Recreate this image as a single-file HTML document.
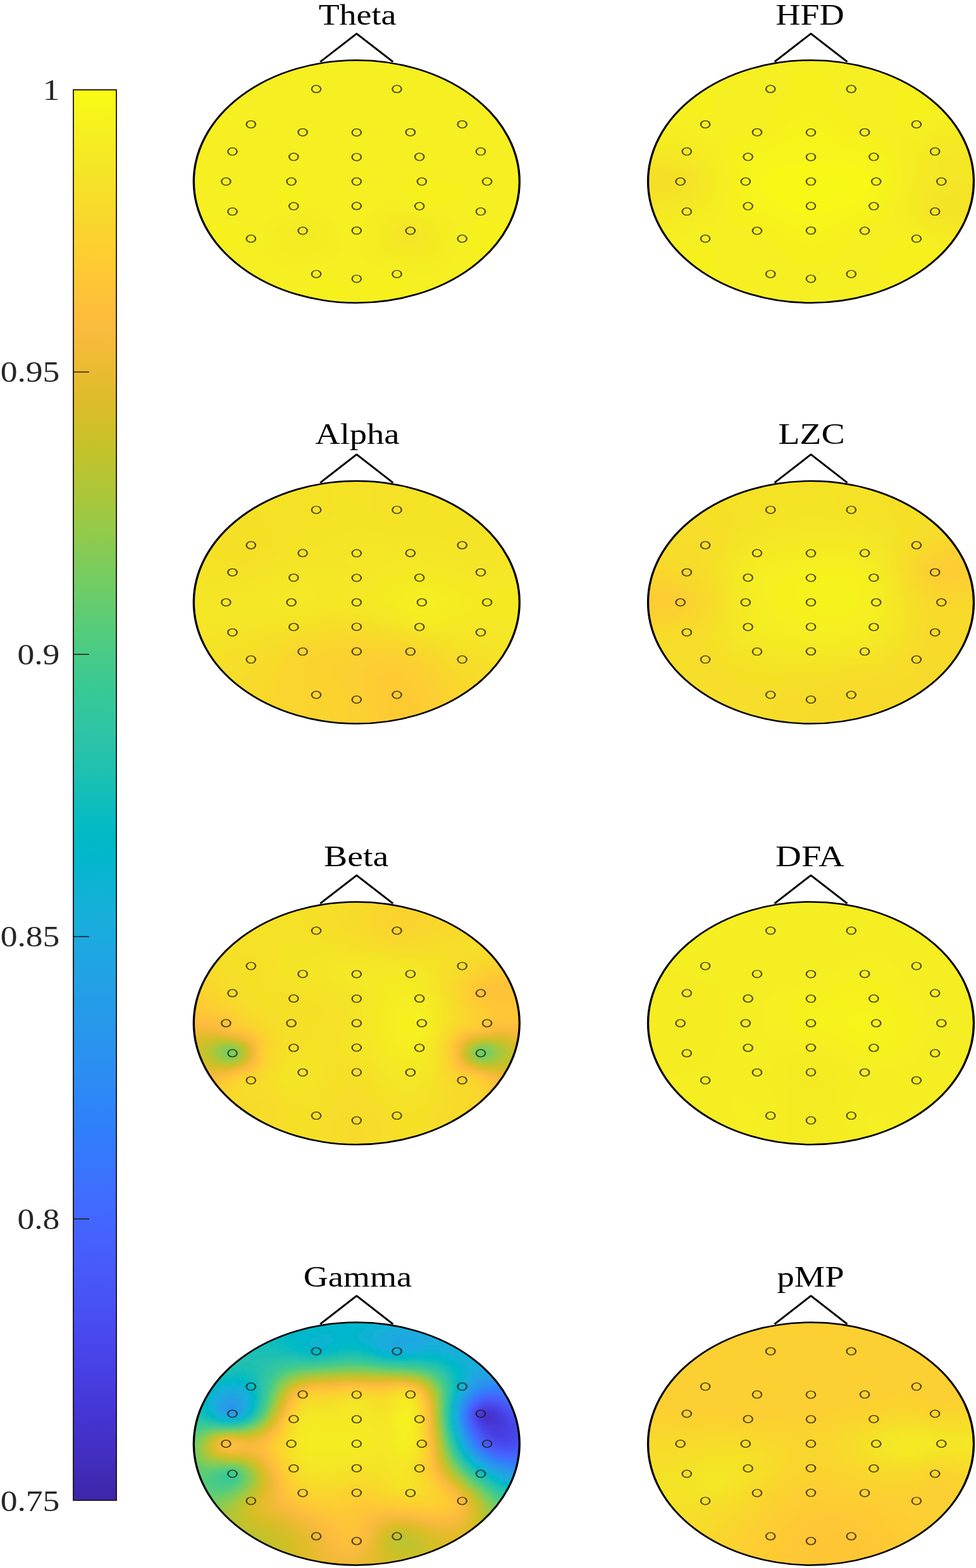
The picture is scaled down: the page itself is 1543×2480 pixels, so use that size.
<!DOCTYPE html>
<html lang="en">
<head>
<meta charset="utf-8">
<title>Topographic maps</title>
<style>
html,body{margin:0;padding:0;background:#fff;}
body{width:1543px;height:2480px;overflow:hidden;}
svg{display:block;}
text{font-family:"Liberation Serif","DejaVu Serif",serif;font-size:46px;}
.tt{fill:#000;}
.tk{fill:#262626;}
</style>
</head>
<body>
<svg width="1543" height="2480" viewBox="0 0 1543 2480">
<defs>
<linearGradient id="cb" x1="0" y1="0" x2="0" y2="1"><stop offset="0.0000" stop-color="#f9fb15"/><stop offset="0.0156" stop-color="#f7f51b"/><stop offset="0.0312" stop-color="#f6ef20"/><stop offset="0.0469" stop-color="#f5e924"/><stop offset="0.0625" stop-color="#f5e327"/><stop offset="0.0781" stop-color="#f7dd2a"/><stop offset="0.0938" stop-color="#f9d62d"/><stop offset="0.1094" stop-color="#fcd030"/><stop offset="0.1250" stop-color="#feca33"/><stop offset="0.1406" stop-color="#fec437"/><stop offset="0.1562" stop-color="#febe3c"/><stop offset="0.1719" stop-color="#f9bb3d"/><stop offset="0.1875" stop-color="#f1ba37"/><stop offset="0.2031" stop-color="#e8bb2f"/><stop offset="0.2188" stop-color="#debc2a"/><stop offset="0.2344" stop-color="#d4bf28"/><stop offset="0.2500" stop-color="#c8c129"/><stop offset="0.2656" stop-color="#bcc42f"/><stop offset="0.2812" stop-color="#afc637"/><stop offset="0.2969" stop-color="#a2c840"/><stop offset="0.3125" stop-color="#94ca4a"/><stop offset="0.3281" stop-color="#85cb55"/><stop offset="0.3438" stop-color="#77cc60"/><stop offset="0.3594" stop-color="#69cd6b"/><stop offset="0.3750" stop-color="#5ccc76"/><stop offset="0.3906" stop-color="#4fcc80"/><stop offset="0.4062" stop-color="#44ca8a"/><stop offset="0.4219" stop-color="#3ac993"/><stop offset="0.4375" stop-color="#34c79c"/><stop offset="0.4531" stop-color="#2ec5a4"/><stop offset="0.4688" stop-color="#28c2ab"/><stop offset="0.4844" stop-color="#1ec0b2"/><stop offset="0.5000" stop-color="#12beb9"/><stop offset="0.5156" stop-color="#07bcc0"/><stop offset="0.5312" stop-color="#01b9c6"/><stop offset="0.5469" stop-color="#04b6cd"/><stop offset="0.5625" stop-color="#0cb3d3"/><stop offset="0.5781" stop-color="#14b0d8"/><stop offset="0.5938" stop-color="#1aacdd"/><stop offset="0.6094" stop-color="#1ea7e1"/><stop offset="0.6250" stop-color="#21a3e3"/><stop offset="0.6406" stop-color="#249ee6"/><stop offset="0.6562" stop-color="#269ae9"/><stop offset="0.6719" stop-color="#2895ec"/><stop offset="0.6875" stop-color="#2c90f0"/><stop offset="0.7031" stop-color="#2d8bf4"/><stop offset="0.7188" stop-color="#2e85f8"/><stop offset="0.7344" stop-color="#3080fa"/><stop offset="0.7500" stop-color="#347afd"/><stop offset="0.7656" stop-color="#3a74fe"/><stop offset="0.7812" stop-color="#3f6efe"/><stop offset="0.7969" stop-color="#4368fe"/><stop offset="0.8125" stop-color="#4562fc"/><stop offset="0.8281" stop-color="#475dfa"/><stop offset="0.8438" stop-color="#4757f7"/><stop offset="0.8594" stop-color="#4852f4"/><stop offset="0.8750" stop-color="#484cef"/><stop offset="0.8906" stop-color="#4746ea"/><stop offset="0.9062" stop-color="#4741e5"/><stop offset="0.9219" stop-color="#463bdd"/><stop offset="0.9375" stop-color="#4536d5"/><stop offset="0.9531" stop-color="#4332ca"/><stop offset="0.9688" stop-color="#422ebf"/><stop offset="0.9844" stop-color="#402ab4"/><stop offset="1.0000" stop-color="#3e26a8"/></linearGradient>
<clipPath id="c0"><ellipse cx="563.8" cy="287.1" rx="258.2" ry="192.5"/></clipPath>
<clipPath id="c1"><ellipse cx="1282.0" cy="287.1" rx="258.2" ry="192.5"/></clipPath>
<clipPath id="c2"><ellipse cx="563.8" cy="952.7" rx="258.2" ry="192.5"/></clipPath>
<clipPath id="c3"><ellipse cx="1282.0" cy="952.7" rx="258.2" ry="192.5"/></clipPath>
<clipPath id="c4"><ellipse cx="563.8" cy="1618.3" rx="258.2" ry="192.5"/></clipPath>
<clipPath id="c5"><ellipse cx="1282.0" cy="1618.3" rx="258.2" ry="192.5"/></clipPath>
<clipPath id="c6"><ellipse cx="563.8" cy="2283.5" rx="258.2" ry="192.5"/></clipPath>
<clipPath id="c7"><ellipse cx="1282.0" cy="2283.5" rx="258.2" ry="192.5"/></clipPath>
<filter id="bl" x="-5%" y="-5%" width="110%" height="110%"><feGaussianBlur stdDeviation="2.2"/></filter>
<path id="m" fill-rule="evenodd" d="M-8.30 0a8.30 6.50 0 1 0 16.60 0a8.30 6.50 0 1 0 -16.60 0zM-6.10 0a6.10 5.05 0 1 0 12.20 0a6.10 5.05 0 1 0 -12.20 0z"/>
</defs>
<rect width="1543" height="2480" fill="#fff"/>
<rect x="116.0" y="142.1" width="68.0" height="2230.8" fill="url(#cb)" stroke="#1a1210" stroke-width="1.8"/>
<text class="tk" transform="translate(94.4 157.8) scale(1.165 1)" text-anchor="end">1</text>
<line x1="116.0" y1="588.4" x2="141.0" y2="588.4" stroke="#1a1210" stroke-width="1.4"/>
<text class="tk" transform="translate(94.4 604.3) scale(1.165 1)" text-anchor="end">0.95</text>
<line x1="116.0" y1="1034.9" x2="141.0" y2="1034.9" stroke="#1a1210" stroke-width="1.4"/>
<text class="tk" transform="translate(94.4 1050.8) scale(1.165 1)" text-anchor="end">0.9</text>
<line x1="116.0" y1="1481.4" x2="141.0" y2="1481.4" stroke="#1a1210" stroke-width="1.4"/>
<text class="tk" transform="translate(94.4 1497.3) scale(1.165 1)" text-anchor="end">0.85</text>
<line x1="116.0" y1="1927.9" x2="141.0" y2="1927.9" stroke="#1a1210" stroke-width="1.4"/>
<text class="tk" transform="translate(94.4 1943.8) scale(1.165 1)" text-anchor="end">0.8</text>
<text class="tk" transform="translate(94.4 2390.3) scale(1.165 1)" text-anchor="end">0.75</text>
<g>
<text class="tt" transform="translate(565.0 38.5) scale(1.172 1)" text-anchor="middle">Theta</text>
<path transform="translate(563.8 53.2) scale(1.22 1)" d="M-47.1 44.6L0 0L47.1 44.6" fill="none" stroke="#000" stroke-width="2.7" stroke-linejoin="round"/>
<g clip-path="url(#c0)"><g filter="url(#bl)" fill="none" stroke-width="4" shape-rendering="crispEdges">
<path stroke="#f5e526" d="M638 361h20M634 365h28M630 369h32M634 373h28M634 377h28M642 381h12"/>
<path stroke="#f5e626" d="M642 353h8M630 357h32M626 361h12M658 361h12M622 365h12M662 365h8M622 369h8M662 369h12M622 373h12M662 373h12M622 377h12M662 377h8M626 381h16M654 381h16M630 385h36M642 389h12"/>
<path stroke="#f5e825" d="M634 349h20M622 353h20M650 353h16M618 357h12M662 357h12M618 361h8M670 361h8M614 365h8M670 365h8M614 369h8M674 369h8M614 373h8M674 373h8M614 377h8M670 377h12M618 381h8M670 381h8M618 385h12M666 385h12M622 389h20M654 389h20M630 393h36"/>
<path stroke="#f5e924" d="M626 345h32M618 349h16M654 349h16M614 353h8M666 353h12M610 357h8M674 357h8M606 361h12M678 361h8M474 365h8M606 365h8M678 365h12M474 369h8M606 369h8M682 369h8M606 373h8M682 373h8M606 377h8M682 377h8M606 381h12M678 381h12M610 385h8M678 385h8M610 389h12M674 389h12M614 393h16M666 393h16M622 397h56M630 401h40"/>
<path stroke="#f5eb23" d="M614 341h48M610 345h16M658 345h16M606 349h12M670 349h16M470 353h16M602 353h12M678 353h12M462 357h32M598 357h12M682 357h12M454 361h44M598 361h8M686 361h8M454 365h20M482 365h20M598 365h8M690 365h8M450 369h24M482 369h20M598 369h8M690 369h8M450 373h52M598 373h8M690 373h8M454 377h48M598 377h8M690 377h8M454 381h44M598 381h8M690 381h8M458 385h36M598 385h12M686 385h12M466 389h20M598 389h12M686 389h12M602 393h12M682 393h12M606 397h16M678 397h12M610 401h20M670 401h16M618 405h64M634 409h40"/>
<path stroke="#f5ec22" d="M614 333h32M606 337h60M598 341h16M662 341h20M466 345h32M594 345h16M674 345h16M454 349h52M594 349h12M686 349h12M446 353h24M486 353h24M590 353h12M690 353h12M442 357h20M494 357h20M590 357h8M694 357h12M438 361h16M498 361h16M590 361h8M694 361h12M434 365h20M502 365h16M586 365h12M698 365h8M434 369h16M502 369h16M586 369h12M698 369h12M434 373h16M502 373h16M586 373h12M698 373h12M434 377h20M502 377h16M586 377h12M698 377h12M434 381h20M498 381h20M586 381h12M698 381h8M438 385h20M494 385h20M586 385h12M698 385h8M438 389h28M486 389h28M586 389h12M698 389h8M442 393h68M590 393h12M694 393h12M446 397h60M590 397h16M690 397h16M454 401h40M594 401h16M686 401h16M598 405h20M682 405h16M606 409h28M674 409h20M618 413h72M634 417h48"/>
<path stroke="#f5ee21" d="M610 321h16M598 325h44M594 329h60M482 333h20M590 333h24M646 333h28M454 337h60M586 337h20M666 337h32M438 341h80M582 341h16M682 341h24M430 345h36M498 345h24M582 345h12M690 345h20M426 349h28M506 349h20M582 349h12M698 349h16M422 353h24M510 353h20M578 353h12M702 353h16M418 357h24M514 357h16M578 357h12M706 357h12M418 361h20M514 361h16M578 361h12M706 361h12M418 365h16M518 365h16M578 365h8M706 365h12M418 369h16M518 369h16M578 369h8M710 369h8M418 373h16M518 373h16M574 373h12M710 373h8M418 377h16M518 377h16M574 377h12M710 377h8M418 381h16M518 381h20M570 381h16M706 381h12M418 385h20M514 385h24M570 385h16M706 385h12M418 389h20M514 389h24M570 389h16M706 389h12M418 393h24M510 393h28M570 393h20M706 393h12M422 397h24M506 397h28M570 397h20M706 397h12M422 401h32M494 401h36M570 401h24M702 401h16M426 405h100M574 405h24M698 405h20M430 409h92M578 409h28M694 409h20M434 413h76M582 413h36M690 413h24M442 417h52M594 417h40M682 417h28M462 421h8M610 421h96M634 425h64M650 429h40"/>
<path stroke="#f6ef20" d="M514 85h100M490 89h148M474 93h180M458 97h208M446 101h236M438 105h252M426 109h276M418 113h292M410 117h308M402 121h324M394 125h340M386 129h352M382 133h364M374 137h376M370 141h388M366 145h396M358 149h408M354 153h420M350 157h428M346 161h436M342 165h444M338 169h452M334 173h460M330 177h468M326 181h472M326 185h476M322 189h484M318 193h492M318 197h492M314 201h500M310 205h508M310 209h508M306 213h516M306 217h516M302 221h524M302 225h524M298 229h532M298 233h532M298 237h532M294 241h540M294 245h540M294 249h540M294 253h540M290 257h548M290 261h548M290 265h548M290 269h548M290 273h548M290 277h548M290 281h548M290 285h548M290 289h396M718 289h120M290 293h380M726 293h112M290 297h352M730 297h108M290 301h148M490 301h148M734 301h104M290 305h144M490 305h152M734 305h104M290 309h140M486 309h156M734 309h104M290 313h144M482 313h164M730 313h108M290 317h152M474 317h176M726 317h112M294 321h160M466 321h144M626 321h32M710 321h124M294 325h304M642 325h192M294 329h300M654 329h180M294 333h188M502 333h88M674 333h160M298 337h156M514 337h72M698 337h132M298 341h140M518 341h64M706 341h124M298 345h132M522 345h60M710 345h120M302 349h124M526 349h56M714 349h44M786 349h40M302 353h120M530 353h48M718 353h32M794 353h32M306 357h32M370 357h48M530 357h48M718 357h28M798 357h24M306 361h28M378 361h40M530 361h48M718 361h24M802 361h20M310 365h20M382 365h36M534 365h44M718 365h20M806 365h12M310 369h16M382 369h36M534 369h44M718 369h20M806 369h12M314 373h16M386 373h32M534 373h40M718 373h16M806 373h8M318 377h12M386 377h32M534 377h40M718 377h16M802 377h8M318 381h16M386 381h32M538 381h32M718 381h16M798 381h12M322 385h20M386 385h32M538 385h32M718 385h20M794 385h12M326 389h28M382 389h36M538 389h32M718 389h20M786 389h16M326 393h44M378 393h40M538 393h32M718 393h24M774 393h24M330 397h92M534 397h36M718 397h28M766 397h32M334 401h88M530 401h40M718 401h76M338 405h88M526 405h48M718 405h72M342 409h88M522 409h56M714 409h72M346 413h88M510 413h72M714 413h68M350 417h92M494 417h100M710 417h68M354 421h108M470 421h140M706 421h68M358 425h276M698 425h68M366 429h284M690 429h72M370 433h388M374 437h232M630 437h124M382 441h124M514 441h76M638 441h108M386 445h108M530 445h52M642 445h96M394 449h96M538 449h40M646 449h88M402 453h88M542 453h28M650 453h76M410 457h80M550 457h16M650 457h68M418 461h76M554 461h8M646 461h64M426 465h72M550 465h16M642 465h60M434 469h68M546 469h24M634 469h56M446 473h64M538 473h36M630 473h52M458 477h60M530 477h52M622 477h48M474 481h116M614 481h40M490 485h148M514 489h100"/>
<path stroke="#f6f11f" d="M686 289h32M670 293h56M642 297h88M438 301h52M638 301h96M434 305h56M642 305h92M430 309h56M642 309h92M434 313h48M646 313h84M442 317h32M650 317h76M454 321h12M658 321h52M758 349h28M750 353h44M338 357h32M746 357h52M334 361h44M742 361h60M330 365h52M738 365h68M326 369h56M738 369h68M330 373h56M734 373h72M330 377h56M734 377h68M334 381h52M734 381h64M342 385h44M738 385h56M354 389h28M738 389h48M370 393h8M742 393h32M746 397h20M606 437h24M506 441h8M590 441h48M494 445h36M582 445h60M490 449h48M578 449h68M490 453h52M570 453h80M490 457h60M566 457h84M494 461h60M562 461h84M498 465h52M566 465h76M502 469h44M570 469h64M510 473h28M574 473h56M518 477h12M582 477h40M590 481h24"/>
</g></g>
<circle transform="translate(563.8 287.1) scale(1.3418 1)" r="191.9" fill="none" stroke="#000" stroke-width="2.5"/>
<g fill="#1e1600" fill-opacity="0.78">
<use href="#m" x="500.0" y="140.8"/>
<use href="#m" x="627.5" y="140.8"/>
<use href="#m" x="396.8" y="196.7"/>
<use href="#m" x="730.7" y="196.7"/>
<use href="#m" x="367.5" y="239.6"/>
<use href="#m" x="760.0" y="239.6"/>
<use href="#m" x="357.4" y="287.1"/>
<use href="#m" x="770.1" y="287.1"/>
<use href="#m" x="367.5" y="334.6"/>
<use href="#m" x="760.0" y="334.6"/>
<use href="#m" x="396.8" y="377.5"/>
<use href="#m" x="730.7" y="377.5"/>
<use href="#m" x="500.0" y="433.4"/>
<use href="#m" x="627.5" y="433.4"/>
<use href="#m" x="563.8" y="440.9"/>
<use href="#m" x="478.6" y="209.2"/>
<use href="#m" x="648.9" y="209.2"/>
<use href="#m" x="464.3" y="248.1"/>
<use href="#m" x="663.2" y="248.1"/>
<use href="#m" x="460.6" y="287.1"/>
<use href="#m" x="666.9" y="287.1"/>
<use href="#m" x="464.3" y="326.1"/>
<use href="#m" x="663.2" y="326.1"/>
<use href="#m" x="478.6" y="365.0"/>
<use href="#m" x="648.9" y="365.0"/>
<use href="#m" x="563.8" y="209.5"/>
<use href="#m" x="563.8" y="248.4"/>
<use href="#m" x="563.8" y="287.1"/>
<use href="#m" x="563.8" y="325.8"/>
<use href="#m" x="563.8" y="364.7"/>
</g>
</g>
<g>
<text class="tt" transform="translate(1280.4 38.5) scale(1.179 1)" text-anchor="middle">HFD</text>
<path transform="translate(1282.0 53.2) scale(1.22 1)" d="M-47.1 44.6L0 0L47.1 44.6" fill="none" stroke="#000" stroke-width="2.7" stroke-linejoin="round"/>
<g clip-path="url(#c1)"><g filter="url(#bl)" fill="none" stroke-width="4" shape-rendering="crispEdges">
<path stroke="#f6e028" d="M1032 273h28M1016 277h56M1008 281h72M1008 285h72M1008 289h72M1008 293h72M1016 297h56M1032 301h28"/>
<path stroke="#f5e228" d="M1016 265h44M1008 269h68M1008 273h24M1060 273h20M1008 277h8M1072 277h12M1080 281h8M1080 285h8M1080 289h8M1080 293h8M1008 297h8M1072 297h12M1008 301h24M1060 301h20M1008 305h68M1012 309h48"/>
<path stroke="#f5e327" d="M1008 257h44M1008 261h64M1008 265h8M1060 265h20M1076 269h12M1080 273h12M1084 277h12M1088 281h8M1088 285h8M1088 289h8M1088 293h8M1084 297h12M1080 301h12M1076 305h12M1008 309h4M1060 309h20M1496 309h24M1008 313h64M1488 313h40M1008 317h44M1484 317h52M1480 321h60M1480 325h68M1480 329h68M1480 333h72M1484 337h64M1496 341h48M1520 345h16"/>
<path stroke="#f5e526" d="M1012 249h20M1012 253h52M1052 257h28M1072 261h16M1080 265h12M1088 269h8M1092 273h8M1096 277h8M1096 281h8M1096 285h8M1096 289h8M1500 289h24M1096 293h8M1492 293h40M1096 297h8M1488 297h56M1092 301h8M1480 301h76M1088 305h8M1476 305h80M1080 309h12M1476 309h20M1520 309h36M1072 313h16M1472 313h16M1528 313h28M1052 317h28M1468 317h16M1536 317h20M1012 321h52M1468 321h12M1540 321h12M1012 325h24M1468 325h12M1548 325h4M1468 329h12M1548 329h4M1468 333h12M1472 337h12M1476 341h20M1544 341h4M1480 345h40M1536 345h12M1492 349h52M1508 353h36M1536 357h4"/>
<path stroke="#f5e626" d="M1012 241h12M1012 245h44M1496 245h36M1032 249h40M1488 249h52M1064 253h20M1488 253h60M1080 257h12M1484 257h72M1088 261h8M1484 261h72M1092 265h12M1484 265h72M1096 269h8M1484 269h72M1100 273h8M1484 273h72M1104 277h4M1480 277h76M1104 281h8M1480 281h76M1104 285h8M1476 285h80M1104 289h8M1476 289h24M1524 289h32M1104 293h8M1472 293h20M1532 293h24M1104 297h4M1468 297h20M1544 297h12M1100 301h8M1468 301h12M1096 305h8M1464 305h12M1092 309h12M1464 309h12M1088 313h12M1460 313h12M1080 317h12M1460 317h8M1064 321h20M1460 321h8M1036 325h40M1460 325h8M1012 329h44M1460 329h8M1012 333h16M1460 333h8M1460 337h12M1464 341h12M1468 345h12M1476 349h16M1484 353h24M1496 357h40M1512 361h28M1528 365h8"/>
<path stroke="#f5e825" d="M1512 225h32M1496 229h52M1016 233h8M1484 233h64M1016 237h32M1476 237h72M1024 241h44M1472 241h80M1056 245h24M1472 245h24M1532 245h20M1072 249h20M1468 249h20M1540 249h12M1084 253h16M1468 253h20M1548 253h4M1092 257h12M1468 257h16M1096 261h12M1468 261h16M1104 265h8M1468 265h16M1104 269h8M1468 269h16M1108 273h8M1468 273h16M1108 277h8M1464 277h16M1112 281h4M1464 281h16M1112 285h8M1464 285h12M1112 289h8M1460 289h16M1112 293h4M1460 293h12M1108 297h8M1460 297h8M1108 301h8M1456 301h12M1104 305h8M1456 305h8M1104 309h8M1452 309h12M1100 313h8M1452 313h8M1092 317h12M1452 317h8M1084 321h16M1452 321h8M1076 325h16M1452 325h8M1056 329h24M1452 329h8M1028 333h40M1452 333h8M1016 337h36M1452 337h8M1016 341h8M1456 341h8M1460 345h8M1464 349h12M1468 353h16M1480 357h16M1488 361h24M1500 365h28M1516 369h20M1528 373h4"/>
<path stroke="#f5e924" d="M1516 213h24M1500 217h40M1488 221h56M1020 225h8M1476 225h36M1016 229h28M1468 229h28M1024 233h40M1464 233h20M1048 237h32M1460 237h16M1068 241h20M1460 241h12M1080 245h20M1456 245h16M1092 249h12M1456 249h12M1100 253h8M1456 253h12M1104 257h8M1456 257h12M1108 261h8M1456 261h12M1112 265h8M1456 265h12M1112 269h8M1456 269h12M1116 273h8M1456 273h12M1116 277h8M1456 277h8M1116 281h8M1452 281h12M1120 285h4M1452 285h12M1120 289h4M1452 289h8M1116 293h8M1452 293h8M1116 297h8M1448 297h12M1116 301h8M1448 301h8M1112 305h8M1448 305h8M1112 309h8M1444 309h8M1108 313h8M1444 313h8M1104 317h12M1444 317h8M1100 321h12M1444 321h8M1092 325h12M1444 325h8M1080 329h20M1444 329h8M1068 333h24M1444 333h8M1052 337h28M1444 337h8M1024 341h44M1448 341h8M1016 345h32M1448 345h12M1020 349h8M1452 349h12M1460 353h8M1464 357h16M1472 361h16M1484 365h16M1492 369h24M1504 373h24M1516 377h12"/>
<path stroke="#f5eb23" d="M1520 201h12M1508 205h28M1496 209h40M1484 213h32M1024 217h12M1472 217h28M1020 221h28M1464 221h24M1028 225h40M1460 225h16M1044 229h36M1456 229h12M1064 233h28M1452 233h12M1080 237h20M1448 237h12M1088 241h20M1448 241h12M1100 245h12M1448 245h8M1104 249h12M1448 249h8M1108 253h12M1444 253h12M1112 257h12M1444 257h12M1116 261h8M1444 261h12M1120 265h8M1444 265h12M1120 269h8M1444 269h12M1124 273h8M1444 273h12M1124 277h8M1444 277h12M1124 281h8M1444 281h8M1124 285h8M1444 285h8M1124 289h8M1444 289h8M1124 293h8M1440 293h12M1124 297h8M1440 297h8M1124 301h8M1440 301h8M1120 305h8M1440 305h8M1120 309h8M1436 309h8M1116 313h12M1436 313h8M1116 317h8M1436 317h8M1112 321h8M1436 321h8M1104 325h12M1436 325h8M1100 329h12M1436 329h8M1092 333h16M1436 333h8M1080 337h20M1436 337h8M1068 341h24M1436 341h12M1048 345h32M1440 345h8M1028 349h40M1444 349h8M1020 353h32M1448 353h12M1024 357h12M1452 357h12M1460 361h12M1468 365h16M1476 369h16M1488 373h16M1496 377h20M1508 381h20M1516 385h8"/>
<path stroke="#f5ec22" d="M1520 189h4M1512 193h16M1500 197h28M1488 201h32M1028 205h8M1480 205h28M1028 209h20M1472 209h24M1024 213h36M1460 213h24M1036 217h40M1456 217h16M1048 221h40M1448 221h16M1068 225h28M1444 225h16M1080 229h28M1440 229h16M1092 233h20M1440 233h12M1100 237h20M1436 237h12M1108 241h16M1436 241h12M1112 245h12M1436 245h12M1116 249h12M1436 249h12M1120 253h12M1436 253h8M1124 257h8M1436 257h8M1124 261h12M1436 261h8M1128 265h8M1436 265h8M1128 269h8M1436 269h8M1132 273h8M1436 273h8M1132 277h8M1436 277h8M1132 281h8M1436 281h8M1132 285h8M1436 285h8M1132 289h8M1436 289h8M1132 293h8M1432 293h8M1132 297h8M1432 297h8M1132 301h8M1432 301h8M1128 305h8M1432 305h8M1128 309h8M1428 309h8M1128 313h8M1428 313h8M1124 317h8M1428 317h8M1120 321h12M1428 321h8M1116 325h12M1428 325h8M1112 329h16M1424 329h12M1108 333h16M1424 333h12M1100 337h20M1428 337h8M1092 341h20M1428 341h8M1080 345h28M1428 345h12M1068 349h32M1432 349h12M1052 353h36M1436 353h12M1036 357h40M1440 357h12M1024 361h36M1448 361h12M1028 365h20M1456 365h12M1028 369h8M1464 369h12M1472 373h16M1480 377h16M1488 381h20M1500 385h16M1508 389h12M1516 393h4"/>
<path stroke="#f5ee21" d="M1512 177h4M1508 181h8M1500 185h20M1040 189h4M1492 189h28M1036 193h16M1480 193h32M1036 197h24M1472 197h28M1032 201h36M1464 201h24M1036 205h44M1456 205h24M1048 209h44M1448 209h24M1060 213h44M1440 213h20M1076 217h36M1432 217h24M1088 221h32M1428 221h20M1096 225h28M1428 225h16M1108 229h20M1424 229h16M1112 233h20M1424 233h16M1120 237h16M1424 237h12M1124 241h12M1424 241h12M1124 245h12M1424 245h12M1128 249h12M1424 249h12M1132 253h8M1424 253h12M1132 257h12M1428 257h8M1136 261h8M1428 261h8M1136 265h8M1428 265h8M1136 269h8M1428 269h8M1140 273h8M1428 273h8M1140 277h8M1428 277h8M1140 281h8M1428 281h8M1140 285h8M1428 285h8M1140 289h8M1428 289h8M1140 293h8M1424 293h8M1140 297h8M1424 297h8M1140 301h8M1424 301h8M1136 305h8M1424 305h8M1136 309h8M1420 309h8M1136 313h8M1420 313h8M1132 317h12M1420 317h8M1132 321h8M1420 321h8M1128 325h12M1416 325h12M1128 329h12M1416 329h8M1124 333h12M1416 333h8M1120 337h16M1416 337h12M1112 341h20M1416 341h12M1108 345h20M1416 345h12M1100 349h28M1416 349h16M1088 353h32M1420 353h16M1076 357h36M1420 357h20M1060 361h44M1428 361h20M1048 365h44M1436 365h20M1036 369h44M1448 369h16M1032 373h36M1456 373h16M1036 377h24M1464 377h16M1036 381h16M1472 381h16M1040 385h4M1480 385h20M1488 389h20M1496 393h20M1504 397h12M1508 401h4"/>
<path stroke="#f6ef20" d="M1232 85h100M1208 89h148M1192 93h180M1176 97h212M1164 101h236M1156 105h252M1144 109h276M1136 113h292M1128 117h124M1300 117h136M1120 121h132M1308 121h136M1112 125h140M1308 125h144M1108 129h140M1312 129h144M1100 133h148M1312 133h136M1092 137h4M1112 137h136M1316 137h124M1120 141h124M1316 141h112M1124 145h120M1320 145h96M1128 149h112M1324 149h88M1072 153h4M1132 153h108M1324 153h88M1068 157h8M1132 157h104M1328 157h80M1064 161h12M1132 161h104M1332 161h76M1496 161h4M1060 165h16M1132 165h100M1332 165h76M1496 165h8M1056 169h24M1132 169h100M1336 169h72M1492 169h16M1052 173h32M1132 173h96M1336 173h72M1488 173h24M1048 177h40M1132 177h96M1340 177h68M1480 177h32M1048 181h48M1128 181h96M1340 181h72M1472 181h36M1044 185h60M1124 185h100M1344 185h72M1464 185h36M1044 189h176M1344 189h72M1456 189h36M1052 193h168M1348 193h76M1448 193h32M1060 197h156M1348 197h124M1068 201h144M1352 201h112M1080 205h128M1356 205h100M1092 209h112M1360 209h88M1104 213h92M1368 213h72M1112 217h48M1388 217h44M1120 221h36M1400 221h28M1124 225h28M1404 225h24M1128 229h24M1408 229h16M1132 233h20M1408 233h16M1136 237h16M1412 237h12M1136 241h16M1412 241h12M1136 245h16M1412 245h12M1140 249h12M1416 249h8M1140 253h12M1416 253h8M1144 257h8M1416 257h12M1144 261h8M1416 261h12M1144 265h8M1416 265h12M1144 269h8M1420 269h8M1148 273h8M1420 273h8M1148 277h8M1420 277h8M1148 281h8M1420 281h8M1148 285h8M1420 285h8M1148 289h8M1420 289h8M1148 293h8M1416 293h8M1148 297h8M1416 297h8M1148 301h8M1416 301h8M1144 305h12M1416 305h8M1144 309h8M1412 309h8M1144 313h8M1412 313h8M1144 317h8M1412 317h8M1140 321h12M1412 321h8M1140 325h12M1408 325h8M1140 329h12M1408 329h8M1136 333h16M1408 333h8M1136 337h16M1404 337h12M1132 341h20M1404 341h12M1128 345h24M1400 345h16M1128 349h28M1396 349h20M1120 353h36M1392 353h28M1112 357h52M1384 357h36M1104 361h88M1368 361h60M1092 365h112M1360 365h76M1080 369h128M1356 369h92M1068 373h144M1352 373h104M1060 377h156M1348 377h72M1436 377h28M1052 381h168M1344 381h64M1452 381h20M1044 385h180M1344 385h60M1460 385h20M1044 389h60M1120 389h108M1340 389h60M1468 389h20M1044 393h52M1128 393h104M1336 393h64M1472 393h24M1048 397h40M1128 397h104M1332 397h64M1480 397h24M1052 401h32M1132 401h104M1328 401h68M1488 401h20M1056 405h24M1132 405h108M1324 405h68M1492 405h16M1060 409h16M1132 409h116M1320 409h72M1496 409h8M1064 413h12M1132 413h120M1312 413h80M1068 417h8M1132 417h132M1300 417h92M1072 421h4M1132 421h260M1128 425h264M1124 429h272M1120 433h284M1112 437h308M1100 441h340M1104 445h348M1112 449h340M1120 453h324M1128 457h308M1136 461h292M1144 465h276M1156 469h252M1164 473h236M1176 477h212M1192 481h180M1208 485h148M1232 489h100"/>
<path stroke="#f6f11f" d="M1252 117h48M1252 121h56M1252 125h56M1248 129h64M1248 133h64M1448 133h16M1096 137h16M1248 137h68M1440 137h32M1088 141h32M1244 141h72M1428 141h48M1084 145h40M1244 145h76M1416 145h64M1080 149h48M1240 149h84M1412 149h72M1076 153h56M1240 153h84M1412 153h80M1076 157h56M1236 157h92M1408 157h88M1076 161h56M1236 161h96M1408 161h88M1076 165h56M1232 165h100M1408 165h88M1080 169h52M1232 169h104M1408 169h84M1084 173h48M1228 173h108M1408 173h80M1088 177h44M1228 177h112M1408 177h72M1096 181h32M1224 181h52M1288 181h52M1412 181h60M1104 185h20M1224 185h40M1304 185h40M1416 185h48M1220 189h36M1308 189h36M1416 189h40M1220 193h28M1316 193h32M1424 193h24M1216 197h28M1320 197h28M1212 201h28M1324 201h28M1208 205h28M1328 205h28M1204 209h28M1332 209h28M1196 213h28M1340 213h28M1160 217h60M1344 217h44M1156 221h52M1352 221h48M1152 225h44M1364 225h40M1152 229h28M1376 229h32M1152 233h20M1388 233h20M1152 237h16M1392 237h20M1152 241h12M1396 241h16M1152 245h12M1400 245h12M1152 249h12M1404 249h12M1152 253h12M1404 253h12M1152 257h12M1408 257h8M1152 261h12M1408 261h8M1152 265h12M1408 265h8M1152 269h12M1408 269h12M1156 273h8M1412 273h8M1156 277h8M1412 277h8M1156 281h8M1412 281h8M1156 285h8M1412 285h8M1156 289h8M1412 289h8M1156 293h8M1408 293h8M1156 297h8M1408 297h8M1156 301h8M1408 301h8M1156 305h8M1408 305h8M1152 309h12M1404 309h8M1152 313h12M1404 313h8M1152 317h12M1404 317h8M1152 321h12M1400 321h12M1152 325h12M1400 325h8M1152 329h12M1396 329h12M1152 333h12M1392 333h16M1152 337h16M1392 337h12M1152 341h20M1384 341h20M1152 345h28M1376 345h24M1156 349h36M1368 349h28M1156 353h52M1356 353h36M1164 357h52M1348 357h36M1192 361h32M1340 361h28M1204 365h24M1336 365h24M1208 369h28M1328 369h28M1212 373h28M1324 373h28M1216 377h32M1316 377h32M1420 377h16M1220 381h36M1308 381h36M1408 381h44M1224 385h44M1296 385h48M1404 385h56M1104 389h16M1228 389h112M1400 389h68M1096 393h32M1232 393h104M1400 393h72M1088 397h40M1232 397h100M1396 397h84M1084 401h48M1236 401h92M1396 401h92M1080 405h52M1240 405h84M1392 405h100M1076 409h56M1248 409h72M1392 409h104M1076 413h56M1252 413h60M1392 413h108M1076 417h56M1264 417h36M1392 417h104M1076 421h56M1392 421h100M1076 425h52M1392 425h96M1084 429h40M1396 429h84M1088 433h32M1404 433h72M1092 437h20M1420 437h52M1440 441h24M1452 445h8"/>
<path stroke="#f6f21e" d="M1276 181h12M1264 185h40M1256 189h52M1248 193h68M1244 197h76M1240 201h84M1236 205h32M1296 205h32M1232 209h28M1304 209h28M1224 213h32M1312 213h28M1220 217h28M1316 217h28M1208 221h32M1324 221h28M1196 225h36M1332 225h32M1180 229h44M1340 229h36M1172 233h40M1352 233h36M1168 237h28M1364 237h28M1164 241h20M1376 241h20M1164 245h16M1384 245h16M1164 249h12M1388 249h16M1164 253h12M1392 253h12M1164 257h8M1396 257h12M1164 261h8M1396 261h12M1164 265h8M1400 265h8M1164 269h12M1400 269h8M1164 273h12M1400 273h12M1164 277h12M1400 277h12M1164 281h12M1400 281h12M1164 285h12M1400 285h12M1164 289h12M1400 289h12M1164 293h12M1400 293h8M1164 297h12M1400 297h8M1164 301h12M1400 301h8M1164 305h12M1396 305h12M1164 309h12M1396 309h8M1164 313h12M1396 313h8M1164 317h12M1392 317h12M1164 321h12M1392 321h8M1164 325h12M1388 325h12M1164 329h16M1384 329h12M1164 333h20M1380 333h12M1168 337h24M1372 337h20M1172 341h32M1360 341h24M1180 345h36M1352 345h24M1192 349h32M1340 349h28M1208 353h24M1332 353h24M1216 357h24M1324 357h24M1224 361h24M1316 361h24M1228 365h28M1308 365h28M1236 369h36M1292 369h36M1240 373h84M1248 377h68M1256 381h52M1268 385h28"/>
<path stroke="#f7f41c" d="M1268 205h28M1260 209h44M1256 213h56M1248 217h68M1240 221h84M1232 225h100M1224 229h52M1288 229h52M1212 233h48M1304 233h48M1196 237h52M1320 237h44M1184 241h48M1336 241h40M1180 245h36M1352 245h32M1176 249h28M1364 249h24M1176 253h20M1376 253h16M1172 257h20M1380 257h16M1172 261h16M1384 261h12M1172 265h16M1384 265h16M1176 269h12M1388 269h12M1176 273h12M1388 273h12M1176 277h12M1392 277h8M1176 281h12M1392 281h8M1176 285h12M1392 285h8M1176 289h12M1392 289h8M1176 293h12M1392 293h8M1176 297h12M1392 297h8M1176 301h12M1388 301h12M1176 305h12M1388 305h8M1176 309h12M1384 309h12M1176 313h12M1384 313h12M1176 317h12M1380 317h12M1176 321h16M1376 321h16M1176 325h20M1372 325h16M1180 329h24M1364 329h20M1184 333h32M1352 333h28M1192 337h32M1344 337h28M1204 341h28M1332 341h28M1216 345h28M1324 345h28M1224 349h28M1312 349h28M1232 353h32M1300 353h32M1240 357h84M1248 361h68M1256 365h52M1272 369h20"/>
<path stroke="#f7f51b" d="M1276 229h12M1260 233h44M1248 237h72M1232 241h104M1216 245h136M1204 249h160M1196 253h180M1192 257h88M1340 257h40M1188 261h44M1356 261h28M1188 265h32M1364 265h20M1188 269h28M1372 269h16M1188 273h24M1376 273h12M1188 277h20M1376 277h16M1188 281h20M1380 281h12M1188 285h20M1380 285h12M1188 289h20M1380 289h12M1188 293h20M1380 293h12M1188 297h20M1376 297h16M1188 301h20M1376 301h12M1188 305h20M1372 305h16M1188 309h24M1368 309h16M1188 313h24M1364 313h20M1188 317h32M1360 317h20M1192 321h32M1352 321h24M1196 325h36M1340 325h32M1204 329h36M1328 329h36M1216 333h32M1320 333h32M1224 337h36M1308 337h36M1232 341h44M1292 341h40M1244 345h80M1252 349h60M1264 353h36"/>
<path stroke="#f8f719" d="M1280 257h60M1232 261h124M1220 265h144M1216 269h156M1212 273h164M1208 277h168M1208 281h100M1344 281h36M1208 285h88M1352 285h28M1208 289h76M1352 289h28M1208 293h56M1352 293h28M1208 297h48M1348 297h28M1208 301h44M1344 301h32M1208 305h48M1340 305h32M1212 309h44M1332 309h36M1212 313h48M1320 313h44M1220 317h44M1312 317h48M1224 321h48M1300 321h52M1232 325h108M1240 329h88M1248 333h72M1260 337h48M1276 341h16"/>
<path stroke="#f8f818" d="M1308 281h36M1296 285h56M1284 289h68M1264 293h88M1256 297h92M1252 301h92M1256 305h84M1256 309h76M1260 313h60M1264 317h48M1272 321h28"/>
</g></g>
<circle transform="translate(1282.0 287.1) scale(1.3418 1)" r="191.9" fill="none" stroke="#000" stroke-width="2.5"/>
<g fill="#1e1600" fill-opacity="0.78">
<use href="#m" x="1218.2" y="140.8"/>
<use href="#m" x="1345.8" y="140.8"/>
<use href="#m" x="1115.1" y="196.7"/>
<use href="#m" x="1448.9" y="196.7"/>
<use href="#m" x="1085.8" y="239.6"/>
<use href="#m" x="1478.2" y="239.6"/>
<use href="#m" x="1075.7" y="287.1"/>
<use href="#m" x="1488.3" y="287.1"/>
<use href="#m" x="1085.8" y="334.6"/>
<use href="#m" x="1478.2" y="334.6"/>
<use href="#m" x="1115.1" y="377.5"/>
<use href="#m" x="1448.9" y="377.5"/>
<use href="#m" x="1218.2" y="433.4"/>
<use href="#m" x="1345.8" y="433.4"/>
<use href="#m" x="1282.0" y="440.9"/>
<use href="#m" x="1196.9" y="209.2"/>
<use href="#m" x="1367.1" y="209.2"/>
<use href="#m" x="1182.6" y="248.1"/>
<use href="#m" x="1381.4" y="248.1"/>
<use href="#m" x="1178.8" y="287.1"/>
<use href="#m" x="1385.2" y="287.1"/>
<use href="#m" x="1182.6" y="326.1"/>
<use href="#m" x="1381.4" y="326.1"/>
<use href="#m" x="1196.9" y="365.0"/>
<use href="#m" x="1367.1" y="365.0"/>
<use href="#m" x="1282.0" y="209.5"/>
<use href="#m" x="1282.0" y="248.4"/>
<use href="#m" x="1282.0" y="287.1"/>
<use href="#m" x="1282.0" y="325.8"/>
<use href="#m" x="1282.0" y="364.7"/>
</g>
</g>
<g>
<text class="tt" transform="translate(564.9 701.8) scale(1.186 1)" text-anchor="middle">Alpha</text>
<path transform="translate(563.8 718.8) scale(1.22 1)" d="M-47.1 44.6L0 0L47.1 44.6" fill="none" stroke="#000" stroke-width="2.7" stroke-linejoin="round"/>
<g clip-path="url(#c2)"><g filter="url(#bl)" fill="none" stroke-width="4" shape-rendering="crispEdges">
<path stroke="#feca33" d="M622 1082h8M614 1086h24M614 1090h28M610 1094h36M610 1098h40M610 1102h40M610 1106h44M610 1110h44M610 1114h48M610 1118h48M614 1122h44M614 1126h44M614 1130h44M618 1134h40M618 1138h40M622 1142h32M626 1146h24"/>
<path stroke="#fdcc32" d="M610 1062h16M598 1066h40M594 1070h48M594 1074h56M594 1078h56M594 1082h28M630 1082h24M594 1086h20M638 1086h20M594 1090h20M642 1090h20M594 1094h16M646 1094h16M594 1098h16M650 1098h16M594 1102h16M650 1102h16M594 1106h16M654 1106h12M594 1110h16M654 1110h16M594 1114h16M658 1114h12M594 1118h16M658 1118h12M598 1122h16M658 1122h12M598 1126h16M658 1126h16M598 1130h16M658 1130h16M598 1134h20M658 1134h16M602 1138h16M658 1138h16M602 1142h20M654 1142h16M606 1146h20M650 1146h8M606 1150h36M610 1154h8"/>
<path stroke="#fdcd31" d="M598 1050h28M586 1054h52M578 1058h68M574 1062h36M626 1062h24M574 1066h24M638 1066h16M574 1070h20M642 1070h16M574 1074h20M650 1074h12M574 1078h20M650 1078h16M574 1082h20M654 1082h16M574 1086h20M658 1086h12M578 1090h16M662 1090h12M578 1094h16M662 1094h12M578 1098h16M666 1098h12M582 1102h12M666 1102h12M582 1106h12M666 1106h12M582 1110h12M670 1110h12M582 1114h12M670 1114h12M582 1118h12M670 1118h12M582 1122h16M670 1122h12M582 1126h16M674 1126h8M582 1130h16M674 1130h12M582 1134h16M674 1134h12M586 1138h16M674 1138h8M586 1142h16M586 1146h20M590 1150h16M590 1154h20"/>
<path stroke="#fccf31" d="M582 1042h44M566 1046h76M558 1050h40M626 1050h24M554 1054h32M638 1054h16M550 1058h28M646 1058h12M550 1062h24M650 1062h12M550 1066h24M654 1066h12M550 1070h24M658 1070h12M554 1074h20M662 1074h12M554 1078h20M666 1078h12M558 1082h16M670 1082h8M558 1086h16M670 1086h12M562 1090h16M674 1090h8M562 1094h16M674 1094h12M566 1098h12M678 1098h8M566 1102h16M678 1102h8M570 1106h12M678 1106h12M570 1110h12M682 1110h8M570 1114h12M682 1114h8M570 1118h12M682 1118h12M570 1122h12M682 1122h12M570 1126h12M682 1126h12M566 1130h16M686 1130h8M566 1134h16M686 1134h8M570 1138h16M570 1142h16M570 1146h16M570 1150h20M574 1154h16"/>
<path stroke="#fcd030" d="M578 1034h24M554 1038h88M542 1042h40M626 1042h24M534 1046h32M642 1046h16M530 1050h28M650 1050h12M526 1054h28M654 1054h12M526 1058h24M658 1058h12M526 1062h24M662 1062h12M526 1066h24M666 1066h12M530 1070h20M670 1070h12M530 1074h24M674 1074h8M534 1078h20M678 1078h8M538 1082h20M678 1082h12M538 1086h20M682 1086h8M542 1090h20M682 1090h12M546 1094h16M686 1094h8M546 1098h20M686 1098h12M550 1102h16M686 1102h12M550 1106h20M690 1106h8M550 1110h20M690 1110h12M550 1114h20M690 1114h12M550 1118h20M694 1118h8M550 1122h20M694 1122h8M550 1126h20M694 1126h12M550 1130h16M694 1130h8M550 1134h16M550 1138h20M550 1142h20M550 1146h20M550 1150h20M554 1154h20M558 1158h12"/>
<path stroke="#fbd22f" d="M546 1030h76M534 1034h44M602 1034h44M522 1038h32M642 1038h12M510 1042h32M650 1042h12M506 1046h28M658 1046h8M502 1050h28M662 1050h8M502 1054h24M666 1054h8M502 1058h24M670 1058h8M502 1062h24M674 1062h8M502 1066h24M678 1066h8M502 1070h28M682 1070h8M506 1074h24M682 1074h12M510 1078h24M686 1078h8M514 1082h24M690 1082h8M514 1086h24M690 1086h8M518 1090h24M694 1090h8M522 1094h24M694 1094h8M522 1098h24M698 1098h8M526 1102h24M698 1102h8M526 1106h24M698 1106h12M526 1110h24M702 1110h8M526 1114h24M702 1114h8M526 1118h24M702 1118h12M526 1122h24M702 1122h12M526 1126h24M706 1126h4M522 1130h28M522 1134h28M522 1138h28M522 1142h28M526 1146h24M526 1150h24M530 1154h24"/>
<path stroke="#fbd32e" d="M554 1022h32M530 1026h96M514 1030h32M622 1030h28M498 1034h36M646 1034h12M490 1038h32M654 1038h12M486 1042h24M662 1042h8M482 1046h24M666 1046h8M478 1050h24M670 1050h12M478 1054h24M674 1054h12M478 1058h24M678 1058h12M478 1062h24M682 1062h12M478 1066h24M686 1066h8M478 1070h24M690 1070h8M482 1074h24M694 1074h8M482 1078h28M694 1078h12M486 1082h28M698 1082h8M486 1086h28M698 1086h12M490 1090h28M702 1090h8M494 1094h28M702 1094h12M498 1098h24M706 1098h8M498 1102h28M706 1102h12M494 1106h32M710 1106h8M494 1110h32M710 1110h12M490 1114h36M710 1114h12M490 1118h36M714 1118h8M486 1122h40M714 1122h4M482 1126h44M482 1130h40M478 1134h44M478 1138h44M482 1142h40M482 1146h44M486 1150h40M510 1154h20"/>
<path stroke="#fad52d" d="M538 1018h56M514 1022h40M586 1022h40M498 1026h32M626 1026h24M482 1030h32M650 1030h8M478 1034h20M658 1034h8M470 1038h20M666 1038h8M470 1042h16M670 1042h8M466 1046h16M674 1046h12M462 1050h16M682 1050h8M462 1054h16M686 1054h8M462 1058h16M690 1058h8M458 1062h20M694 1062h8M458 1066h20M694 1066h12M458 1070h20M698 1070h12M458 1074h24M702 1074h8M458 1078h24M706 1078h8M458 1082h28M706 1082h12M458 1086h28M710 1086h8M458 1090h32M710 1090h12M458 1094h36M714 1094h8M458 1098h40M714 1098h12M458 1102h40M718 1102h8M458 1106h36M718 1106h12M458 1110h36M722 1110h8M458 1114h32M722 1114h12M458 1118h32M722 1118h4M458 1122h28M458 1126h24M458 1130h24M458 1134h20M458 1138h20M458 1142h24M470 1146h12"/>
<path stroke="#f9d62d" d="M526 1014h72M502 1018h36M594 1018h32M486 1022h28M626 1022h20M474 1026h24M650 1026h8M470 1030h12M658 1030h12M462 1034h16M666 1034h8M458 1038h12M674 1038h8M454 1042h16M678 1042h8M454 1046h12M686 1046h8M450 1050h12M690 1050h8M446 1054h16M694 1054h8M446 1058h16M698 1058h8M442 1062h16M702 1062h8M442 1066h16M706 1066h8M442 1070h16M710 1070h8M438 1074h20M710 1074h12M438 1078h20M714 1078h12M438 1082h20M718 1082h8M434 1086h24M718 1086h12M434 1090h24M722 1090h12M434 1094h24M722 1094h12M434 1098h24M726 1098h12M434 1102h24M726 1102h12M434 1106h24M730 1106h12M430 1110h28M730 1110h12M434 1114h24M434 1118h24M434 1122h24M434 1126h24M434 1130h24M434 1134h24M446 1138h12"/>
<path stroke="#f9d82c" d="M546 1006h24M514 1010h88M494 1014h32M598 1014h24M478 1018h24M626 1018h20M470 1022h16M646 1022h12M462 1026h12M658 1026h12M458 1030h12M670 1030h8M450 1034h12M674 1034h12M446 1038h12M682 1038h8M442 1042h12M686 1042h12M438 1046h16M694 1046h8M438 1050h12M698 1050h8M434 1054h12M702 1054h8M430 1058h16M706 1058h8M430 1062h12M710 1062h12M426 1066h16M714 1066h12M422 1070h20M718 1070h12M422 1074h16M722 1074h12M418 1078h20M726 1078h12M418 1082h20M726 1082h12M414 1086h20M730 1086h12M414 1090h20M734 1090h12M410 1094h24M734 1094h16M410 1098h24M738 1098h12M410 1102h24M738 1102h16M410 1106h24M742 1106h4M410 1110h20M410 1114h24M410 1118h24M410 1122h24M414 1126h20M426 1130h8"/>
<path stroke="#f8da2b" d="M534 1002h40M506 1006h40M570 1006h32M490 1010h24M602 1010h20M474 1014h20M622 1014h20M466 1018h12M646 1018h12M458 1022h12M658 1022h12M450 1026h12M670 1026h8M442 1030h16M678 1030h8M438 1034h12M686 1034h8M434 1038h12M690 1038h12M430 1042h12M698 1042h8M426 1046h12M702 1046h8M422 1050h16M706 1050h12M418 1054h16M710 1054h12M414 1058h16M714 1058h12M410 1062h20M722 1062h8M406 1066h20M726 1066h12M406 1070h16M730 1070h12M402 1074h20M734 1074h12M398 1078h20M738 1078h12M394 1082h24M738 1082h16M394 1086h20M742 1086h16M390 1090h24M746 1090h16M390 1094h20M750 1094h12M390 1098h20M750 1098h8M390 1102h20M390 1106h20M390 1110h20M394 1114h16M402 1118h8M406 1122h4"/>
<path stroke="#f7db2a" d="M522 998h56M502 1002h32M574 1002h28M482 1006h24M602 1006h16M470 1010h20M622 1010h16M458 1014h16M642 1014h12M450 1018h16M658 1018h8M442 1022h16M670 1022h8M438 1026h12M678 1026h12M430 1030h12M686 1030h12M426 1034h12M694 1034h8M422 1038h12M702 1038h8M418 1042h12M706 1042h12M410 1046h16M710 1046h12M406 1050h16M718 1050h8M402 1054h16M722 1054h12M398 1058h16M726 1058h16M390 1062h20M730 1062h16M386 1066h20M738 1066h16M382 1070h24M742 1070h16M378 1074h24M746 1074h16M374 1078h24M750 1078h16M370 1082h24M754 1082h16M370 1086h24M758 1086h16M370 1090h20M762 1090h8M370 1094h20M370 1098h20M374 1102h16M382 1106h8M386 1110h4"/>
<path stroke="#f7dd2a" d="M514 994h68M494 998h28M578 998h24M478 1002h24M602 1002h16M466 1006h16M618 1006h16M454 1010h16M638 1010h12M446 1014h12M654 1014h12M434 1018h16M666 1018h12M430 1022h12M678 1022h12M422 1026h16M690 1026h8M414 1030h16M698 1030h8M410 1034h16M702 1034h12M406 1038h16M710 1038h12M398 1042h20M718 1042h12M394 1046h16M722 1046h12M386 1050h20M726 1050h16M378 1054h24M734 1054h16M370 1058h28M742 1058h16M362 1062h28M746 1062h20M354 1066h32M754 1066h20M350 1070h32M758 1070h20M350 1074h28M762 1074h20M346 1078h28M766 1078h16M350 1082h20M770 1082h8M354 1086h16M358 1090h12M362 1094h8"/>
<path stroke="#f6de29" d="M506 990h76M490 994h24M582 994h20M474 998h20M602 998h16M462 1002h16M618 1002h12M446 1006h20M634 1006h12M438 1010h16M650 1010h12M426 1014h20M666 1014h12M418 1018h16M678 1018h12M410 1022h20M690 1022h12M402 1026h20M698 1026h16M398 1030h16M706 1030h16M390 1034h20M714 1034h16M382 1038h24M722 1038h16M370 1042h28M730 1042h16M362 1046h32M734 1046h20M354 1050h32M742 1050h24M346 1054h32M750 1054h24M338 1058h32M758 1058h24M334 1062h28M766 1062h20M334 1066h20M774 1066h20M338 1070h12M778 1070h12M342 1074h8M782 1074h4"/>
<path stroke="#f6e028" d="M418 778h8M410 782h12M402 786h16M394 790h20M390 794h20M382 798h28M378 802h28M370 806h36M366 810h40M362 814h48M354 818h56M350 822h64M346 826h72M342 830h80M338 834h88M334 838h92M330 842h100M330 846h100M326 850h104M322 854h104M318 858h108M318 862h108M314 866h108M310 870h108M322 874h92M330 878h80M338 882h64M346 886h48M358 890h24M522 982h40M498 986h88M482 990h24M582 990h20M470 994h20M602 994h16M454 998h20M618 998h12M438 1002h24M630 1002h16M426 1006h20M646 1006h12M414 1010h24M662 1010h16M406 1014h20M678 1014h16M394 1018h24M690 1018h16M386 1022h24M702 1022h16M374 1026h28M714 1026h16M366 1030h32M722 1030h20M354 1034h36M730 1034h20M346 1038h36M738 1038h24M338 1042h32M746 1042h24M330 1046h32M754 1046h28M326 1050h28M766 1050h24M326 1054h20M774 1054h24M326 1058h12M782 1058h20M330 1062h4M786 1062h12"/>
<path stroke="#f5e228" d="M518 750h88M494 754h140M478 758h172M462 762h204M450 766h228M438 770h100M554 770h136M430 774h92M578 774h120M426 778h96M586 778h124M422 782h100M586 782h84M690 782h28M418 786h108M586 786h76M710 786h16M414 790h112M586 790h72M722 790h8M410 794h120M586 794h72M734 794h4M410 798h120M586 798h72M406 802h124M586 802h72M406 806h124M590 806h64M406 810h124M594 810h60M410 814h116M598 814h52M410 818h112M606 818h40M414 822h104M618 822h16M418 826h92M422 830h80M426 834h68M426 838h64M430 842h52M430 846h48M430 850h40M426 854h40M426 858h36M426 862h32M422 866h32M418 870h32M310 874h12M414 874h32M306 878h24M410 878h32M306 882h32M402 882h36M302 886h44M394 886h40M302 890h56M382 890h44M298 894h120M302 898h108M318 902h84M334 906h60M350 910h28M506 978h64M490 982h32M562 982h28M474 986h24M586 986h16M462 990h20M602 990h16M442 994h28M618 994h12M422 998h32M630 998h12M410 1002h28M646 1002h12M394 1006h32M658 1006h16M382 1010h32M678 1010h16M366 1014h40M694 1014h20M354 1018h40M706 1018h24M342 1022h44M718 1022h28M330 1026h44M730 1026h32M322 1030h44M742 1030h28M318 1034h36M750 1034h32M314 1038h32M762 1038h28M314 1042h24M770 1042h32M318 1046h12M782 1046h28M322 1050h4M790 1050h16M798 1054h4"/>
<path stroke="#f5e327" d="M538 770h16M522 774h56M522 778h64M522 782h64M670 782h20M526 786h60M662 786h48M526 790h60M658 790h64M530 794h56M658 794h76M530 798h56M658 798h88M530 802h56M658 802h92M530 806h60M654 806h104M530 810h64M654 810h108M526 814h72M650 814h116M522 818h84M646 818h124M518 822h100M634 822h144M510 826h272M502 830h284M494 834h296M490 838h304M482 842h72M582 842h212M478 846h64M610 846h148M786 846h12M470 850h60M674 850h84M794 850h8M466 854h56M694 854h60M802 854h4M462 858h52M706 858h48M458 862h48M714 862h36M454 866h48M722 866h24M450 870h44M446 874h40M442 878h36M438 882h36M434 886h32M426 890h36M418 894h36M298 898h4M410 898h36M298 902h20M402 902h36M294 906h40M394 906h36M294 910h56M378 910h44M294 914h116M302 918h100M322 922h68M342 926h32M510 970h40M494 974h80M478 978h28M570 978h20M462 982h28M590 982h16M442 986h32M602 986h16M414 990h48M618 990h12M390 994h52M630 994h12M370 998h52M642 998h12M346 1002h64M658 1002h12M330 1006h64M674 1006h24M314 1010h68M694 1010h32M306 1014h60M714 1014h44M302 1018h52M730 1018h44M306 1022h36M746 1022h40M306 1026h24M762 1026h36M310 1030h12M770 1030h36M310 1034h8M782 1034h36M790 1038h24M802 1042h8"/>
<path stroke="#f5e526" d="M554 842h28M542 846h68M758 846h28M530 850h144M758 850h36M522 854h172M754 854h48M514 858h192M754 858h56M506 862h208M750 862h60M502 866h220M746 866h68M494 870h64M618 870h196M486 874h68M662 874h156M478 878h72M682 878h140M474 882h76M694 882h128M466 886h80M710 886h116M462 890h88M722 890h80M454 894h100M734 894h56M446 898h112M742 898h36M438 902h56M538 902h20M758 902h4M430 906h48M546 906h12M422 910h44M410 914h44M294 918h8M402 918h40M290 922h32M390 922h40M290 926h52M374 926h48M290 930h124M290 934h116M290 938h108M290 942h96M310 946h56M506 962h40M490 966h76M478 970h32M550 970h32M458 974h36M574 974h24M354 978h124M590 978h16M330 982h132M606 982h12M314 986h128M618 986h12M302 990h112M630 990h8M294 994h96M642 994h8M294 998h76M654 998h16M298 1002h48M670 1002h36M750 1002h8M298 1006h32M698 1006h84M298 1010h16M726 1010h68M302 1014h4M758 1014h48M774 1018h48M786 1022h36M798 1026h24M806 1030h12"/>
<path stroke="#f5e626" d="M558 870h60M554 874h108M550 878h132M550 882h144M546 886h164M550 890h172M802 890h24M554 894h60M678 894h56M790 894h36M558 898h48M698 898h44M778 898h52M494 902h44M558 902h40M714 902h44M762 902h68M478 906h68M558 906h36M726 906h108M466 910h124M734 910h72M454 914h132M746 914h44M442 918h140M430 922h148M422 926h148M414 930h52M486 930h76M406 934h44M498 934h52M398 938h44M502 938h40M386 942h48M502 942h36M290 946h20M366 946h64M498 946h44M290 950h140M490 950h56M290 954h140M482 954h72M290 958h144M474 958h88M290 962h156M462 962h44M546 962h32M290 966h200M566 966h24M290 970h188M582 970h20M290 974h168M598 974h12M290 978h64M606 978h16M290 982h40M618 982h12M290 986h24M630 986h12M294 990h8M638 990h12M650 994h16M738 994h48M670 998h132M706 1002h44M758 1002h60M782 1006h48M794 1010h36M806 1014h20M822 1018h4"/>
<path stroke="#f5e825" d="M614 894h64M606 898h92M598 902h116M594 906h44M662 906h64M590 910h28M702 910h32M806 910h28M586 914h24M714 914h32M790 914h44M582 918h24M726 918h108M578 922h20M734 922h104M570 926h24M746 926h92M466 930h20M562 930h28M758 930h40M450 934h48M550 934h36M442 938h60M542 938h40M434 942h68M538 942h40M430 946h68M542 946h36M430 950h60M546 950h36M430 954h52M554 954h32M434 958h40M562 958h32M446 962h16M578 962h24M590 966h20M602 970h16M610 974h16M622 978h12M770 978h12M630 982h12M746 982h60M642 986h12M734 986h100M650 990h16M714 990h120M666 994h72M786 994h48M802 998h32M818 1002h12"/>
<path stroke="#f5e924" d="M638 906h24M618 910h84M610 914h104M606 918h32M694 918h32M598 922h28M706 922h28M594 926h24M718 926h28M590 930h20M726 930h32M798 930h40M586 934h20M734 934h104M582 938h24M738 938h100M578 942h24M746 942h92M578 946h24M750 946h88M582 950h24M754 950h84M586 954h20M754 954h84M594 958h16M754 958h84M602 962h16M754 962h84M610 966h12M746 966h92M618 970h12M742 970h96M626 974h12M734 974h104M634 978h12M726 978h44M782 978h56M642 982h12M714 982h32M806 982h32M654 986h20M690 986h44M666 990h48"/>
<path stroke="#f5eb23" d="M638 918h56M626 922h80M618 926h28M686 926h32M610 930h24M702 930h24M606 934h24M710 934h24M606 938h16M718 938h20M602 942h20M722 942h24M602 946h20M726 946h24M606 950h16M726 950h28M606 954h16M730 954h24M610 958h16M726 958h28M618 962h12M726 962h28M622 966h12M722 966h24M630 970h12M718 970h24M638 974h12M710 974h24M646 978h12M698 978h28M654 982h60M674 986h16"/>
<path stroke="#f5ec22" d="M646 926h40M634 930h68M630 934h24M682 934h28M622 938h24M694 938h24M622 942h16M702 942h20M622 946h16M706 946h20M622 950h16M706 950h20M622 954h16M710 954h20M626 958h12M710 958h16M630 962h12M706 962h20M634 966h16M702 966h20M642 970h16M694 970h24M650 974h60M658 978h40"/>
<path stroke="#f5ee21" d="M654 934h28M646 938h48M638 942h64M638 946h16M682 946h24M638 950h16M686 950h20M638 954h16M690 954h20M638 958h16M690 958h20M642 962h20M686 962h20M650 966h52M658 970h36"/>
<path stroke="#f6ef20" d="M654 946h28M654 950h32M654 954h36M654 958h36M662 962h24"/>
</g></g>
<circle transform="translate(563.8 952.7) scale(1.3418 1)" r="191.9" fill="none" stroke="#000" stroke-width="2.5"/>
<g fill="#1e1600" fill-opacity="0.78">
<use href="#m" x="500.0" y="806.4"/>
<use href="#m" x="627.5" y="806.4"/>
<use href="#m" x="396.8" y="862.3"/>
<use href="#m" x="730.7" y="862.3"/>
<use href="#m" x="367.5" y="905.2"/>
<use href="#m" x="760.0" y="905.2"/>
<use href="#m" x="357.4" y="952.7"/>
<use href="#m" x="770.1" y="952.7"/>
<use href="#m" x="367.5" y="1000.2"/>
<use href="#m" x="760.0" y="1000.2"/>
<use href="#m" x="396.8" y="1043.1"/>
<use href="#m" x="730.7" y="1043.1"/>
<use href="#m" x="500.0" y="1099.0"/>
<use href="#m" x="627.5" y="1099.0"/>
<use href="#m" x="563.8" y="1106.5"/>
<use href="#m" x="478.6" y="874.8"/>
<use href="#m" x="648.9" y="874.8"/>
<use href="#m" x="464.3" y="913.7"/>
<use href="#m" x="663.2" y="913.7"/>
<use href="#m" x="460.6" y="952.7"/>
<use href="#m" x="666.9" y="952.7"/>
<use href="#m" x="464.3" y="991.7"/>
<use href="#m" x="663.2" y="991.7"/>
<use href="#m" x="478.6" y="1030.6"/>
<use href="#m" x="648.9" y="1030.6"/>
<use href="#m" x="563.8" y="875.1"/>
<use href="#m" x="563.8" y="914.0"/>
<use href="#m" x="563.8" y="952.7"/>
<use href="#m" x="563.8" y="991.4"/>
<use href="#m" x="563.8" y="1030.3"/>
</g>
</g>
<g>
<text class="tt" transform="translate(1282.9 701.8) scale(1.215 1)" text-anchor="middle">LZC</text>
<path transform="translate(1282.0 718.8) scale(1.22 1)" d="M-47.1 44.6L0 0L47.1 44.6" fill="none" stroke="#000" stroke-width="2.7" stroke-linejoin="round"/>
<g clip-path="url(#c3)"><g filter="url(#bl)" fill="none" stroke-width="4" shape-rendering="crispEdges">
<path stroke="#fdcd31" d="M1500 890h24M1488 894h44M1484 898h48M1480 902h48M1480 906h44M1484 910h36M1492 914h12M1040 942h20M1024 946h48M1020 950h56M1024 954h52M1032 958h36"/>
<path stroke="#fccf31" d="M1504 882h36M1488 886h56M1480 890h20M1524 890h20M1476 894h12M1532 894h16M1472 898h12M1532 898h16M1472 902h8M1528 902h20M1472 906h8M1524 906h20M1472 910h12M1520 910h20M1476 914h16M1504 914h28M1484 918h40M1032 934h24M1012 938h60M1008 942h32M1060 942h20M1008 946h16M1072 946h8M1008 950h12M1076 950h8M1008 954h16M1076 954h8M1008 958h24M1068 958h12M1008 962h68M1024 966h44"/>
<path stroke="#fcd030" d="M1516 874h20M1496 878h44M1484 882h20M1476 886h12M1472 890h8M1468 894h8M1468 898h4M1464 902h8M1464 906h8M1544 906h8M1468 910h4M1540 910h12M1468 914h8M1532 914h20M1472 918h12M1524 918h20M1480 922h52M1488 926h32M1008 930h56M1008 934h24M1056 934h20M1008 938h4M1072 938h12M1080 942h8M1080 946h8M1084 950h4M1084 954h4M1080 958h8M1076 962h8M1008 966h16M1068 966h12M1008 970h64"/>
<path stroke="#fbd22f" d="M1528 866h4M1504 870h32M1492 874h24M1480 878h16M1476 882h8M1468 886h8M1464 890h8M1464 894h4M1460 898h8M1460 902h4M1460 906h4M1460 910h8M1464 914h4M1468 918h4M1544 918h8M1008 922h44M1468 922h12M1532 922h24M1008 926h64M1476 926h12M1520 926h24M1064 930h16M1484 930h48M1076 934h8M1084 938h4M1088 942h4M1088 946h8M1088 950h8M1088 954h8M1088 958h4M1084 962h8M1080 966h8M1072 970h12M1008 974h64M1008 978h48"/>
<path stroke="#fbd32e" d="M1516 862h12M1500 866h28M1488 870h16M1480 874h12M1472 878h8M1468 882h8M1464 886h4M1460 890h4M1456 894h8M1456 898h4M1456 902h4M1456 906h4M1456 910h4M1460 914h4M1012 918h48M1460 918h8M1052 922h20M1464 922h4M1072 926h12M1468 926h8M1544 926h12M1080 930h8M1472 930h12M1532 930h24M1084 934h8M1480 934h60M1088 938h8M1492 938h32M1092 942h8M1096 946h4M1096 950h4M1096 954h4M1092 958h8M1092 962h4M1088 966h8M1084 970h8M1072 974h12M1056 978h20M1008 982h52"/>
<path stroke="#fad52d" d="M1512 858h16M1496 862h20M1484 866h16M1476 870h12M1468 874h12M1464 878h8M1460 882h8M1456 886h8M1456 890h4M1452 894h4M1452 898h4M1452 902h4M1452 906h4M1012 910h20M1452 910h4M1012 914h52M1452 914h8M1060 918h16M1456 918h4M1072 922h12M1456 922h8M1084 926h8M1460 926h8M1088 930h8M1464 930h8M1092 934h8M1468 934h12M1540 934h16M1096 938h8M1476 938h16M1524 938h32M1100 942h4M1488 942h48M1100 946h4M1100 950h4M1100 954h4M1100 958h4M1096 962h8M1096 966h4M1092 970h4M1084 974h8M1076 978h12M1060 982h16M1012 986h52M1012 990h12"/>
<path stroke="#f9d62d" d="M1516 850h4M1504 854h20M1492 858h20M1480 862h16M1472 866h12M1464 870h12M1460 874h8M1456 878h8M1452 882h8M1452 886h4M1448 890h8M1448 894h4M1448 898h4M1448 902h4M1012 906h40M1448 906h4M1032 910h40M1448 910h4M1064 914h16M1448 914h4M1076 918h12M1452 918h4M1084 922h12M1452 922h4M1092 926h8M1456 926h4M1096 930h8M1460 930h4M1100 934h4M1464 934h4M1104 938h4M1468 938h8M1104 942h4M1472 942h16M1536 942h20M1104 946h8M1480 946h76M1104 950h8M1492 950h44M1104 954h8M1104 958h8M1104 962h4M1100 966h8M1096 970h8M1092 974h8M1088 978h8M1076 982h12M1064 986h16M1024 990h40M1012 994h28"/>
<path stroke="#f9d82c" d="M1508 846h8M1500 850h16M1488 854h16M1476 858h16M1468 862h12M1464 866h8M1456 870h8M1452 874h8M1452 878h4M1448 882h4M1444 886h8M1444 890h4M1444 894h4M1016 898h20M1444 898h4M1016 902h48M1444 902h4M1052 906h24M1444 906h4M1072 910h12M1444 910h4M1080 914h12M1444 914h4M1088 918h12M1448 918h4M1096 922h8M1448 922h4M1100 926h8M1452 926h4M1104 930h4M1452 930h8M1104 934h8M1456 934h8M1108 938h4M1460 938h8M1108 942h8M1464 942h8M1112 946h4M1468 946h12M1112 950h4M1472 950h20M1536 950h20M1112 954h4M1480 954h76M1112 958h4M1488 958h68M1108 962h8M1496 962h40M1108 966h4M1504 966h16M1104 970h8M1100 974h8M1096 978h8M1088 982h12M1080 986h12M1064 990h16M1040 994h28M1012 998h36M1016 1002h4"/>
<path stroke="#f8da2b" d="M1504 842h12M1492 846h16M1480 850h20M1472 854h16M1464 858h12M1460 862h8M1452 866h12M1448 870h8M1448 874h4M1444 878h8M1444 882h4M1440 886h4M1020 890h12M1440 890h4M1016 894h48M1440 894h4M1036 898h40M1440 898h4M1064 902h20M1440 902h4M1076 906h16M1440 906h4M1084 910h12M1440 910h4M1092 914h12M1440 914h4M1100 918h8M1440 918h8M1104 922h8M1444 922h4M1108 926h4M1444 926h8M1108 930h8M1448 930h4M1112 934h4M1448 934h8M1112 938h8M1452 938h8M1116 942h4M1456 942h8M1116 946h4M1460 946h8M1116 950h4M1464 950h8M1116 954h4M1468 954h12M1116 958h4M1472 958h16M1116 962h4M1476 962h20M1536 962h20M1112 966h8M1476 966h28M1520 966h36M1112 970h4M1480 970h76M1108 974h4M1480 974h76M1104 978h8M1480 978h76M1100 982h8M1480 982h76M1092 986h8M1480 986h72M1080 990h16M1476 990h76M1068 994h16M1476 994h76M1048 998h28M1472 998h80M1020 1002h40M1472 1002h76M1016 1006h16M1472 1006h76M1472 1010h76M1476 1014h68M1476 1018h68M1476 1022h64M1480 1026h48M1484 1030h32M1348 1094h8M1332 1098h48M1328 1102h64M1320 1106h80M1316 1110h88M1316 1114h88M1316 1118h88M1316 1122h88M1316 1126h88M1320 1130h84M1324 1134h76M1328 1138h72M1336 1142h52M1344 1146h32M1352 1150h8"/>
<path stroke="#f7db2a" d="M1500 834h8M1496 838h16M1484 842h20M1472 846h20M1464 850h16M1460 854h12M1452 858h12M1448 862h12M1444 866h8M1444 870h4M1440 874h8M1024 878h12M1436 878h8M1024 882h32M1436 882h8M1020 886h56M1436 886h4M1032 890h52M1436 890h4M1064 894h28M1436 894h4M1076 898h20M1436 898h4M1084 902h16M1436 902h4M1092 906h12M1436 906h4M1096 910h12M1436 910h4M1104 914h8M1436 914h4M1108 918h8M1436 918h4M1112 922h4M1440 922h4M1112 926h8M1440 926h4M1116 930h4M1444 930h4M1116 934h8M1444 934h4M1120 938h4M1448 938h4M1120 942h4M1448 942h8M1120 946h4M1452 946h8M1120 950h4M1456 950h8M1120 954h4M1456 954h12M1120 958h4M1460 958h12M1120 962h4M1464 962h12M1120 966h4M1464 966h12M1116 970h8M1464 970h16M1112 974h8M1468 974h12M1112 978h4M1468 978h12M1108 982h8M1464 982h16M1100 986h12M1464 986h16M1096 990h12M1464 990h12M1084 994h16M1464 994h12M1076 998h16M1460 998h12M1060 1002h20M1460 1002h12M1032 1006h40M1460 1006h12M1016 1010h40M1460 1010h12M1020 1014h8M1460 1014h16M1456 1018h20M1456 1022h20M1456 1026h24M1528 1026h12M1456 1030h28M1516 1030h20M1452 1034h84M1452 1038h80M1448 1042h84M1448 1046h80M1448 1050h76M1448 1054h72M1444 1058h76M1444 1062h72M1440 1066h56M1436 1070h48M1424 1074h52M1408 1078h64M1352 1082h116M1328 1086h140M1316 1090h152M1304 1094h44M1356 1094h112M1296 1098h36M1380 1098h92M1288 1102h40M1392 1102h80M1284 1106h36M1400 1106h64M1280 1110h36M1404 1110h56M1276 1114h40M1404 1114h48M1276 1118h40M1404 1118h40M1272 1122h44M1404 1122h32M1272 1126h44M1404 1126h24M1276 1130h44M1404 1130h16M1276 1134h48M1400 1134h12M1276 1138h52M1280 1142h56M1280 1146h64M1284 1150h68M1288 1154h48"/>
<path stroke="#f7dd2a" d="M1492 822h4M1492 826h8M1484 830h20M1476 834h24M1468 838h28M1460 842h24M1456 846h16M1452 850h12M1040 854h8M1448 854h12M1036 858h60M1444 858h8M1036 862h68M1440 862h8M1032 866h72M1436 866h8M1028 870h76M1436 870h8M1028 874h76M1432 874h8M1036 878h68M1432 878h4M1056 882h48M1432 882h4M1076 886h28M1432 886h4M1084 890h20M1428 890h8M1092 894h16M1428 894h8M1096 898h12M1428 898h8M1100 902h12M1428 902h8M1104 906h12M1432 906h4M1108 910h8M1432 910h4M1112 914h8M1432 914h4M1116 918h4M1432 918h4M1116 922h8M1436 922h4M1120 926h4M1436 926h4M1120 930h8M1436 930h8M1124 934h4M1440 934h4M1124 938h4M1440 938h8M1124 942h4M1444 942h4M1124 946h8M1444 946h8M1124 950h8M1448 950h8M1124 954h8M1448 954h8M1124 958h8M1452 958h8M1124 962h8M1452 962h12M1124 966h4M1456 966h8M1124 970h4M1456 970h8M1120 974h8M1456 974h12M1116 978h8M1456 978h12M1116 982h8M1456 982h8M1112 986h8M1456 986h8M1108 990h8M1452 990h12M1100 994h12M1452 994h12M1092 998h16M1452 998h8M1080 1002h24M1452 1002h8M1072 1006h24M1448 1006h12M1056 1010h32M1448 1010h12M1028 1014h52M1448 1014h12M1020 1018h48M1444 1018h12M1024 1022h20M1444 1022h12M1024 1026h8M1440 1026h16M1440 1030h16M1436 1034h16M1432 1038h20M1432 1042h16M1428 1046h20M1424 1050h24M1420 1054h28M1412 1058h32M1408 1062h36M1396 1066h44M1496 1066h16M1376 1070h60M1484 1070h24M1344 1074h80M1476 1074h28M1320 1078h88M1472 1078h28M1300 1082h52M1468 1082h28M1288 1086h40M1468 1086h24M1272 1090h44M1468 1090h20M1260 1094h44M1468 1094h12M1248 1098h48M1472 1098h4M1240 1102h48M1232 1106h52M1224 1110h56M1224 1114h52M1220 1118h56M1220 1122h52M1220 1126h52M1224 1130h52M1224 1134h52M1228 1138h48M1232 1142h48M1232 1146h48M1232 1150h52M1232 1154h56M1276 1158h12"/>
<path stroke="#f6de29" d="M1432 786h12M1432 790h20M1432 794h24M1436 798h28M1444 802h24M1088 806h4M1452 806h24M1084 810h12M1456 810h24M1080 814h20M1460 814h24M1076 818h32M1456 818h32M1068 822h44M1456 822h36M1064 826h52M1452 826h40M1060 830h60M1452 830h32M1056 834h68M1448 834h28M1052 838h76M1444 838h24M1048 842h80M1440 842h20M1048 846h80M1440 846h16M1044 850h84M1436 850h16M1048 854h80M1436 854h12M1096 858h32M1432 858h12M1104 862h24M1432 862h8M1104 866h24M1428 866h8M1104 870h20M1428 870h8M1104 874h20M1428 874h4M1104 878h20M1424 878h8M1104 882h16M1424 882h8M1104 886h16M1424 886h8M1104 890h16M1424 890h4M1108 894h12M1424 894h4M1108 898h12M1424 898h4M1112 902h8M1424 902h4M1116 906h8M1428 906h4M1116 910h8M1428 910h4M1120 914h8M1428 914h4M1120 918h8M1428 918h4M1124 922h4M1432 922h4M1124 926h8M1432 926h4M1128 930h4M1432 930h4M1128 934h4M1436 934h4M1128 938h8M1436 938h4M1128 942h8M1436 942h8M1132 946h4M1440 946h4M1132 950h4M1440 950h8M1132 954h4M1444 954h4M1132 958h4M1444 958h8M1132 962h4M1444 962h8M1128 966h8M1448 966h8M1128 970h4M1448 970h8M1128 974h4M1448 974h8M1124 978h8M1448 978h8M1124 982h4M1448 982h8M1120 986h8M1448 986h8M1116 990h8M1444 990h8M1112 994h12M1444 994h8M1108 998h12M1444 998h8M1104 1002h12M1440 1002h12M1096 1006h20M1440 1006h8M1088 1010h24M1440 1010h8M1080 1014h32M1436 1014h12M1068 1018h44M1436 1018h8M1044 1022h72M1432 1022h12M1032 1026h84M1428 1026h12M1028 1030h92M1428 1030h12M1028 1034h96M1424 1034h12M1032 1038h96M1420 1038h12M1032 1042h100M1416 1042h16M1036 1046h100M1412 1046h16M1040 1050h100M1404 1050h20M1044 1054h100M1396 1054h24M1044 1058h100M1388 1058h24M1048 1062h100M1368 1062h40M1052 1066h100M1344 1066h52M1056 1070h104M1316 1070h60M1060 1074h104M1292 1074h52M1064 1078h108M1268 1078h52M1068 1082h116M1244 1082h56M1072 1086h216M1076 1090h196M1084 1094h176M1088 1098h160M1092 1102h148M1100 1106h132M1104 1110h120M1112 1114h112M1120 1118h100M1128 1122h92M1136 1126h84M1144 1130h80M1152 1134h72M1164 1138h64M1176 1142h56M1188 1146h44M1204 1150h28M1228 1154h4"/>
<path stroke="#f6e028" d="M1404 770h4M1400 774h16M1136 778h4M1400 778h28M1128 782h16M1400 782h36M1120 786h24M1400 786h32M1112 790h36M1400 790h32M1108 794h40M1400 794h32M1100 798h52M1400 798h36M1096 802h56M1400 802h44M1092 806h64M1404 806h48M1096 810h60M1408 810h48M1100 814h56M1412 814h48M1108 818h48M1412 818h44M1112 822h44M1416 822h40M1116 826h40M1420 826h32M1120 830h36M1420 830h32M1124 834h32M1424 834h24M1128 838h24M1424 838h20M1128 842h24M1424 842h16M1128 846h24M1424 846h16M1128 850h20M1424 850h12M1128 854h20M1424 854h12M1128 858h16M1420 858h12M1128 862h16M1420 862h12M1128 866h12M1420 866h8M1124 870h16M1420 870h8M1124 874h12M1420 874h8M1124 878h12M1420 878h4M1120 882h12M1420 882h4M1120 886h12M1420 886h4M1120 890h12M1420 890h4M1120 894h12M1420 894h4M1120 898h12M1420 898h4M1120 902h12M1420 902h4M1124 906h8M1420 906h8M1124 910h8M1424 910h4M1128 914h4M1424 914h4M1128 918h8M1424 918h4M1128 922h8M1424 922h8M1132 926h4M1428 926h4M1132 930h4M1428 930h4M1132 934h8M1428 934h8M1136 938h4M1432 938h4M1136 942h4M1432 942h4M1136 946h4M1436 946h4M1136 950h4M1436 950h4M1136 954h4M1436 954h8M1136 958h4M1440 958h4M1136 962h4M1440 962h4M1136 966h4M1440 966h8M1132 970h8M1440 970h8M1132 974h8M1440 974h8M1132 978h4M1440 978h8M1128 982h8M1440 982h8M1128 986h8M1440 986h8M1124 990h8M1436 990h8M1124 994h8M1436 994h8M1120 998h12M1436 998h8M1116 1002h12M1432 1002h8M1116 1006h12M1432 1006h8M1112 1010h16M1428 1010h12M1112 1014h16M1428 1014h8M1112 1018h20M1424 1018h12M1116 1022h16M1420 1022h12M1116 1026h20M1420 1026h8M1120 1030h20M1416 1030h12M1124 1034h20M1412 1034h12M1128 1038h20M1408 1038h12M1132 1042h20M1400 1042h16M1136 1046h20M1392 1046h20M1140 1050h20M1384 1050h20M1144 1054h20M1368 1054h28M1144 1058h28M1348 1058h40M1148 1062h32M1316 1062h52M1152 1066h40M1284 1066h60M1160 1070h60M1240 1070h76M1164 1074h128M1172 1078h96M1184 1082h60"/>
<path stroke="#f5e228" d="M1240 750h84M1212 754h104M1340 754h12M1196 758h36M1244 758h64M1348 758h20M1180 762h44M1252 762h52M1348 762h36M1168 766h60M1256 766h48M1348 766h48M1156 770h76M1256 770h48M1340 770h64M1148 774h92M1264 774h36M1328 774h72M1140 778h104M1316 778h84M1144 782h104M1316 782h84M1144 786h100M1316 786h84M1148 790h96M1316 790h84M1148 794h92M1320 794h80M1152 798h84M1324 798h76M1152 802h80M1328 802h72M1156 806h72M1336 806h68M1156 810h68M1344 810h64M1156 814h60M1360 814h52M1156 818h48M1376 818h36M1156 822h40M1384 822h32M1156 826h36M1388 826h32M1156 830h32M1396 830h24M1156 834h24M1400 834h24M1152 838h24M1404 838h20M1152 842h20M1404 842h20M1152 846h16M1408 846h16M1148 850h20M1408 850h16M1148 854h16M1412 854h12M1144 858h16M1412 858h8M1144 862h12M1412 862h8M1140 866h16M1412 866h8M1140 870h12M1412 870h8M1136 874h12M1412 874h8M1136 878h12M1412 878h8M1132 882h12M1412 882h8M1132 886h12M1416 886h4M1132 890h8M1416 890h4M1132 894h8M1416 894h4M1132 898h8M1416 898h4M1132 902h8M1416 902h4M1132 906h8M1416 906h4M1132 910h8M1420 910h4M1132 914h8M1420 914h4M1136 918h4M1420 918h4M1136 922h4M1420 922h4M1136 926h8M1424 926h4M1136 930h8M1424 930h4M1140 934h4M1424 934h4M1140 938h4M1428 938h4M1140 942h4M1428 942h4M1140 946h8M1428 946h8M1140 950h8M1428 950h8M1140 954h8M1432 954h4M1140 958h8M1432 958h8M1140 962h8M1432 962h8M1140 966h8M1432 966h8M1140 970h4M1432 970h8M1140 974h4M1432 974h8M1136 978h8M1432 978h8M1136 982h8M1432 982h8M1136 986h8M1432 986h8M1132 990h8M1432 990h4M1132 994h8M1428 994h8M1132 998h8M1428 998h8M1128 1002h12M1424 1002h8M1128 1006h12M1424 1006h8M1128 1010h12M1420 1010h8M1128 1014h16M1420 1014h8M1132 1018h12M1416 1018h8M1132 1022h16M1412 1022h8M1136 1026h16M1408 1026h12M1140 1030h16M1404 1030h12M1144 1034h16M1396 1034h16M1148 1038h16M1392 1038h16M1152 1042h16M1384 1042h16M1156 1046h20M1372 1046h20M1160 1050h24M1352 1050h32M1164 1054h32M1324 1054h44M1172 1058h40M1276 1058h72M1180 1062h136M1192 1066h92M1220 1070h20"/>
<path stroke="#f5e327" d="M1316 754h24M1232 758h12M1308 758h40M1224 762h28M1304 762h44M1228 766h28M1304 766h44M1232 770h24M1304 770h36M1240 774h24M1300 774h28M1244 778h72M1248 782h68M1244 786h72M1244 790h72M1240 794h80M1236 798h88M1232 802h96M1228 806h108M1224 810h120M1216 814h144M1204 818h64M1304 818h72M1196 822h56M1324 822h60M1192 826h44M1344 826h44M1188 830h36M1360 830h36M1180 834h36M1372 834h28M1176 838h32M1380 838h24M1172 842h28M1384 842h20M1168 846h24M1392 846h16M1168 850h20M1396 850h12M1164 854h16M1396 854h16M1160 858h16M1400 858h12M1156 862h16M1400 862h12M1156 866h12M1404 866h8M1152 870h12M1404 870h8M1148 874h12M1404 874h8M1148 878h8M1408 878h4M1144 882h12M1408 882h4M1144 886h8M1408 886h8M1140 890h8M1408 890h8M1140 894h8M1412 894h4M1140 898h8M1412 898h4M1140 902h8M1412 902h4M1140 906h4M1412 906h4M1140 910h4M1416 910h4M1140 914h8M1416 914h4M1140 918h8M1416 918h4M1140 922h8M1416 922h4M1144 926h4M1420 926h4M1144 930h4M1420 930h4M1144 934h4M1420 934h4M1144 938h8M1420 938h8M1144 942h8M1424 942h4M1148 946h4M1424 946h4M1148 950h4M1424 950h4M1148 954h4M1424 954h8M1148 958h4M1424 958h8M1148 962h4M1428 962h4M1148 966h4M1428 966h4M1144 970h8M1428 970h4M1144 974h8M1428 974h4M1144 978h8M1428 978h4M1144 982h8M1424 982h8M1144 986h4M1424 986h8M1140 990h8M1424 990h8M1140 994h8M1420 994h8M1140 998h8M1420 998h8M1140 1002h8M1416 1002h8M1140 1006h12M1416 1006h8M1140 1010h12M1412 1010h8M1144 1014h12M1408 1014h12M1144 1018h12M1404 1018h12M1148 1022h12M1400 1022h12M1152 1026h12M1396 1026h12M1156 1030h12M1392 1030h12M1160 1034h16M1384 1034h12M1164 1038h20M1372 1038h20M1168 1042h24M1360 1042h24M1176 1046h28M1336 1046h36M1184 1050h40M1276 1050h76M1196 1054h128M1212 1058h64"/>
<path stroke="#f5e526" d="M1268 818h36M1252 822h72M1236 826h108M1224 830h136M1216 834h48M1324 834h48M1208 838h36M1344 838h36M1200 842h32M1360 842h24M1192 846h28M1368 846h24M1188 850h20M1376 850h20M1180 854h20M1384 854h12M1176 858h20M1388 858h12M1172 862h16M1392 862h8M1168 866h16M1392 866h12M1164 870h12M1396 870h8M1160 874h12M1396 874h8M1156 878h12M1400 878h8M1156 882h8M1400 882h8M1152 886h8M1404 886h4M1148 890h12M1404 890h4M1148 894h8M1404 894h8M1148 898h8M1408 898h4M1148 902h4M1408 902h4M1144 906h8M1408 906h4M1144 910h8M1408 910h8M1148 914h4M1412 914h4M1148 918h4M1412 918h4M1148 922h4M1412 922h4M1148 926h4M1412 926h8M1148 930h8M1416 930h4M1148 934h8M1416 934h4M1152 938h4M1416 938h4M1152 942h4M1416 942h8M1152 946h4M1420 946h4M1152 950h8M1420 950h4M1152 954h8M1420 954h4M1152 958h8M1420 958h4M1152 962h8M1420 962h8M1152 966h8M1420 966h8M1152 970h8M1420 970h8M1152 974h4M1420 974h8M1152 978h4M1420 978h8M1152 982h4M1420 982h4M1148 986h8M1416 986h8M1148 990h8M1416 990h8M1148 994h8M1416 994h4M1148 998h8M1412 998h8M1148 1002h12M1408 1002h8M1152 1006h8M1408 1006h8M1152 1010h12M1404 1010h8M1156 1014h12M1400 1014h8M1156 1018h12M1396 1018h8M1160 1022h16M1392 1022h8M1164 1026h16M1384 1026h12M1168 1030h20M1376 1030h16M1176 1034h20M1364 1034h20M1184 1038h24M1348 1038h24M1192 1042h40M1288 1042h72M1204 1046h132M1224 1050h52"/>
<path stroke="#f5e626" d="M1264 834h60M1244 838h100M1232 842h128M1220 846h44M1336 846h32M1208 850h36M1352 850h24M1200 854h28M1364 854h20M1196 858h20M1372 858h16M1188 862h20M1376 862h16M1184 866h16M1380 866h12M1176 870h16M1384 870h12M1172 874h16M1388 874h8M1168 878h12M1392 878h8M1164 882h12M1392 882h8M1160 886h12M1396 886h8M1160 890h8M1396 890h8M1156 894h8M1400 894h4M1156 898h8M1400 898h8M1152 902h8M1404 902h4M1152 906h8M1404 906h4M1152 910h8M1404 910h4M1152 914h8M1408 914h4M1152 918h8M1408 918h4M1152 922h8M1408 922h4M1152 926h8M1408 926h4M1156 930h4M1408 930h8M1156 934h4M1412 934h4M1156 938h8M1412 938h4M1156 942h8M1412 942h4M1156 946h8M1412 946h8M1160 950h4M1412 950h8M1160 954h4M1412 954h8M1160 958h4M1416 958h4M1160 962h4M1416 962h4M1160 966h4M1416 966h4M1160 970h4M1416 970h4M1156 974h8M1412 974h8M1156 978h8M1412 978h8M1156 982h8M1412 982h8M1156 986h8M1412 986h4M1156 990h8M1408 990h8M1156 994h8M1408 994h8M1156 998h12M1404 998h8M1160 1002h8M1400 1002h8M1160 1006h12M1400 1006h8M1164 1010h12M1396 1010h8M1168 1014h12M1388 1014h12M1168 1018h16M1384 1018h12M1176 1022h16M1376 1022h16M1180 1026h20M1368 1026h16M1188 1030h24M1352 1030h24M1196 1034h36M1324 1034h40M1208 1038h140M1232 1042h56"/>
<path stroke="#f5e825" d="M1264 846h72M1244 850h108M1228 854h56M1324 854h40M1216 858h40M1348 858h24M1208 862h28M1360 862h16M1200 866h24M1368 866h12M1192 870h20M1372 870h12M1188 874h16M1380 874h8M1180 878h16M1384 878h8M1176 882h12M1384 882h8M1172 886h12M1388 886h8M1168 890h12M1392 890h4M1164 894h12M1392 894h8M1164 898h8M1396 898h4M1160 902h8M1396 902h8M1160 906h8M1400 906h4M1160 910h8M1400 910h4M1160 914h4M1400 914h8M1160 918h4M1404 918h4M1160 922h4M1404 922h4M1160 926h8M1404 926h4M1160 930h8M1404 930h4M1160 934h8M1404 934h8M1164 938h4M1408 938h4M1164 942h4M1408 942h4M1164 946h8M1408 946h4M1164 950h8M1408 950h4M1164 954h8M1408 954h4M1164 958h8M1408 958h8M1164 962h8M1408 962h8M1164 966h8M1408 966h8M1164 970h8M1408 970h8M1164 974h8M1408 974h4M1164 978h8M1404 978h8M1164 982h8M1404 982h8M1164 986h8M1404 986h8M1164 990h8M1400 990h8M1164 994h12M1400 994h8M1168 998h8M1396 998h8M1168 1002h12M1392 1002h8M1172 1006h12M1388 1006h12M1176 1010h12M1384 1010h12M1180 1014h12M1376 1014h12M1184 1018h20M1368 1018h16M1192 1022h20M1360 1022h16M1200 1026h32M1340 1026h28M1212 1030h140M1232 1034h92"/>
<path stroke="#f5e924" d="M1284 854h40M1256 858h92M1236 862h124M1224 866h40M1344 866h24M1212 870h28M1356 870h16M1204 874h24M1364 874h16M1196 878h20M1372 878h12M1188 882h20M1376 882h8M1184 886h16M1380 886h8M1180 890h12M1384 890h8M1176 894h8M1388 894h4M1172 898h8M1388 898h8M1168 902h8M1392 902h4M1168 906h8M1392 906h8M1168 910h4M1396 910h4M1164 914h8M1396 914h4M1164 918h8M1396 918h8M1164 922h8M1400 922h4M1168 926h4M1400 926h4M1168 930h4M1400 930h4M1168 934h8M1400 934h4M1168 938h8M1400 938h8M1168 942h8M1400 942h8M1172 946h4M1400 946h8M1172 950h8M1400 950h8M1172 954h8M1404 954h4M1172 958h8M1404 958h4M1172 962h8M1400 962h8M1172 966h8M1400 966h8M1172 970h8M1400 970h8M1172 974h8M1400 974h8M1172 978h8M1400 978h4M1172 982h8M1396 982h8M1172 986h8M1396 986h8M1172 990h12M1392 990h8M1176 994h8M1392 994h8M1176 998h12M1388 998h8M1180 1002h12M1384 1002h8M1184 1006h12M1376 1006h12M1188 1010h16M1372 1010h12M1192 1014h24M1360 1014h16M1204 1018h28M1348 1018h20M1212 1022h148M1232 1026h108"/>
<path stroke="#f5eb23" d="M1264 866h80M1240 870h116M1228 874h44M1344 874h20M1216 878h28M1356 878h16M1208 882h24M1364 882h12M1200 886h20M1368 886h12M1192 890h16M1376 890h8M1184 894h16M1380 894h8M1180 898h12M1384 898h4M1176 902h12M1384 902h8M1176 906h8M1388 906h4M1172 910h8M1388 910h8M1172 914h8M1392 914h4M1172 918h8M1392 918h4M1172 922h8M1392 922h8M1172 926h8M1392 926h8M1172 930h8M1396 930h4M1176 934h8M1396 934h4M1176 938h8M1396 938h4M1176 942h8M1396 942h4M1176 946h8M1396 946h4M1180 950h8M1396 950h4M1180 954h8M1396 954h8M1180 958h8M1396 958h8M1180 962h8M1396 962h4M1180 966h8M1396 966h4M1180 970h8M1392 970h8M1180 974h8M1392 974h8M1180 978h12M1392 978h8M1180 982h12M1388 982h8M1180 986h12M1388 986h8M1184 990h12M1384 990h8M1184 994h16M1380 994h12M1188 998h16M1376 998h12M1192 1002h20M1372 1002h12M1196 1006h24M1364 1006h12M1204 1010h32M1348 1010h24M1216 1014h52M1324 1014h36M1232 1018h116"/>
<path stroke="#f5ec22" d="M1272 874h72M1244 878h112M1232 882h44M1344 882h20M1220 886h32M1356 886h12M1208 890h28M1364 890h12M1200 894h20M1368 894h12M1192 898h20M1372 898h12M1188 902h16M1376 902h8M1184 906h16M1380 906h8M1180 910h12M1384 910h4M1180 914h12M1384 914h8M1180 918h8M1388 918h4M1180 922h8M1388 922h4M1180 926h12M1388 926h4M1180 930h12M1388 930h8M1184 934h8M1388 934h8M1184 938h8M1388 938h8M1184 942h12M1388 942h8M1184 946h12M1388 946h8M1188 950h8M1388 950h8M1188 954h8M1388 954h8M1188 958h8M1388 958h8M1188 962h12M1388 962h8M1188 966h12M1388 966h8M1188 970h12M1384 970h8M1188 974h12M1384 974h8M1192 978h12M1384 978h8M1192 982h12M1380 982h8M1192 986h16M1376 986h12M1196 990h16M1376 990h8M1200 994h20M1368 994h12M1204 998h24M1360 998h16M1212 1002h28M1352 1002h20M1220 1006h44M1332 1006h32M1236 1010h112M1268 1014h56"/>
<path stroke="#f5ee21" d="M1276 882h68M1252 886h104M1236 890h48M1340 890h24M1220 894h36M1352 894h16M1212 898h28M1360 898h12M1204 902h24M1368 902h8M1200 906h20M1372 906h8M1192 910h20M1376 910h8M1192 914h16M1376 914h8M1188 918h16M1380 918h8M1188 922h16M1380 922h8M1192 926h12M1380 926h8M1192 930h12M1380 930h8M1192 934h12M1380 934h8M1192 938h12M1380 938h8M1196 942h8M1380 942h8M1196 946h12M1380 946h8M1196 950h12M1380 950h8M1196 954h12M1380 954h8M1196 958h16M1380 958h8M1200 962h12M1380 962h8M1200 966h12M1380 966h8M1200 970h16M1376 970h8M1200 974h16M1376 974h8M1204 978h16M1372 978h12M1204 982h20M1368 982h12M1208 986h24M1364 986h12M1212 990h28M1356 990h20M1220 994h32M1348 994h20M1228 998h44M1328 998h32M1240 1002h112M1264 1006h68"/>
<path stroke="#f6ef20" d="M1284 890h56M1256 894h96M1240 898h56M1332 898h28M1228 902h40M1348 902h20M1220 906h36M1356 906h16M1212 910h32M1364 910h12M1208 914h28M1368 914h8M1204 918h24M1368 918h12M1204 922h20M1372 922h8M1204 926h20M1372 926h8M1204 930h16M1372 930h8M1204 934h16M1372 934h8M1204 938h16M1372 938h8M1204 942h20M1372 942h8M1208 946h16M1372 946h8M1208 950h16M1372 950h8M1208 954h20M1372 954h8M1212 958h16M1372 958h8M1212 962h20M1368 962h12M1212 966h24M1368 966h12M1216 970h24M1364 970h12M1216 974h28M1360 974h16M1220 978h32M1356 978h16M1224 982h36M1348 982h20M1232 986h36M1340 986h24M1240 990h116M1252 994h96M1272 998h56"/>
<path stroke="#f6f11f" d="M1296 898h36M1268 902h80M1256 906h100M1244 910h48M1336 910h28M1236 914h40M1348 914h20M1228 918h40M1352 918h16M1224 922h40M1356 922h16M1224 926h36M1360 926h12M1220 930h36M1360 930h12M1220 934h36M1360 934h12M1220 938h36M1360 938h12M1224 942h32M1360 942h12M1224 946h36M1360 946h12M1224 950h44M1360 950h12M1228 954h48M1356 954h16M1228 958h52M1356 958h16M1232 962h52M1352 962h16M1236 966h48M1348 966h20M1240 970h52M1344 970h20M1244 974h60M1332 974h28M1252 978h104M1260 982h88M1268 986h72"/>
<path stroke="#f6f21e" d="M1292 910h44M1276 914h72M1268 918h84M1264 922h92M1260 926h100M1256 930h104M1256 934h60M1332 934h28M1256 938h60M1332 938h28M1256 942h64M1332 942h28M1260 946h100M1268 950h92M1276 954h80M1280 958h76M1284 962h68M1284 966h64M1292 970h52M1304 974h28"/>
<path stroke="#f7f41c" d="M1316 934h16M1316 938h16M1320 942h12"/>
</g></g>
<circle transform="translate(1282.0 952.7) scale(1.3418 1)" r="191.9" fill="none" stroke="#000" stroke-width="2.5"/>
<g fill="#1e1600" fill-opacity="0.78">
<use href="#m" x="1218.2" y="806.4"/>
<use href="#m" x="1345.8" y="806.4"/>
<use href="#m" x="1115.1" y="862.3"/>
<use href="#m" x="1448.9" y="862.3"/>
<use href="#m" x="1085.8" y="905.2"/>
<use href="#m" x="1478.2" y="905.2"/>
<use href="#m" x="1075.7" y="952.7"/>
<use href="#m" x="1488.3" y="952.7"/>
<use href="#m" x="1085.8" y="1000.2"/>
<use href="#m" x="1478.2" y="1000.2"/>
<use href="#m" x="1115.1" y="1043.1"/>
<use href="#m" x="1448.9" y="1043.1"/>
<use href="#m" x="1218.2" y="1099.0"/>
<use href="#m" x="1345.8" y="1099.0"/>
<use href="#m" x="1282.0" y="1106.5"/>
<use href="#m" x="1196.9" y="874.8"/>
<use href="#m" x="1367.1" y="874.8"/>
<use href="#m" x="1182.6" y="913.7"/>
<use href="#m" x="1381.4" y="913.7"/>
<use href="#m" x="1178.8" y="952.7"/>
<use href="#m" x="1385.2" y="952.7"/>
<use href="#m" x="1182.6" y="991.7"/>
<use href="#m" x="1381.4" y="991.7"/>
<use href="#m" x="1196.9" y="1030.6"/>
<use href="#m" x="1367.1" y="1030.6"/>
<use href="#m" x="1282.0" y="875.1"/>
<use href="#m" x="1282.0" y="914.0"/>
<use href="#m" x="1282.0" y="952.7"/>
<use href="#m" x="1282.0" y="991.4"/>
<use href="#m" x="1282.0" y="1030.3"/>
</g>
</g>
<g>
<text class="tt" transform="translate(563.1 1369.7) scale(1.212 1)" text-anchor="middle">Beta</text>
<path transform="translate(563.8 1384.4) scale(1.22 1)" d="M-47.1 44.6L0 0L47.1 44.6" fill="none" stroke="#000" stroke-width="2.7" stroke-linejoin="round"/>
<g clip-path="url(#c4)"><g filter="url(#bl)" fill="none" stroke-width="4" shape-rendering="crispEdges">
<path stroke="#69cd6b" d="M758 1664h8"/>
<path stroke="#6ccd68" d="M758 1668h8"/>
<path stroke="#70cd65" d="M766 1664h4M766 1668h4"/>
<path stroke="#73cd63" d="M762 1660h4M362 1664h8M754 1664h4M362 1668h8M754 1668h4"/>
<path stroke="#77cc60" d="M758 1660h4M766 1660h4M358 1664h4M770 1664h4M358 1668h4M770 1668h4"/>
<path stroke="#7acc5d" d="M758 1672h12"/>
<path stroke="#7ecc5b" d="M358 1660h8M754 1660h4M770 1660h4M354 1664h4M370 1664h4M354 1668h4M370 1668h4"/>
<path stroke="#82cc58" d="M366 1660h4M750 1664h4M774 1664h4M750 1668h4M774 1668h4M362 1672h4M754 1672h4M770 1672h4"/>
<path stroke="#85cb55" d="M354 1660h4M358 1672h4M366 1672h4"/>
<path stroke="#89cb52" d="M762 1656h8M370 1660h4M774 1660h4M350 1664h4M350 1668h4M354 1672h4"/>
<path stroke="#8dcb50" d="M758 1656h4M770 1656h4M350 1660h4M750 1660h4M374 1664h4M778 1664h4M374 1668h4M778 1668h4M370 1672h4M774 1672h4M762 1676h4"/>
<path stroke="#90ca4d" d="M358 1656h8M754 1656h4M778 1660h4M750 1672h4M758 1676h4M766 1676h4"/>
<path stroke="#94ca4a" d="M354 1656h4M366 1656h4M774 1656h4M374 1660h4M346 1664h4M746 1664h4M346 1668h4M746 1668h4M350 1672h4M778 1672h4M362 1676h4M770 1676h4"/>
<path stroke="#97ca47" d="M346 1660h4M782 1664h4M782 1668h4M374 1672h4M358 1676h4M366 1676h4M754 1676h4"/>
<path stroke="#9bc945" d="M350 1656h4M370 1656h4M778 1656h4M746 1660h4M782 1660h4M342 1664h4M346 1672h4M354 1676h4M774 1676h4"/>
<path stroke="#9ec942" d="M750 1656h4M342 1660h4M378 1664h4M342 1668h4M378 1668h4M746 1672h4M782 1672h4M370 1676h4"/>
<path stroke="#a2c840" d="M758 1652h16M346 1656h4M786 1660h4M786 1664h4M786 1668h4M350 1676h4M750 1676h4M778 1676h4"/>
<path stroke="#a5c83d" d="M358 1652h4M774 1652h4M374 1656h4M782 1656h4M378 1660h4M338 1664h4M342 1672h4M762 1680h12"/>
<path stroke="#a8c73b" d="M354 1652h4M362 1652h4M754 1652h4M342 1656h4M338 1660h4M742 1664h4M790 1664h4M338 1668h4M742 1668h4M790 1668h4M378 1672h4M786 1672h4M346 1676h4M782 1676h4M758 1680h4M774 1680h4"/>
<path stroke="#acc739" d="M350 1652h4M366 1652h4M778 1652h4M746 1656h4M786 1656h4M790 1660h4M374 1676h4M354 1680h12"/>
<path stroke="#afc637" d="M346 1652h4M370 1652h4M338 1656h4M334 1660h4M742 1660h4M334 1664h4M794 1664h4M334 1668h4M794 1668h4M338 1672h4M790 1672h4M342 1676h4M746 1676h4M786 1676h4M350 1680h4M366 1680h4M754 1680h4M778 1680h4"/>
<path stroke="#b2c535" d="M342 1652h4M750 1652h4M782 1652h4M378 1656h4M790 1656h4M794 1660h4M382 1664h4M382 1668h4M742 1672h4M794 1672h4M790 1676h4M782 1680h4"/>
<path stroke="#b6c533" d="M786 1652h4M334 1656h4M382 1660h4M330 1664h4M798 1664h4M798 1668h4M334 1672h4M338 1676h4M346 1680h4M370 1680h4M786 1680h4"/>
<path stroke="#b9c431" d="M762 1648h16M338 1652h4M374 1652h4M742 1656h4M794 1656h4M330 1660h4M798 1660h4M330 1668h4M382 1672h4M798 1672h4M378 1676h4M794 1676h4M750 1680h4"/>
<path stroke="#bcc42f" d="M350 1648h12M758 1648h4M778 1648h4M334 1652h4M746 1652h4M790 1652h4M330 1656h4M326 1664h4M738 1664h4M802 1664h4M738 1668h4M802 1668h4M330 1672h4M802 1672h4M334 1676h4M798 1676h4M342 1680h4M790 1680h4M762 1684h20"/>
<path stroke="#bfc32d" d="M346 1648h4M362 1648h4M754 1648h4M782 1648h4M798 1656h4M326 1660h4M738 1660h4M802 1660h4M326 1668h4M806 1668h4M806 1672h4M742 1676h4M802 1676h4M338 1680h4M374 1680h4M794 1680h4M354 1684h8M782 1684h4"/>
<path stroke="#c2c22c" d="M342 1648h4M366 1648h4M330 1652h4M378 1652h4M794 1652h4M326 1656h4M382 1656h4M322 1664h4M386 1664h4M806 1664h4M326 1672h4M738 1672h4M330 1676h4M806 1676h4M746 1680h4M798 1680h8M350 1684h4M362 1684h4M758 1684h4M786 1684h4"/>
<path stroke="#c5c22a" d="M338 1648h4M370 1648h4M786 1648h4M802 1656h4M322 1660h4M806 1660h4M810 1664h4M322 1668h4M386 1668h4M810 1668h4M810 1672h4M382 1676h4M810 1676h4M334 1680h4M806 1680h4M346 1684h4M366 1684h4M790 1684h8"/>
<path stroke="#c8c129" d="M334 1648h4M750 1648h4M790 1648h4M326 1652h4M742 1652h4M798 1652h4M322 1656h4M738 1656h4M318 1660h4M386 1660h4M810 1660h4M318 1664h4M318 1668h4M814 1668h4M322 1672h4M814 1672h4M326 1676h4M814 1676h4M330 1680h4M378 1680h4M810 1680h4M342 1684h4M754 1684h4M798 1684h8"/>
<path stroke="#cbc029" d="M330 1648h4M794 1648h4M322 1652h4M802 1652h4M318 1656h4M806 1656h4M814 1664h4M818 1668h4M318 1672h4M386 1672h4M818 1672h4M322 1676h4M818 1676h4M814 1680h4M338 1684h4M370 1684h4M806 1684h4M778 1688h4"/>
<path stroke="#cec028" d="M342 1644h12M766 1644h16M326 1648h4M374 1648h4M746 1648h4M382 1652h4M386 1656h4M810 1656h4M314 1660h4M814 1660h4M314 1664h4M734 1664h4M818 1664h4M314 1668h4M734 1668h4M314 1672h4M822 1672h4M318 1676h4M738 1676h4M326 1680h4M742 1680h4M818 1680h4M334 1684h4M750 1684h4M810 1684h8M770 1688h8M782 1688h16"/>
<path stroke="#d1bf27" d="M338 1644h4M354 1644h8M762 1644h4M782 1644h8M322 1648h4M798 1648h4M318 1652h4M806 1652h4M314 1656h4M310 1660h4M734 1660h4M818 1660h4M310 1664h4M310 1668h4M822 1668h4M822 1676h4M322 1680h4M822 1680h4M330 1684h4M818 1684h4M766 1688h4M798 1688h12"/>
<path stroke="#d4bf28" d="M330 1644h8M362 1644h4M758 1644h4M790 1644h4M378 1648h4M802 1648h4M314 1652h4M738 1652h4M810 1652h4M310 1656h4M814 1656h4M306 1664h4M390 1664h4M822 1664h4M306 1668h4M826 1668h4M310 1672h4M734 1672h4M826 1672h4M314 1676h4M386 1676h4M826 1676h4M318 1680h4M382 1680h4M326 1684h4M374 1684h4M822 1684h4M342 1688h20M762 1688h4M810 1688h8"/>
<path stroke="#d6be28" d="M326 1644h4M366 1644h4M754 1644h4M794 1644h4M318 1648h4M310 1652h4M306 1656h4M734 1656h4M818 1656h4M306 1660h4M390 1660h4M822 1660h4M826 1664h4M390 1668h4M306 1672h4M310 1676h4M314 1680h4M322 1684h4M746 1684h4M338 1688h4M362 1688h4M758 1688h4M818 1688h4M794 1692h12"/>
<path stroke="#d9bd28" d="M322 1644h4M798 1644h4M314 1648h4M742 1648h4M806 1648h4M386 1652h4M814 1652h4M822 1656h4M302 1660h4M826 1660h4M302 1664h4M830 1664h4M302 1668h4M302 1672h4M390 1672h4M306 1676h4M310 1680h4M738 1680h4M318 1684h4M378 1684h4M330 1688h8M782 1692h12M806 1692h16"/>
<path stroke="#dcbd29" d="M334 1640h12M318 1644h4M370 1644h4M750 1644h4M802 1644h4M310 1648h4M382 1648h4M810 1648h4M306 1652h4M818 1652h4M302 1656h4M390 1656h4M298 1660h4M830 1660h4M298 1664h4M298 1668h4M298 1672h4M302 1676h4M734 1676h4M306 1680h4M314 1684h4M326 1688h4M366 1688h4M754 1688h4M774 1692h8"/>
<path stroke="#debc2a" d="M326 1640h8M346 1640h8M774 1640h16M314 1644h4M374 1644h4M306 1648h4M814 1648h4M302 1652h4M822 1652h4M298 1656h4M826 1656h4M294 1660h4M294 1664h4M730 1664h4M730 1668h4M298 1676h4M302 1680h4M386 1680h4M310 1684h4M742 1684h4M318 1688h8M370 1688h4M770 1692h4M798 1696h20"/>
<path stroke="#e1bc2b" d="M322 1640h4M354 1640h4M766 1640h8M790 1640h8M310 1644h4M746 1644h4M806 1644h4M302 1648h4M738 1648h4M818 1648h4M298 1652h4M734 1652h4M294 1656h4M830 1656h4M730 1660h4M390 1676h4M302 1684h8M314 1688h4M750 1688h4M334 1692h20M790 1696h8"/>
<path stroke="#e3bb2c" d="M314 1640h8M358 1640h4M762 1640h4M798 1640h4M306 1644h4M810 1644h4M298 1648h4M294 1652h4M826 1652h4M394 1664h4M394 1668h4M730 1672h4M382 1684h4M306 1688h8M326 1692h8M354 1692h4M766 1692h4M786 1696h4M810 1700h8"/>
<path stroke="#e6bb2d" d="M326 1636h16M310 1640h4M362 1640h4M758 1640h4M802 1640h4M298 1644h8M378 1644h4M742 1644h4M814 1644h4M294 1648h4M386 1648h4M822 1648h4M290 1652h4M390 1652h4M830 1652h4M730 1656h4M394 1660h4M734 1680h4M738 1684h4M374 1688h4M314 1692h12M358 1692h4M762 1692h4M782 1696h4M798 1700h12"/>
<path stroke="#e8bb2f" d="M318 1636h8M342 1636h4M302 1640h8M366 1640h4M754 1640h4M806 1640h4M294 1644h4M818 1644h4M290 1648h4M826 1648h4M394 1656h4M394 1672h4M730 1676h4M746 1688h4M306 1692h8M362 1692h4M778 1696h4M794 1700h4"/>
<path stroke="#eaba31" d="M310 1636h8M346 1636h4M782 1636h16M298 1640h4M810 1640h4M290 1644h4M382 1644h4M822 1644h4M734 1648h4M830 1648h4M390 1680h4M386 1684h4M378 1688h4M758 1692h4M322 1696h20M774 1696h4M790 1700h4M806 1704h8"/>
<path stroke="#edba33" d="M326 1632h8M302 1636h8M350 1636h4M774 1636h8M798 1636h8M290 1640h8M370 1640h4M750 1640h4M814 1640h4M738 1644h4M826 1644h4M390 1648h4M834 1648h4M730 1652h4M726 1664h4M726 1668h4M394 1676h4M742 1688h4M366 1692h4M310 1696h12M342 1696h8M770 1696h4M786 1700h4M798 1704h8"/>
<path stroke="#efba35" d="M314 1632h12M334 1632h8M294 1636h8M354 1636h4M770 1636h4M806 1636h4M374 1640h4M746 1640h4M818 1640h4M830 1644h4M394 1652h4M726 1660h4M726 1672h4M730 1680h4M734 1684h4M754 1692h4M350 1696h4M782 1700h4M794 1704h4"/>
<path stroke="#f1ba37" d="M302 1632h12M342 1632h4M290 1636h4M766 1636h4M810 1636h4M822 1640h8M386 1644h4M834 1644h4M726 1656h4M398 1660h4M398 1664h4M398 1668h4M382 1688h4M370 1692h4M354 1696h4M766 1696h4M310 1700h20M778 1700h4M790 1704h4M802 1708h8"/>
<path stroke="#f3ba39" d="M318 1628h16M294 1632h8M346 1632h4M786 1632h16M358 1636h4M762 1636h4M814 1636h8M378 1640h4M742 1640h4M830 1640h4M734 1644h4M730 1648h4M398 1656h4M398 1672h4M726 1676h4M394 1680h4M390 1684h4M738 1688h4M750 1692h4M358 1696h4M330 1700h12M786 1704h4M798 1708h4"/>
<path stroke="#f5ba3b" d="M302 1628h16M334 1628h8M290 1632h4M350 1632h4M782 1632h4M802 1632h8M362 1636h4M758 1636h4M822 1636h4M834 1640h4M390 1644h4M394 1648h4M726 1652h4M374 1692h4M762 1696h4M342 1700h4M774 1700h4M794 1708h4M802 1712h8"/>
<path stroke="#f7ba3c" d="M290 1628h12M342 1628h4M774 1632h8M810 1632h8M366 1636h4M754 1636h4M826 1636h4M382 1640h4M398 1652h4M398 1676h4M726 1680h4M730 1684h4M386 1688h4M746 1692h4M362 1696h4M346 1700h4M770 1700h4M314 1704h16M782 1704h4M790 1708h4M798 1712h4"/>
<path stroke="#f9bb3d" d="M302 1624h36M346 1628h4M354 1632h4M818 1632h4M370 1636h4M750 1636h4M830 1636h8M738 1640h4M722 1660h4M722 1664h4M722 1668h4M734 1688h4M378 1692h4M366 1696h4M758 1696h4M350 1700h4M330 1704h8M778 1704h4M786 1708h4M794 1712h4M802 1716h4"/>
<path stroke="#fabc3d" d="M290 1624h12M338 1624h4M786 1628h24M770 1632h4M822 1632h8M374 1636h4M746 1636h4M386 1640h4M394 1644h4M730 1644h4M726 1648h4M722 1656h4M402 1660h4M402 1664h4M722 1672h4M398 1680h4M394 1684h4M742 1692h4M354 1700h4M766 1700h4M338 1704h4M314 1708h8M798 1716h4"/>
<path stroke="#fcbc3d" d="M290 1620h44M342 1624h4M350 1628h4M782 1628h4M810 1628h8M358 1632h4M766 1632h4M830 1632h8M378 1636h4M734 1640h4M398 1648h4M402 1656h4M402 1668h4M402 1672h4M722 1676h4M726 1684h4M390 1688h4M382 1692h4M370 1696h4M754 1696h4M342 1704h4M774 1704h4M322 1708h8M782 1708h4M790 1712h4M794 1716h4"/>
<path stroke="#fdbd3d" d="M334 1620h8M346 1624h4M794 1624h12M778 1628h4M818 1628h8M742 1636h4M390 1640h4M402 1652h4M722 1652h4M730 1688h4M738 1692h4M358 1700h4M346 1704h4M330 1708h4M778 1708h4M318 1712h4M786 1712h4M798 1720h4"/>
<path stroke="#febe3c" d="M290 1616h44M342 1620h4M350 1624h4M786 1624h8M806 1624h8M354 1628h4M774 1628h4M826 1628h12M362 1632h4M762 1632h4M382 1636h4M738 1636h4M398 1644h4M726 1644h4M402 1676h4M722 1680h4M398 1684h4M394 1688h4M386 1692h4M374 1696h4M750 1696h4M362 1700h4M762 1700h4M350 1704h4M770 1704h4M334 1708h8M322 1712h4M782 1712h4M790 1716h4M794 1720h4"/>
<path stroke="#fec03b" d="M290 1612h24M334 1616h8M346 1620h4M782 1624h4M814 1624h12M770 1628h4M366 1632h4M754 1632h8M386 1636h4M394 1640h4M730 1640h4M402 1648h4M722 1648h4M718 1660h4M718 1664h4M718 1668h4M402 1680h4M734 1692h4M746 1696h4M342 1708h4M774 1708h4M326 1712h8M786 1716h4M790 1720h4"/>
<path stroke="#fec13a" d="M290 1608h4M314 1612h20M342 1616h4M350 1620h4M786 1620h32M354 1624h4M778 1624h4M826 1624h12M358 1628h4M766 1628h4M370 1632h8M750 1632h4M734 1636h4M406 1656h4M718 1656h4M406 1660h4M406 1664h4M718 1672h4M718 1676h4M722 1684h4M726 1688h4M390 1692h4M378 1696h4M366 1700h4M758 1700h4M354 1704h4M766 1704h4M334 1712h4M778 1712h4M322 1716h4M782 1716h4M794 1724h4"/>
<path stroke="#fec339" d="M786 1560h16M770 1564h36M766 1568h40M766 1572h40M770 1576h28M294 1608h32M334 1612h8M346 1616h8M794 1616h16M354 1620h4M782 1620h4M818 1620h8M774 1624h4M378 1632h4M746 1632h4M390 1636h4M398 1640h4M726 1640h4M402 1644h4M722 1644h4M406 1652h4M718 1652h4M406 1668h4M406 1672h4M398 1688h4M730 1692h4M382 1696h4M742 1696h4M358 1704h4M346 1708h4M770 1708h4M338 1712h4M326 1716h4M786 1720h4M790 1724h4M794 1728h4"/>
<path stroke="#fec437" d="M778 1556h36M766 1560h20M802 1560h16M762 1564h8M806 1564h16M758 1568h8M806 1568h16M758 1572h8M806 1572h12M762 1576h8M798 1576h16M766 1580h44M774 1584h28M290 1604h24M326 1608h12M342 1612h8M798 1612h4M354 1616h4M782 1616h12M810 1616h12M778 1620h4M826 1620h12M358 1624h4M770 1624h4M362 1628h4M762 1628h4M382 1632h4M742 1632h4M394 1636h4M730 1636h4M406 1648h4M406 1676h4M718 1680h4M402 1684h4M722 1688h4M394 1692h4M738 1696h4M370 1700h4M754 1700h4M762 1704h4M350 1708h4M342 1712h4M774 1712h4M330 1716h4M778 1716h4M782 1720h4M786 1724h4M790 1728h4"/>
<path stroke="#fec636" d="M778 1552h44M766 1556h12M814 1556h12M762 1560h4M818 1560h8M758 1564h4M822 1564h8M754 1568h4M822 1568h8M754 1572h4M818 1572h12M754 1576h8M814 1576h12M758 1580h8M810 1580h12M766 1584h8M802 1584h16M774 1588h40M782 1592h24M290 1600h20M314 1604h16M338 1608h8M790 1608h20M350 1612h4M786 1612h12M802 1612h20M778 1616h4M822 1616h16M358 1620h4M774 1620h4M362 1624h4M766 1624h4M366 1628h4M758 1628h4M386 1632h4M738 1632h4M718 1648h4M406 1680h4M718 1684h4M726 1692h4M386 1696h4M734 1696h4M362 1704h4M354 1708h4M766 1708h4M334 1716h4M326 1720h4M782 1724h4M786 1728h4M790 1732h4"/>
<path stroke="#fec735" d="M778 1548h44M766 1552h12M822 1552h4M762 1556h4M754 1560h8M754 1564h4M750 1568h4M750 1572h4M830 1572h4M826 1576h8M754 1580h4M822 1580h12M758 1584h8M818 1584h16M766 1588h8M814 1588h16M290 1592h4M770 1592h12M806 1592h20M290 1596h16M778 1596h44M310 1600h16M782 1600h40M330 1604h12M782 1604h40M346 1608h4M782 1608h8M810 1608h20M354 1612h4M778 1612h8M822 1612h16M358 1616h4M774 1616h4M362 1620h4M770 1620h4M762 1624h4M370 1628h8M750 1628h8M390 1632h4M734 1632h4M398 1636h4M402 1640h4M722 1640h4M406 1644h4M410 1652h4M410 1656h4M714 1656h4M410 1660h4M714 1660h4M714 1664h4M714 1668h4M714 1672h4M402 1688h4M374 1700h4M750 1700h4M758 1704h4M346 1712h4M770 1712h4M338 1716h4M774 1716h4M330 1720h4M778 1720h4M782 1728h4M786 1732h4"/>
<path stroke="#fec934" d="M782 1544h40M770 1548h8M762 1552h4M754 1556h8M750 1560h4M750 1564h4M746 1568h4M746 1572h4M750 1576h4M750 1580h4M754 1584h4M290 1588h4M758 1588h8M830 1588h8M294 1592h12M762 1592h8M826 1592h12M306 1596h16M770 1596h8M822 1596h16M326 1600h8M774 1600h8M822 1600h16M342 1604h4M774 1604h8M822 1604h16M350 1608h4M774 1608h8M830 1608h8M358 1612h4M774 1612h4M362 1616h4M770 1616h4M766 1620h4M366 1624h4M378 1628h4M742 1628h8M394 1632h4M726 1636h4M718 1644h4M410 1648h4M714 1652h4M410 1664h4M410 1668h4M410 1672h4M714 1676h4M714 1680h4M406 1684h4M718 1688h4M398 1692h4M722 1692h4M390 1696h4M730 1696h4M378 1700h4M746 1700h4M366 1704h4M358 1708h4M762 1708h4M350 1712h4M342 1716h4M770 1716h4M334 1720h4M774 1720h4M326 1724h8M778 1724h4M778 1728h4M782 1732h4M786 1736h4"/>
<path stroke="#feca33" d="M786 1540h32M770 1544h12M762 1548h8M754 1552h8M750 1556h4M746 1560h4M746 1564h4M746 1576h4M746 1580h4M294 1584h4M750 1584h4M294 1588h12M754 1588h4M306 1592h12M758 1592h4M322 1596h12M762 1596h8M334 1600h8M766 1600h8M346 1604h8M770 1604h4M354 1608h4M770 1608h4M766 1612h8M766 1616h4M366 1620h4M762 1620h4M370 1624h4M754 1624h8M382 1628h8M738 1628h4M730 1632h4M402 1636h4M406 1640h4M410 1644h4M714 1648h4M410 1676h4M714 1684h4M394 1696h4M726 1696h4M382 1700h4M738 1700h8M354 1712h4M766 1712h4M346 1716h4M338 1720h4M334 1724h4M774 1724h4M778 1732h4M782 1736h4M782 1740h4"/>
<path stroke="#fdcc32" d="M790 1536h28M774 1540h12M762 1544h8M758 1548h4M750 1552h4M746 1556h4M742 1560h4M742 1564h4M742 1568h4M742 1572h4M742 1576h4M294 1580h4M298 1584h8M746 1584h4M306 1588h12M750 1588h4M318 1592h12M754 1592h4M334 1596h8M758 1596h4M342 1600h8M762 1600h4M354 1604h4M762 1604h8M358 1608h4M766 1608h4M362 1612h4M762 1612h4M366 1616h4M762 1616h4M370 1620h4M758 1620h4M374 1624h8M746 1624h8M390 1628h4M734 1628h4M398 1632h4M722 1636h4M718 1640h4M414 1652h4M414 1656h4M410 1680h4M406 1688h4M402 1692h4M718 1692h4M386 1700h4M734 1700h4M370 1704h4M754 1704h4M362 1708h4M758 1708h4M350 1716h4M766 1716h4M342 1720h4M770 1720h4M338 1724h4M770 1724h4M330 1728h4M774 1728h4M774 1732h4M778 1736h4M778 1740h4"/>
<path stroke="#fdcd31" d="M794 1532h20M778 1536h12M766 1540h8M758 1544h4M750 1548h8M746 1552h4M742 1556h4M738 1564h4M738 1568h4M738 1572h4M294 1576h8M738 1576h4M298 1580h12M742 1580h4M306 1584h12M742 1584h4M318 1588h8M746 1588h4M330 1592h8M750 1592h4M342 1596h4M754 1596h4M350 1600h4M758 1600h4M358 1604h4M758 1604h4M362 1608h4M758 1608h8M366 1612h4M758 1612h4M370 1616h4M758 1616h4M374 1620h4M754 1620h4M382 1624h4M742 1624h4M394 1628h4M402 1632h4M726 1632h4M406 1636h4M410 1640h4M714 1644h4M414 1648h4M710 1656h4M414 1660h4M710 1660h4M414 1664h4M710 1664h4M710 1668h4M710 1672h4M710 1676h4M410 1684h4M714 1688h4M398 1696h4M722 1696h4M730 1700h4M750 1704h4M358 1712h4M762 1712h4M346 1720h4M766 1720h4M342 1724h4M334 1728h4M770 1728h4M770 1732h4M774 1736h4M774 1740h4M778 1744h4"/>
<path stroke="#fccf31" d="M798 1528h12M782 1532h12M770 1536h8M758 1540h8M754 1544h4M746 1548h4M742 1552h4M738 1556h4M738 1560h4M734 1564h4M734 1568h4M294 1572h12M734 1572h4M302 1576h8M310 1580h8M738 1580h4M318 1584h8M738 1584h4M326 1588h12M742 1588h4M338 1592h8M746 1592h4M346 1596h8M750 1596h4M354 1600h4M750 1600h8M362 1604h4M754 1604h4M366 1608h4M754 1608h4M370 1612h4M754 1612h4M374 1616h4M754 1616h4M378 1620h4M746 1620h8M386 1624h4M738 1624h4M398 1628h4M730 1628h4M722 1632h4M410 1636h4M718 1636h4M414 1644h4M710 1652h4M414 1668h4M414 1672h4M414 1676h4M710 1680h4M710 1684h4M410 1688h4M406 1692h4M714 1692h4M718 1696h4M390 1700h4M726 1700h4M374 1704h4M746 1704h4M366 1708h4M754 1708h4M362 1712h4M758 1712h4M354 1716h4M762 1716h4M350 1720h4M346 1724h4M766 1724h4M338 1728h4M766 1728h4M334 1732h4M770 1736h4M770 1740h4M774 1744h4M774 1748h4"/>
<path stroke="#fcd030" d="M802 1524h8M786 1528h12M770 1532h12M762 1536h8M754 1540h4M746 1544h8M742 1548h4M738 1552h4M734 1560h4M298 1564h8M298 1568h12M306 1572h8M310 1576h12M734 1576h4M318 1580h12M734 1580h4M326 1584h8M338 1588h4M738 1588h4M346 1592h4M742 1592h4M354 1596h4M746 1596h4M358 1600h8M746 1600h4M366 1604h4M750 1604h4M370 1608h4M750 1608h4M374 1612h4M750 1612h4M378 1616h4M746 1616h8M382 1620h4M742 1620h4M390 1624h8M734 1624h4M402 1628h4M726 1628h4M406 1632h4M414 1640h4M714 1640h4M418 1648h4M710 1648h4M418 1652h4M418 1656h4M418 1660h4M414 1680h4M414 1684h4M710 1688h4M402 1696h4M394 1700h4M722 1700h4M378 1704h8M730 1704h16M370 1708h4M358 1716h4M354 1720h4M762 1720h4M350 1724h4M762 1724h4M342 1728h4M338 1732h4M766 1732h4M766 1736h4M766 1740h4M766 1744h8M770 1748h4M770 1752h4"/>
<path stroke="#fbd22f" d="M786 1524h16M774 1528h12M762 1532h8M754 1536h8M750 1540h4M742 1544h4M738 1548h4M734 1552h4M734 1556h4M298 1560h12M730 1560h4M306 1564h8M730 1564h4M310 1568h8M730 1568h4M314 1572h8M730 1572h4M322 1576h8M730 1576h4M330 1580h8M730 1580h4M334 1584h8M734 1584h4M342 1588h8M734 1588h4M350 1592h8M738 1592h4M358 1596h4M742 1596h4M366 1600h4M742 1600h4M370 1604h4M746 1604h4M374 1608h4M746 1608h4M378 1612h4M746 1612h4M382 1616h4M742 1616h4M386 1620h8M738 1620h4M398 1624h4M730 1624h4M406 1628h4M410 1632h4M718 1632h4M414 1636h4M418 1644h4M710 1644h4M706 1660h4M418 1664h4M418 1668h4M418 1672h4M706 1672h4M706 1676h4M410 1692h4M710 1692h4M406 1696h4M714 1696h4M398 1700h4M718 1700h4M386 1704h4M726 1704h4M374 1708h4M750 1708h4M366 1712h4M754 1712h4M362 1716h4M758 1716h4M758 1720h4M346 1728h4M762 1728h4M342 1732h8M762 1732h4M338 1736h8M762 1736h4M762 1740h4M762 1744h4M762 1748h8M766 1752h4M766 1756h4"/>
<path stroke="#fbd32e" d="M646 1424h8M642 1428h24M634 1432h36M630 1436h40M626 1440h44M622 1444h48M618 1448h48M614 1452h52M614 1456h48M614 1460h44M614 1464h40M618 1468h32M622 1472h16M790 1520h16M778 1524h8M766 1528h8M758 1532h4M750 1536h4M742 1540h8M738 1544h4M734 1548h4M302 1552h8M730 1552h4M302 1556h12M730 1556h4M310 1560h8M726 1560h4M314 1564h8M726 1564h4M318 1568h8M726 1568h4M322 1572h8M726 1572h4M330 1576h8M726 1576h4M338 1580h4M342 1584h8M730 1584h4M350 1588h8M358 1592h4M734 1592h4M362 1596h4M738 1596h4M370 1600h4M738 1600h4M374 1604h4M742 1604h4M378 1608h4M742 1608h4M382 1612h4M742 1612h4M386 1616h4M738 1616h4M394 1620h4M734 1620h4M402 1624h4M726 1624h4M722 1628h4M414 1632h4M714 1636h4M418 1640h4M710 1640h4M422 1648h4M422 1652h4M706 1652h4M422 1656h4M706 1656h4M706 1664h4M706 1668h4M418 1676h4M418 1680h4M706 1680h4M706 1684h4M414 1688h4M402 1700h4M714 1700h4M390 1704h8M722 1704h4M378 1708h4M726 1708h24M370 1712h4M750 1712h4M754 1716h4M358 1720h4M354 1724h4M758 1724h4M350 1728h4M758 1728h4M350 1732h4M758 1732h4M346 1736h4M758 1736h4M342 1740h4M758 1740h4M758 1744h4M758 1748h4M758 1752h8M758 1756h8"/>
<path stroke="#fad52d" d="M610 1420h24M610 1424h36M610 1428h32M606 1432h28M670 1432h8M606 1436h24M670 1436h20M602 1440h24M670 1440h32M602 1444h20M670 1444h32M602 1448h16M666 1448h32M602 1452h12M666 1452h28M602 1456h12M662 1456h28M602 1460h12M658 1460h24M602 1464h12M654 1464h24M606 1468h12M650 1468h20M610 1472h12M638 1472h24M614 1476h40M630 1480h4M790 1516h12M778 1520h12M766 1524h12M758 1528h8M750 1532h8M746 1536h4M738 1540h4M306 1544h4M734 1544h4M306 1548h8M730 1548h4M310 1552h8M726 1552h4M314 1556h8M726 1556h4M318 1560h8M322 1564h8M722 1564h4M326 1568h8M722 1568h4M330 1572h8M722 1572h4M338 1576h8M342 1580h8M726 1580h4M350 1584h8M726 1584h4M358 1588h4M730 1588h4M362 1592h4M730 1592h4M366 1596h8M734 1596h4M374 1600h4M734 1600h4M378 1604h4M738 1604h4M382 1608h4M738 1608h4M386 1612h4M738 1612h4M390 1616h8M734 1616h4M398 1620h4M730 1620h4M406 1624h4M410 1628h4M718 1628h4M714 1632h4M418 1636h4M422 1640h4M422 1644h4M706 1648h4M422 1660h4M422 1664h4M422 1668h4M418 1684h4M706 1688h4M414 1692h4M706 1692h4M410 1696h4M710 1696h4M406 1700h4M398 1704h4M718 1704h4M382 1708h4M722 1708h4M374 1712h4M742 1712h8M366 1716h4M750 1716h4M362 1720h4M754 1720h4M358 1724h4M754 1724h4M354 1728h8M754 1728h4M354 1732h4M754 1732h4M350 1736h4M754 1736h4M346 1740h8M754 1740h4M346 1744h4M754 1744h4M754 1748h4M754 1752h4M754 1756h4M754 1760h8M754 1764h4"/>
<path stroke="#f9d62d" d="M590 1416h20M590 1420h20M590 1424h20M590 1428h20M590 1432h16M590 1436h16M590 1440h12M590 1444h12M702 1444h8M586 1448h16M698 1448h20M586 1452h16M694 1452h24M590 1456h12M690 1456h24M590 1460h12M682 1460h24M590 1464h12M678 1464h20M594 1468h12M670 1468h20M598 1472h12M662 1472h20M602 1476h12M654 1476h20M610 1480h20M634 1480h28M618 1484h28M790 1512h8M778 1516h12M770 1520h8M758 1524h8M750 1528h8M746 1532h4M738 1536h8M310 1540h4M734 1540h4M310 1544h8M730 1544h4M314 1548h8M726 1548h4M318 1552h8M722 1552h4M322 1556h8M722 1556h4M326 1560h8M722 1560h4M330 1564h8M334 1568h8M338 1572h8M346 1576h4M722 1576h4M350 1580h8M722 1580h4M358 1584h4M362 1588h8M726 1588h4M366 1592h8M726 1592h4M374 1596h4M730 1596h4M378 1600h4M730 1600h4M382 1604h4M734 1604h4M386 1608h4M734 1608h4M390 1612h4M730 1612h8M398 1616h4M730 1616h4M402 1620h8M726 1620h4M410 1624h4M722 1624h4M414 1628h4M418 1632h4M422 1636h4M710 1636h4M426 1644h4M706 1644h4M426 1648h4M426 1652h4M426 1656h4M702 1656h4M702 1660h4M702 1664h4M702 1668h4M422 1672h4M702 1672h4M422 1676h4M702 1676h4M422 1680h4M702 1680h4M702 1684h4M418 1688h4M414 1696h4M706 1696h4M410 1700h4M710 1700h4M402 1704h4M714 1704h4M386 1708h8M718 1708h4M378 1712h4M722 1712h20M370 1716h4M742 1716h8M366 1720h4M746 1720h8M362 1724h4M746 1724h8M362 1728h4M750 1728h4M358 1732h4M750 1732h4M354 1736h8M746 1736h8M354 1740h4M746 1740h8M350 1744h8M746 1744h8M350 1748h4M746 1748h8M746 1752h8M746 1756h8M742 1760h12M742 1764h12M742 1768h12M742 1772h4"/>
<path stroke="#f9d82c" d="M574 1416h16M574 1420h16M574 1424h16M574 1428h16M574 1432h16M574 1436h16M574 1440h16M574 1444h16M574 1448h12M574 1452h12M718 1452h8M578 1456h12M714 1456h16M578 1460h12M706 1460h20M582 1464h8M698 1464h24M582 1468h12M690 1468h24M586 1472h12M682 1472h24M590 1476h12M674 1476h20M598 1480h12M662 1480h20M602 1484h16M646 1484h24M614 1488h44M790 1508h8M782 1512h8M770 1516h8M758 1520h12M750 1524h8M742 1528h8M738 1532h8M310 1536h8M734 1536h4M314 1540h8M730 1540h4M318 1544h8M726 1544h4M322 1548h8M722 1548h4M326 1552h8M718 1552h4M330 1556h8M718 1556h4M334 1560h8M718 1560h4M338 1564h8M718 1564h4M342 1568h8M718 1568h4M346 1572h8M718 1572h4M350 1576h8M718 1576h4M358 1580h4M718 1580h4M362 1584h8M722 1584h4M370 1588h4M722 1588h4M374 1592h4M378 1596h4M726 1596h4M382 1600h4M726 1600h4M386 1604h4M730 1604h4M390 1608h8M730 1608h4M394 1612h8M726 1612h4M402 1616h8M726 1616h4M410 1620h4M722 1620h4M414 1624h4M718 1624h4M418 1628h4M714 1628h4M422 1632h4M710 1632h4M426 1636h4M426 1640h4M706 1640h4M430 1648h4M702 1648h4M430 1652h4M702 1652h4M426 1660h4M426 1664h4M426 1668h4M422 1684h4M422 1688h4M702 1688h4M418 1692h4M702 1692h4M706 1700h4M406 1704h4M710 1704h4M394 1708h8M714 1708h4M382 1712h8M718 1712h4M374 1716h4M722 1716h20M370 1720h4M734 1720h12M366 1724h8M742 1724h4M366 1728h4M742 1728h8M362 1732h4M742 1732h8M362 1736h4M742 1736h4M358 1740h8M738 1740h8M358 1744h4M738 1744h8M354 1748h8M738 1748h8M354 1752h8M738 1752h8M358 1756h4M734 1756h12M734 1760h8M734 1764h8M730 1768h12M730 1772h12M730 1776h12M730 1780h4"/>
<path stroke="#f8da2b" d="M558 1416h16M558 1420h16M558 1424h16M562 1428h12M562 1432h12M562 1436h12M562 1440h12M562 1444h12M562 1448h12M562 1452h12M566 1456h12M730 1456h4M566 1460h12M726 1460h12M570 1464h12M722 1464h16M570 1468h12M714 1468h16M574 1472h12M706 1472h20M578 1476h12M694 1476h24M586 1480h12M682 1480h24M590 1484h12M670 1484h24M598 1488h16M658 1488h24M610 1492h56M786 1504h8M778 1508h12M766 1512h16M758 1516h12M750 1520h8M742 1524h8M318 1528h4M738 1528h4M314 1532h12M734 1532h4M318 1536h8M726 1536h8M322 1540h8M722 1540h8M326 1544h8M722 1544h4M330 1548h8M718 1548h4M334 1552h8M714 1552h4M338 1556h8M714 1556h4M342 1560h8M714 1560h4M346 1564h8M714 1564h4M350 1568h8M714 1568h4M354 1572h8M714 1572h4M358 1576h8M714 1576h4M362 1580h8M370 1584h8M718 1584h4M374 1588h8M718 1588h4M378 1592h8M722 1592h4M382 1596h8M722 1596h4M386 1600h8M390 1604h8M726 1604h4M398 1608h4M726 1608h4M402 1612h8M410 1616h4M722 1616h4M414 1620h8M718 1620h4M418 1624h8M714 1624h4M422 1628h8M426 1632h4M430 1636h4M706 1636h4M430 1640h4M430 1644h4M702 1644h4M430 1656h4M430 1660h4M430 1664h4M426 1672h4M426 1676h4M698 1676h4M426 1680h4M698 1680h4M426 1684h4M698 1684h4M422 1692h4M418 1696h4M702 1696h4M414 1700h4M702 1700h4M410 1704h4M706 1704h4M402 1708h8M710 1708h4M390 1712h12M710 1712h8M378 1716h8M714 1716h8M374 1720h8M722 1720h12M374 1724h4M726 1724h16M370 1728h4M730 1728h12M366 1732h8M730 1732h12M366 1736h8M730 1736h12M366 1740h8M730 1740h8M362 1744h12M730 1744h8M362 1748h12M726 1748h12M362 1752h12M726 1752h12M362 1756h12M722 1756h12M366 1760h8M722 1760h12M370 1764h4M718 1764h16M718 1768h12M714 1772h16M714 1776h16M714 1780h16M718 1784h8"/>
<path stroke="#f7db2a" d="M538 1416h20M542 1420h16M542 1424h16M546 1428h16M546 1432h16M546 1436h16M546 1440h16M546 1444h16M550 1448h12M550 1452h12M550 1456h16M554 1460h12M554 1464h16M738 1464h8M558 1468h12M730 1468h20M562 1472h12M726 1472h16M566 1476h12M718 1476h20M570 1480h16M706 1480h24M578 1484h12M694 1484h24M586 1488h12M682 1488h28M594 1492h16M666 1492h28M606 1496h68M782 1500h8M774 1504h12M762 1508h16M754 1512h12M746 1516h12M322 1520h4M738 1520h12M318 1524h12M734 1524h8M322 1528h8M730 1528h8M326 1532h8M726 1532h8M326 1536h12M722 1536h4M330 1540h12M718 1540h4M334 1544h12M714 1544h8M338 1548h12M714 1548h4M342 1552h8M710 1552h4M346 1556h8M710 1556h4M350 1560h8M710 1560h4M354 1564h8M710 1564h4M358 1568h8M710 1568h4M362 1572h8M710 1572h4M366 1576h8M710 1576h4M370 1580h8M714 1580h4M378 1584h8M714 1584h4M382 1588h8M714 1588h4M386 1592h8M718 1592h4M390 1596h8M718 1596h4M394 1600h8M722 1600h4M398 1604h8M722 1604h4M402 1608h12M722 1608h4M410 1612h8M722 1612h4M414 1616h8M718 1616h4M422 1620h4M714 1620h4M426 1624h4M430 1628h4M710 1628h4M430 1632h8M706 1632h4M434 1636h4M434 1640h4M702 1640h4M434 1644h8M434 1648h8M434 1652h4M698 1652h4M434 1656h4M698 1656h4M434 1660h4M698 1660h4M698 1664h4M430 1668h4M698 1668h4M430 1672h4M698 1672h4M430 1676h4M430 1680h4M426 1688h4M698 1688h4M426 1692h4M698 1692h4M422 1696h4M698 1696h4M418 1700h4M414 1704h4M702 1704h4M410 1708h4M702 1708h8M402 1712h8M706 1712h4M386 1716h16M710 1716h4M382 1720h12M710 1720h12M378 1724h8M714 1724h12M374 1728h12M718 1728h12M374 1732h12M718 1732h12M374 1736h16M718 1736h12M374 1740h36M718 1740h12M374 1744h40M718 1744h12M374 1748h40M714 1748h12M374 1752h40M714 1752h12M374 1756h40M710 1756h12M374 1760h36M710 1760h12M374 1764h36M706 1764h12M374 1768h36M706 1768h12M382 1772h28M702 1772h12M386 1776h24M558 1776h12M702 1776h12M394 1780h12M554 1780h20M702 1780h12M554 1784h20M702 1784h16M550 1788h28M706 1788h12M550 1792h28M706 1792h4M550 1796h28M550 1800h28M554 1804h20M554 1808h20M558 1812h12"/>
<path stroke="#f7dd2a" d="M518 1416h20M518 1420h24M522 1424h20M526 1428h20M526 1432h20M530 1436h16M530 1440h16M530 1444h16M530 1448h20M534 1452h16M534 1456h16M534 1460h20M538 1464h16M542 1468h16M546 1472h16M742 1472h16M550 1476h16M738 1476h24M558 1480h12M730 1480h28M562 1484h16M718 1484h32M570 1488h16M710 1488h32M578 1492h16M694 1492h36M774 1492h8M590 1496h16M674 1496h40M770 1496h16M606 1500h88M758 1500h24M750 1504h24M742 1508h20M330 1512h4M738 1512h16M326 1516h8M734 1516h12M326 1520h12M730 1520h8M330 1524h8M726 1524h8M330 1528h12M722 1528h8M334 1532h12M718 1532h8M338 1536h12M714 1536h8M342 1540h12M710 1540h8M346 1544h12M710 1544h4M350 1548h8M710 1548h4M350 1552h12M706 1552h4M354 1556h12M706 1556h4M358 1560h12M706 1560h4M362 1564h8M706 1564h4M366 1568h8M706 1568h4M370 1572h8M706 1572h4M374 1576h12M378 1580h12M710 1580h4M386 1584h8M710 1584h4M390 1588h8M394 1592h8M714 1592h4M398 1596h8M714 1596h4M402 1600h12M718 1600h4M406 1604h12M718 1604h4M414 1608h8M718 1608h4M418 1612h8M718 1612h4M422 1616h12M714 1616h4M426 1620h12M430 1624h8M710 1624h4M434 1628h8M706 1628h4M438 1632h4M438 1636h8M702 1636h4M438 1640h8M442 1644h4M698 1644h4M442 1648h4M698 1648h4M438 1652h8M438 1656h4M438 1660h4M434 1664h8M434 1668h4M434 1672h4M434 1676h4M694 1676h4M694 1680h4M430 1684h4M694 1684h4M430 1688h4M694 1688h4M694 1692h4M426 1696h4M422 1700h4M698 1700h4M418 1704h8M698 1704h4M414 1708h8M698 1708h4M410 1712h8M702 1712h4M402 1716h12M702 1716h8M394 1720h16M706 1720h4M386 1724h24M706 1724h8M386 1728h28M706 1728h12M386 1732h32M706 1732h12M390 1736h32M706 1736h12M410 1740h16M706 1740h12M414 1744h16M706 1744h12M414 1748h16M702 1748h12M414 1752h16M550 1752h24M702 1752h12M414 1756h20M546 1756h36M698 1756h12M410 1760h24M542 1760h44M694 1760h16M410 1764h24M538 1764h52M694 1764h12M410 1768h24M534 1768h60M690 1768h16M410 1772h24M534 1772h60M690 1772h12M410 1776h20M530 1776h28M570 1776h28M690 1776h12M406 1780h24M530 1780h24M574 1780h24M690 1780h12M402 1784h24M526 1784h28M574 1784h28M690 1784h12M410 1788h16M526 1788h24M578 1788h24M690 1788h16M418 1792h4M526 1792h24M578 1792h24M690 1792h16M526 1796h24M578 1796h24M694 1796h8M526 1800h24M578 1800h24M526 1804h28M574 1804h24M530 1808h24M574 1808h24M530 1812h28M570 1812h28M534 1816h60M534 1820h56"/>
<path stroke="#f6de29" d="M494 1420h24M494 1424h28M502 1428h24M506 1432h20M506 1436h24M510 1440h20M510 1444h20M510 1448h20M510 1452h24M510 1456h24M514 1460h20M514 1464h24M518 1468h24M522 1472h24M530 1476h20M538 1480h20M758 1480h8M546 1484h16M750 1484h24M554 1488h16M742 1488h36M562 1492h16M730 1492h44M574 1496h16M714 1496h56M338 1500h4M586 1500h20M694 1500h64M334 1504h8M602 1504h148M330 1508h12M630 1508h112M334 1512h12M714 1512h24M334 1516h12M714 1516h20M338 1520h12M714 1520h16M338 1524h16M714 1524h12M342 1528h20M710 1528h12M346 1532h20M710 1532h8M350 1536h20M706 1536h8M354 1540h20M706 1540h4M358 1544h16M706 1544h4M358 1548h20M702 1548h8M362 1552h16M702 1552h4M366 1556h16M702 1556h4M370 1560h12M702 1560h4M370 1564h16M702 1564h4M374 1568h16M702 1568h4M378 1572h16M702 1572h4M386 1576h12M706 1576h4M390 1580h12M706 1580h4M394 1584h16M706 1584h4M398 1588h16M710 1588h4M402 1592h16M710 1592h4M406 1596h16M710 1596h4M414 1600h16M714 1600h4M418 1604h16M714 1604h4M422 1608h16M714 1608h4M426 1612h16M714 1612h4M434 1616h12M710 1616h4M438 1620h12M710 1620h4M438 1624h12M706 1624h4M442 1628h12M442 1632h12M702 1632h4M446 1636h8M446 1640h12M698 1640h4M446 1644h12M446 1648h12M446 1652h8M694 1652h4M442 1656h12M694 1656h4M442 1660h8M694 1660h4M442 1664h4M694 1664h4M438 1668h8M694 1668h4M438 1672h4M694 1672h4M438 1676h4M434 1680h4M434 1684h4M434 1688h4M430 1692h8M430 1696h4M694 1696h4M426 1700h8M694 1700h4M426 1704h4M694 1704h4M422 1708h8M694 1708h4M418 1712h8M694 1712h8M414 1716h12M698 1716h4M410 1720h16M550 1720h16M698 1720h8M410 1724h16M546 1724h24M698 1724h8M414 1728h16M542 1728h32M698 1728h8M418 1732h16M538 1732h40M698 1732h8M422 1736h16M534 1736h48M694 1736h12M426 1740h12M530 1740h60M694 1740h12M430 1744h12M530 1744h64M690 1744h16M430 1748h16M526 1748h72M690 1748h12M430 1752h16M522 1752h28M574 1752h28M686 1752h16M434 1756h16M522 1756h24M582 1756h24M682 1756h16M434 1760h16M518 1760h24M586 1760h24M678 1760h16M434 1764h20M514 1764h24M590 1764h20M678 1764h16M434 1768h20M514 1768h20M594 1768h20M674 1768h16M434 1772h20M510 1772h24M594 1772h24M674 1772h16M430 1776h24M510 1776h20M598 1776h24M670 1776h20M430 1780h24M506 1780h24M598 1780h24M670 1780h20M426 1784h24M506 1784h20M602 1784h20M670 1784h20M426 1788h24M506 1788h20M602 1788h24M670 1788h20M422 1792h24M506 1792h20M602 1792h24M670 1792h20M426 1796h20M506 1796h20M602 1796h20M674 1796h20M434 1800h8M506 1800h20M602 1800h20M674 1800h20M506 1804h20M598 1804h24M678 1804h4M506 1808h24M598 1808h24M506 1812h24M598 1812h20M506 1816h28M594 1816h24M514 1820h20M590 1820h24"/>
<path stroke="#f6e028" d="M474 1424h20M462 1428h40M446 1432h60M438 1436h68M426 1440h84M418 1444h40M470 1444h40M410 1448h36M474 1448h36M402 1452h36M478 1452h32M394 1456h40M478 1456h32M390 1460h36M478 1460h36M382 1464h40M482 1464h32M378 1468h36M482 1468h36M370 1472h32M486 1472h36M366 1476h24M490 1476h40M362 1480h16M498 1480h40M354 1484h20M510 1484h36M350 1488h20M522 1488h32M346 1492h20M538 1492h24M342 1496h20M550 1496h24M342 1500h20M566 1500h20M342 1504h20M578 1504h24M342 1508h24M594 1508h36M346 1512h32M622 1512h92M346 1516h56M682 1516h32M350 1520h56M694 1520h20M354 1524h56M698 1524h16M362 1528h48M698 1528h12M366 1532h48M698 1532h12M370 1536h40M698 1536h8M374 1540h36M698 1540h8M374 1544h36M698 1544h8M378 1548h32M698 1548h4M378 1552h32M698 1552h4M382 1556h28M698 1556h4M382 1560h32M698 1560h4M386 1564h28M698 1564h4M390 1568h32M698 1568h4M394 1572h36M438 1572h32M698 1572h4M398 1576h80M702 1576h4M402 1580h84M702 1580h4M410 1584h84M702 1584h4M414 1588h84M706 1588h4M418 1592h84M706 1592h4M422 1596h84M430 1600h80M710 1600h4M434 1604h80M710 1604h4M438 1608h76M710 1608h4M442 1612h68M710 1612h4M446 1616h60M450 1620h52M706 1620h4M450 1624h48M454 1628h40M702 1628h4M454 1632h36M454 1636h36M698 1636h4M458 1640h28M458 1644h28M694 1644h4M458 1648h24M694 1648h4M454 1652h28M454 1656h24M450 1660h20M446 1664h16M446 1668h8M690 1668h4M442 1672h8M690 1672h4M442 1676h4M690 1676h4M438 1680h8M690 1680h4M438 1684h8M690 1684h4M438 1688h4M538 1688h24M690 1688h4M438 1692h4M534 1692h36M690 1692h4M434 1696h8M530 1696h44M690 1696h4M434 1700h4M530 1700h44M690 1700h4M430 1704h8M526 1704h52M690 1704h4M430 1708h8M526 1708h56M690 1708h4M426 1712h8M526 1712h56M690 1712h4M426 1716h8M522 1716h64M690 1716h8M426 1720h12M522 1720h28M566 1720h24M690 1720h8M426 1724h12M518 1724h28M570 1724h24M690 1724h8M430 1728h12M514 1728h28M574 1728h24M686 1728h12M434 1732h12M514 1732h24M578 1732h24M686 1732h12M438 1736h16M510 1736h24M582 1736h24M682 1736h12M438 1740h20M506 1740h24M590 1740h20M678 1740h16M442 1744h20M502 1744h28M594 1744h20M674 1744h16M446 1748h24M498 1748h28M598 1748h20M670 1748h20M446 1752h28M494 1752h28M602 1752h24M666 1752h20M450 1756h72M606 1756h24M658 1756h24M450 1760h68M610 1760h68M454 1764h60M610 1764h68M454 1768h60M614 1768h60M454 1772h56M618 1772h56M454 1776h56M622 1776h48M454 1780h52M622 1780h48M450 1784h56M622 1784h48M450 1788h56M626 1788h44M446 1792h60M626 1792h44M446 1796h60M622 1796h52M442 1800h64M622 1800h52M446 1804h60M622 1804h56M458 1808h48M622 1808h48M474 1812h32M618 1812h36M490 1816h16M618 1816h20"/>
<path stroke="#f5e228" d="M458 1444h12M446 1448h28M438 1452h40M434 1456h44M426 1460h52M422 1464h60M414 1468h68M402 1472h84M390 1476h100M378 1480h120M374 1484h136M370 1488h152M366 1492h172M362 1496h92M490 1496h60M362 1500h84M526 1500h40M362 1504h80M550 1504h28M366 1508h76M570 1508h24M378 1512h64M590 1512h32M402 1516h40M614 1516h68M406 1520h32M666 1520h28M410 1524h28M678 1524h20M410 1528h32M686 1528h12M414 1532h28M690 1532h8M410 1536h32M690 1536h8M410 1540h32M690 1540h8M410 1544h36M690 1544h8M410 1548h40M690 1548h8M410 1552h48M694 1552h4M410 1556h56M694 1556h4M414 1560h64M694 1560h4M414 1564h76M694 1564h4M422 1568h80M694 1568h4M430 1572h8M470 1572h40M694 1572h4M478 1576h44M698 1576h4M486 1580h48M698 1580h4M494 1584h48M498 1588h48M702 1588h4M502 1592h48M702 1592h4M506 1596h44M706 1596h4M510 1600h40M706 1600h4M514 1604h36M706 1604h4M514 1608h36M706 1608h4M510 1612h40M706 1612h4M506 1616h40M706 1616h4M502 1620h44M702 1620h4M498 1624h48M702 1624h4M494 1628h48M698 1628h4M490 1632h52M698 1632h4M490 1636h52M694 1636h4M486 1640h52M694 1640h4M486 1644h52M482 1648h56M482 1652h56M690 1652h4M478 1656h64M690 1656h4M470 1660h72M690 1660h4M462 1664h84M690 1664h4M454 1668h96M450 1672h20M498 1672h60M446 1676h12M506 1676h56M686 1676h4M446 1680h8M510 1680h60M686 1680h4M446 1684h8M510 1684h64M686 1684h4M442 1688h8M510 1688h28M562 1688h16M686 1688h4M442 1692h8M510 1692h24M570 1692h12M686 1692h4M442 1696h4M510 1696h20M574 1696h12M686 1696h4M438 1700h8M510 1700h20M574 1700h16M686 1700h4M438 1704h8M506 1704h20M578 1704h16M682 1704h8M438 1708h8M506 1708h20M582 1708h12M682 1708h8M434 1712h12M502 1712h24M582 1712h16M682 1712h8M434 1716h16M502 1716h20M586 1716h16M682 1716h8M438 1720h16M498 1720h24M590 1720h16M678 1720h12M438 1724h20M494 1724h24M594 1724h16M678 1724h12M442 1728h24M486 1728h28M598 1728h16M674 1728h12M446 1732h68M602 1732h20M670 1732h16M454 1736h56M606 1736h24M666 1736h16M458 1740h48M610 1740h32M654 1740h24M462 1744h40M614 1744h60M470 1748h28M618 1748h52M474 1752h20M626 1752h40M630 1756h28"/>
<path stroke="#f5e327" d="M454 1496h36M446 1500h80M442 1504h108M442 1508h128M442 1512h68M550 1512h40M442 1516h44M578 1516h36M438 1520h40M602 1520h64M438 1524h36M650 1524h28M442 1528h28M670 1528h16M442 1532h28M678 1532h12M442 1536h28M682 1536h8M442 1540h32M682 1540h8M446 1544h32M686 1544h4M450 1548h36M686 1548h4M458 1552h40M686 1552h8M466 1556h40M686 1556h8M478 1560h40M690 1560h4M490 1564h36M690 1564h4M502 1568h36M690 1568h4M510 1572h40M690 1572h4M522 1576h36M694 1576h4M534 1580h28M694 1580h4M542 1584h20M698 1584h4M546 1588h20M698 1588h4M550 1592h16M698 1592h4M550 1596h16M702 1596h4M550 1600h16M702 1600h4M550 1604h12M702 1604h4M550 1608h12M702 1608h4M550 1612h12M702 1612h4M546 1616h16M702 1616h4M546 1620h16M546 1624h16M698 1624h4M542 1628h16M542 1632h16M694 1632h4M542 1636h16M538 1640h20M690 1640h4M538 1644h20M690 1644h4M538 1648h20M690 1648h4M538 1652h20M542 1656h20M542 1660h20M686 1660h4M546 1664h20M686 1664h4M550 1668h20M686 1668h4M470 1672h28M558 1672h16M686 1672h4M458 1676h48M562 1676h16M454 1680h56M570 1680h12M682 1680h4M454 1684h56M574 1684h12M682 1684h4M450 1688h60M578 1688h12M682 1688h4M450 1692h16M482 1692h28M582 1692h12M682 1692h4M446 1696h16M486 1696h24M586 1696h12M678 1696h8M446 1700h16M486 1700h24M590 1700h12M678 1700h8M446 1704h20M482 1704h24M594 1704h12M678 1704h4M446 1708h60M594 1708h16M674 1708h8M446 1712h56M598 1712h16M674 1712h8M450 1716h52M602 1716h16M670 1716h12M454 1720h44M606 1720h20M666 1720h12M458 1724h36M610 1724h24M658 1724h20M466 1728h20M614 1728h60M622 1732h48M630 1736h36M642 1740h12"/>
<path stroke="#f5e526" d="M510 1512h40M486 1516h92M478 1520h124M474 1524h60M590 1524h60M470 1528h52M638 1528h32M470 1532h48M658 1532h20M470 1536h48M670 1536h12M474 1540h44M674 1540h8M478 1544h44M674 1544h12M486 1548h40M678 1548h8M498 1552h32M678 1552h8M506 1556h32M682 1556h4M518 1560h28M682 1560h8M526 1564h28M682 1564h8M538 1568h24M686 1568h4M550 1572h16M686 1572h4M558 1576h12M690 1576h4M562 1580h12M690 1580h4M562 1584h12M690 1584h8M566 1588h8M694 1588h4M566 1592h8M694 1592h4M566 1596h8M698 1596h4M566 1600h8M698 1600h4M562 1604h12M698 1604h4M562 1608h12M698 1608h4M562 1612h12M698 1612h4M562 1616h12M698 1616h4M562 1620h12M698 1620h4M562 1624h8M694 1624h4M558 1628h12M694 1628h4M558 1632h12M558 1636h12M690 1636h4M558 1640h12M558 1644h12M686 1644h4M558 1648h12M686 1648h4M558 1652h16M686 1652h4M562 1656h12M686 1656h4M562 1660h16M566 1664h12M682 1664h4M570 1668h12M682 1668h4M574 1672h12M682 1672h4M578 1676h12M682 1676h4M582 1680h12M678 1680h4M586 1684h12M678 1684h4M590 1688h12M678 1688h4M466 1692h16M594 1692h12M674 1692h8M462 1696h24M598 1696h12M674 1696h4M462 1700h24M602 1700h12M670 1700h8M466 1704h16M606 1704h12M670 1704h8M610 1708h16M666 1708h8M614 1712h20M658 1712h16M618 1716h52M626 1720h40M634 1724h24"/>
<path stroke="#f5e626" d="M534 1524h56M522 1528h116M518 1532h36M594 1532h64M518 1536h28M650 1536h20M518 1540h28M662 1540h12M522 1544h24M666 1544h8M526 1548h24M670 1548h8M530 1552h24M670 1552h8M538 1556h24M674 1556h8M546 1560h24M678 1560h4M554 1564h20M678 1564h4M562 1568h16M678 1568h8M566 1572h12M682 1572h4M570 1576h12M682 1576h8M574 1580h8M686 1580h4M574 1584h8M686 1584h4M574 1588h8M690 1588h4M574 1592h8M690 1592h4M574 1596h8M694 1596h4M574 1600h8M694 1600h4M574 1604h8M694 1604h4M574 1608h8M694 1608h4M574 1612h8M694 1612h4M574 1616h8M694 1616h4M574 1620h8M694 1620h4M570 1624h12M570 1628h8M690 1628h4M570 1632h8M690 1632h4M570 1636h8M686 1636h4M570 1640h12M686 1640h4M570 1644h12M570 1648h12M682 1648h4M574 1652h8M682 1652h4M574 1656h12M682 1656h4M578 1660h8M682 1660h4M578 1664h12M678 1664h4M582 1668h12M678 1668h4M586 1672h12M678 1672h4M590 1676h12M678 1676h4M594 1680h12M674 1680h4M598 1684h12M674 1684h4M602 1688h12M670 1688h8M606 1692h12M666 1692h8M610 1696h12M666 1696h8M614 1700h16M658 1700h12M618 1704h52M626 1708h40M634 1712h24"/>
<path stroke="#f5e825" d="M554 1532h40M546 1536h104M546 1540h116M546 1544h40M650 1544h16M550 1548h32M658 1548h12M554 1552h28M662 1552h8M562 1556h24M666 1556h8M570 1560h16M670 1560h8M574 1564h16M670 1564h8M578 1568h12M674 1568h4M578 1572h12M674 1572h8M582 1576h8M678 1576h4M582 1580h8M678 1580h8M582 1584h12M682 1584h4M582 1588h12M686 1588h4M582 1592h8M686 1592h4M582 1596h8M690 1596h4M582 1600h8M690 1600h4M582 1604h8M690 1604h4M582 1608h8M690 1608h4M582 1612h8M690 1612h4M582 1616h8M690 1616h4M582 1620h8M690 1620h4M582 1624h8M690 1624h4M578 1628h12M686 1628h4M578 1632h12M686 1632h4M578 1636h12M582 1640h8M682 1640h4M582 1644h8M682 1644h4M582 1648h8M582 1652h12M678 1652h4M586 1656h8M678 1656h4M586 1660h12M678 1660h4M590 1664h12M674 1664h4M594 1668h8M674 1668h4M598 1672h8M674 1672h4M602 1676h8M670 1676h8M606 1680h12M666 1680h8M610 1684h12M666 1684h8M614 1688h12M662 1688h8M618 1692h20M654 1692h12M622 1696h44M630 1700h28"/>
<path stroke="#f5e924" d="M586 1544h64M582 1548h76M582 1552h32M646 1552h16M586 1556h24M654 1556h12M586 1560h20M658 1560h12M590 1564h12M662 1564h8M590 1568h12M666 1568h8M590 1572h12M670 1572h4M590 1576h12M670 1576h8M590 1580h12M674 1580h4M594 1584h8M678 1584h4M594 1588h8M678 1588h8M590 1592h12M682 1592h4M590 1596h8M682 1596h8M590 1600h8M686 1600h4M590 1604h8M686 1604h4M590 1608h8M686 1608h4M590 1612h8M686 1612h4M590 1616h8M686 1616h4M590 1620h8M686 1620h4M590 1624h8M686 1624h4M590 1628h8M590 1632h8M682 1632h4M590 1636h8M682 1636h4M590 1640h8M678 1640h4M590 1644h8M678 1644h4M590 1648h12M678 1648h4M594 1652h8M674 1652h4M594 1656h12M674 1656h4M598 1660h8M670 1660h8M602 1664h8M670 1664h4M602 1668h12M666 1668h8M606 1672h12M666 1672h8M610 1676h16M662 1676h8M618 1680h16M658 1680h8M622 1684h44M626 1688h36M638 1692h16"/>
<path stroke="#f5eb23" d="M614 1552h32M610 1556h44M606 1560h52M602 1564h24M646 1564h16M602 1568h16M654 1568h12M602 1572h16M658 1572h12M602 1576h12M662 1576h8M602 1580h12M666 1580h8M602 1584h8M670 1584h8M602 1588h8M674 1588h4M602 1592h8M674 1592h8M598 1596h8M678 1596h4M598 1600h8M678 1600h8M598 1604h8M682 1604h4M598 1608h8M682 1608h4M598 1612h8M682 1612h4M598 1616h8M682 1616h4M598 1620h8M682 1620h4M598 1624h8M682 1624h4M598 1628h8M682 1628h4M598 1632h8M678 1632h4M598 1636h8M678 1636h4M598 1640h8M674 1640h4M598 1644h12M674 1644h4M602 1648h8M670 1648h8M602 1652h12M670 1652h4M606 1656h8M666 1656h8M606 1660h12M662 1660h8M610 1664h16M662 1664h8M614 1668h16M658 1668h8M618 1672h24M646 1672h20M626 1676h36M634 1680h24"/>
<path stroke="#f5ec22" d="M626 1564h20M618 1568h36M618 1572h40M614 1576h24M642 1576h20M614 1580h12M654 1580h12M610 1584h12M658 1584h12M610 1588h12M662 1588h12M610 1592h8M666 1592h8M606 1596h12M670 1596h8M606 1600h8M674 1600h4M606 1604h8M674 1604h8M606 1608h8M678 1608h4M606 1612h8M678 1612h4M606 1616h8M678 1616h4M606 1620h8M678 1620h4M606 1624h8M678 1624h4M606 1628h8M674 1628h8M606 1632h8M674 1632h4M606 1636h8M670 1636h8M606 1640h12M670 1640h4M610 1644h8M666 1644h8M610 1648h12M662 1648h8M614 1652h12M662 1652h8M614 1656h16M654 1656h12M618 1660h20M646 1660h16M626 1664h36M630 1668h28M642 1672h4"/>
<path stroke="#f5ee21" d="M638 1576h4M626 1580h28M622 1584h36M622 1588h40M618 1592h16M654 1592h12M618 1596h12M662 1596h8M614 1600h12M666 1600h8M614 1604h12M670 1604h4M614 1608h8M670 1608h8M614 1612h8M670 1612h8M614 1616h8M674 1616h4M614 1620h8M674 1620h4M614 1624h8M670 1624h8M614 1628h8M670 1628h4M614 1632h8M666 1632h8M614 1636h12M666 1636h4M618 1640h8M662 1640h8M618 1644h12M658 1644h8M622 1648h16M650 1648h12M626 1652h36M630 1656h24M638 1660h8"/>
<path stroke="#f6ef20" d="M634 1592h20M630 1596h32M626 1600h40M626 1604h16M654 1604h16M622 1608h16M662 1608h8M622 1612h12M662 1612h8M622 1616h12M666 1616h8M622 1620h12M666 1620h8M622 1624h12M662 1624h8M622 1628h12M662 1628h8M622 1632h16M658 1632h8M626 1636h40M626 1640h36M630 1644h28M638 1648h12"/>
<path stroke="#f6f11f" d="M642 1604h12M638 1608h24M634 1612h28M634 1616h32M634 1620h32M634 1624h28M634 1628h28M638 1632h20"/>
</g></g>
<circle transform="translate(563.8 1618.3) scale(1.3418 1)" r="191.9" fill="none" stroke="#000" stroke-width="2.5"/>
<g fill="#1e1600" fill-opacity="0.78">
<use href="#m" x="500.0" y="1472.0"/>
<use href="#m" x="627.5" y="1472.0"/>
<use href="#m" x="396.8" y="1527.9"/>
<use href="#m" x="730.7" y="1527.9"/>
<use href="#m" x="367.5" y="1570.8"/>
<use href="#m" x="760.0" y="1570.8"/>
<use href="#m" x="357.4" y="1618.3"/>
<use href="#m" x="770.1" y="1618.3"/>
<use href="#m" x="367.5" y="1665.8"/>
<use href="#m" x="760.0" y="1665.8"/>
<use href="#m" x="396.8" y="1708.7"/>
<use href="#m" x="730.7" y="1708.7"/>
<use href="#m" x="500.0" y="1764.6"/>
<use href="#m" x="627.5" y="1764.6"/>
<use href="#m" x="563.8" y="1772.1"/>
<use href="#m" x="478.6" y="1540.4"/>
<use href="#m" x="648.9" y="1540.4"/>
<use href="#m" x="464.3" y="1579.3"/>
<use href="#m" x="663.2" y="1579.3"/>
<use href="#m" x="460.6" y="1618.3"/>
<use href="#m" x="666.9" y="1618.3"/>
<use href="#m" x="464.3" y="1657.3"/>
<use href="#m" x="663.2" y="1657.3"/>
<use href="#m" x="478.6" y="1696.2"/>
<use href="#m" x="648.9" y="1696.2"/>
<use href="#m" x="563.8" y="1540.7"/>
<use href="#m" x="563.8" y="1579.6"/>
<use href="#m" x="563.8" y="1618.3"/>
<use href="#m" x="563.8" y="1657.0"/>
<use href="#m" x="563.8" y="1695.9"/>
</g>
</g>
<g>
<text class="tt" transform="translate(1280.5 1369.7) scale(1.228 1)" text-anchor="middle">DFA</text>
<path transform="translate(1282.0 1384.4) scale(1.22 1)" d="M-47.1 44.6L0 0L47.1 44.6" fill="none" stroke="#000" stroke-width="2.7" stroke-linejoin="round"/>
<g clip-path="url(#c5)"><g filter="url(#bl)" fill="none" stroke-width="4" shape-rendering="crispEdges">
<path stroke="#f5e924" d="M1276 1696h8M1272 1700h20M1272 1704h24M1268 1708h28M1272 1712h24M1272 1716h24M1276 1720h16M1280 1772h4M1280 1776h4M1280 1808h4M1280 1812h4M1280 1816h4"/>
<path stroke="#f5eb23" d="M1260 1680h32M1252 1684h52M1248 1688h60M1244 1692h72M1244 1696h32M1284 1696h36M1240 1700h32M1292 1700h32M1240 1704h32M1296 1704h28M1240 1708h28M1296 1708h32M1240 1712h32M1296 1712h32M1240 1716h32M1296 1716h32M1240 1720h36M1292 1720h36M1244 1724h84M1244 1728h80M1244 1732h80M1244 1736h76M1248 1740h72M1248 1744h72M1248 1748h68M1248 1752h68M1248 1756h68M1248 1760h68M1248 1764h68M1248 1768h68M1248 1772h32M1284 1772h32M1248 1776h32M1284 1776h32M1248 1780h68M1248 1784h68M1248 1788h68M1248 1792h68M1248 1796h68M1248 1800h68M1248 1804h68M1244 1808h36M1284 1808h36M1244 1812h36M1284 1812h36M1244 1816h36M1284 1816h36M1244 1820h76"/>
<path stroke="#f5ec22" d="M1036 1524h4M1036 1528h8M1032 1532h20M1028 1536h40M1028 1540h56M1024 1544h72M1024 1548h84M1020 1552h96M1020 1556h104M1016 1560h116M1016 1564h120M1016 1568h124M1012 1572h132M1012 1576h132M1012 1580h132M1012 1584h136M1008 1588h140M1008 1592h140M1008 1596h140M1008 1600h140M1008 1604h140M1008 1608h140M1008 1612h140M1008 1616h140M1008 1620h140M1008 1624h140M1008 1628h140M1008 1632h136M1008 1636h136M1008 1640h136M1008 1644h136M1008 1648h132M1012 1652h128M1012 1656h128M1012 1660h124M1012 1664h120M1252 1664h32M1016 1668h116M1236 1668h64M1016 1672h112M1228 1672h80M1016 1676h108M1224 1676h92M1020 1680h100M1220 1680h40M1292 1680h32M1020 1684h92M1220 1684h32M1304 1684h28M1024 1688h84M1216 1688h32M1308 1688h28M1024 1692h76M1216 1692h28M1316 1692h24M1028 1696h64M1216 1696h28M1320 1696h28M1028 1700h52M1216 1700h24M1324 1700h28M1032 1704h28M1216 1704h24M1324 1704h32M1036 1708h4M1216 1708h24M1328 1708h28M1216 1712h24M1328 1712h32M1216 1716h24M1328 1716h32M1216 1720h24M1328 1720h32M1216 1724h28M1328 1724h28M1220 1728h24M1324 1728h32M1220 1732h24M1324 1732h28M1220 1736h24M1320 1736h28M1224 1740h24M1320 1740h28M1224 1744h24M1320 1744h24M1228 1748h20M1316 1748h24M1228 1752h20M1316 1752h24M1228 1756h20M1316 1756h20M1228 1760h20M1316 1760h20M1232 1764h16M1316 1764h16M1232 1768h16M1316 1768h16M1228 1772h20M1316 1772h16M1228 1776h20M1316 1776h20M1228 1780h20M1316 1780h20M1228 1784h20M1316 1784h20M1224 1788h24M1316 1788h20M1224 1792h24M1316 1792h24M1224 1796h24M1316 1796h24M1224 1800h24M1316 1800h24M1220 1804h28M1316 1804h28M1220 1808h24M1320 1808h24M1216 1812h28M1320 1812h28M1212 1816h32M1320 1816h32M1232 1820h12M1320 1820h12"/>
<path stroke="#f5ee21" d="M1236 1416h92M1212 1420h140M1192 1424h180M1180 1428h204M1168 1432h228M1156 1436h252M1144 1440h276M1136 1444h292M1128 1448h308M1120 1452h324M1112 1456h340M1108 1460h348M1100 1464h364M1096 1468h372M1088 1472h388M1084 1476h396M1080 1480h404M1072 1484h420M1068 1488h428M1064 1492h436M1060 1496h444M1056 1500h452M1052 1504h460M1048 1508h468M1048 1512h312M1396 1512h120M1044 1516h304M1404 1516h116M1040 1520h300M1408 1520h116M1040 1524h292M1412 1524h116M1044 1528h284M1416 1528h112M1052 1532h268M1420 1532h112M1068 1536h248M1424 1536h112M1084 1540h224M1424 1540h112M1096 1544h204M1428 1544h112M1108 1548h184M1432 1548h108M1116 1552h168M1436 1552h108M1124 1556h144M1440 1556h104M1132 1560h116M1444 1560h104M1136 1564h96M1448 1564h100M1140 1568h84M1452 1568h96M1144 1572h76M1452 1572h100M1144 1576h72M1456 1576h96M1144 1580h68M1460 1580h92M1148 1584h60M1460 1584h92M1148 1588h60M1464 1588h92M1148 1592h56M1464 1592h92M1148 1596h56M1464 1596h92M1148 1600h56M1468 1600h88M1148 1604h56M1468 1604h88M1148 1608h52M1468 1608h88M1148 1612h56M1468 1612h88M1148 1616h56M1468 1616h88M1148 1620h56M1468 1620h88M1148 1624h56M1468 1624h88M1148 1628h60M1468 1628h88M1144 1632h68M1468 1632h88M1144 1636h72M1468 1636h88M1144 1640h80M1468 1640h88M1144 1644h92M1468 1644h88M1140 1648h124M1464 1648h92M1140 1652h144M1464 1652h88M1140 1656h160M1460 1656h92M1136 1660h172M1460 1660h92M1132 1664h120M1284 1664h36M1456 1664h96M1132 1668h104M1300 1668h28M1452 1668h96M1128 1672h100M1308 1672h28M1452 1672h96M1124 1676h100M1316 1676h28M1448 1676h100M1120 1680h100M1324 1680h28M1444 1680h100M1112 1684h108M1332 1684h28M1440 1684h104M1108 1688h108M1336 1688h36M1432 1688h108M1100 1692h116M1340 1692h44M1424 1692h116M1092 1696h124M1348 1696h52M1408 1696h128M1080 1700h136M1352 1700h184M1060 1704h156M1356 1704h176M1040 1708h176M1356 1708h172M1036 1712h180M1360 1712h168M1040 1716h176M1360 1716h164M1044 1720h172M1360 1720h160M1044 1724h172M1356 1724h164M1048 1728h172M1356 1728h160M1052 1732h168M1352 1732h160M1056 1736h100M1172 1736h48M1348 1736h160M1060 1740h96M1176 1740h48M1348 1740h156M1064 1744h88M1180 1744h44M1344 1744h156M1068 1748h88M1184 1748h44M1340 1748h156M1072 1752h84M1188 1752h40M1340 1752h152M1076 1756h80M1192 1756h36M1336 1756h152M1084 1760h76M1196 1760h32M1336 1760h144M1088 1764h72M1196 1764h36M1332 1764h40M1396 1764h80M1092 1768h68M1196 1768h36M1332 1768h36M1400 1768h72M1100 1772h60M1196 1772h32M1332 1772h36M1404 1772h60M1104 1776h56M1196 1776h32M1336 1776h32M1404 1776h56M1112 1780h52M1192 1780h36M1336 1780h32M1404 1780h48M1120 1784h44M1188 1784h40M1336 1784h36M1404 1784h40M1128 1788h36M1184 1788h40M1336 1788h40M1404 1788h32M1136 1792h32M1180 1792h44M1340 1792h40M1400 1792h28M1144 1796h80M1340 1796h80M1152 1800h72M1340 1800h72M1164 1804h56M1344 1804h56M1176 1808h44M1344 1808h44M1192 1812h24M1348 1812h24M1208 1816h4M1352 1816h4"/>
<path stroke="#f6ef20" d="M1360 1512h36M1348 1516h56M1340 1520h68M1332 1524h80M1328 1528h88M1320 1532h100M1316 1536h108M1308 1540h116M1300 1544h128M1292 1548h60M1376 1548h56M1284 1552h52M1388 1552h48M1268 1556h60M1396 1556h44M1248 1560h68M1404 1560h40M1232 1564h72M1408 1564h40M1224 1568h72M1412 1568h40M1220 1572h64M1416 1572h36M1216 1576h56M1424 1576h32M1212 1580h52M1424 1580h36M1208 1584h48M1428 1584h32M1208 1588h44M1432 1588h32M1204 1592h44M1436 1592h28M1204 1596h40M1436 1596h28M1204 1600h40M1440 1600h28M1204 1604h40M1440 1604h28M1200 1608h44M1440 1608h28M1204 1612h40M1444 1612h24M1204 1616h40M1444 1616h24M1204 1620h44M1444 1620h24M1204 1624h48M1444 1624h24M1208 1628h48M1444 1628h24M1212 1632h52M1444 1632h24M1216 1636h56M1440 1636h28M1224 1640h64M1440 1640h28M1236 1644h64M1440 1644h28M1264 1648h48M1436 1648h28M1284 1652h36M1432 1652h32M1300 1656h32M1432 1656h28M1308 1660h32M1428 1660h32M1320 1664h28M1424 1664h32M1328 1668h32M1416 1668h36M1336 1672h36M1408 1672h44M1344 1676h104M1352 1680h92M1360 1684h80M1372 1688h60M1384 1692h40M1400 1696h8M1156 1736h16M1156 1740h20M1152 1744h28M1156 1748h28M1156 1752h32M1156 1756h36M1160 1760h36M1160 1764h36M1372 1764h24M1160 1768h36M1368 1768h32M1160 1772h36M1368 1772h36M1160 1776h36M1368 1776h36M1164 1780h28M1368 1780h36M1164 1784h24M1372 1784h32M1164 1788h20M1376 1788h28M1168 1792h12M1380 1792h20"/>
<path stroke="#f6f11f" d="M1352 1548h24M1336 1552h52M1328 1556h68M1316 1560h88M1304 1564h104M1296 1568h116M1284 1572h132M1272 1576h60M1380 1576h44M1264 1580h56M1388 1580h36M1256 1584h52M1396 1584h32M1252 1588h48M1404 1588h28M1248 1592h44M1408 1592h28M1244 1596h40M1412 1596h24M1244 1600h36M1416 1600h24M1244 1604h32M1416 1604h24M1244 1608h32M1420 1608h20M1244 1612h32M1420 1612h24M1244 1616h32M1420 1616h24M1248 1620h32M1420 1620h24M1252 1624h36M1420 1624h24M1256 1628h40M1420 1628h24M1264 1632h44M1420 1632h24M1272 1636h44M1420 1636h20M1288 1640h40M1416 1640h24M1300 1644h36M1412 1644h28M1312 1648h32M1408 1648h28M1320 1652h36M1404 1652h28M1332 1656h32M1396 1656h36M1340 1660h88M1348 1664h76M1360 1668h56M1372 1672h36"/>
<path stroke="#f6f21e" d="M1332 1576h48M1320 1580h68M1308 1584h88M1300 1588h104M1292 1592h116M1284 1596h128M1280 1600h64M1380 1600h36M1276 1604h60M1388 1604h28M1276 1608h56M1392 1608h28M1276 1612h56M1396 1612h24M1276 1616h56M1396 1616h24M1280 1620h56M1400 1620h20M1288 1624h52M1396 1624h24M1296 1628h48M1396 1628h24M1308 1632h44M1392 1632h28M1316 1636h48M1388 1636h32M1328 1640h88M1336 1644h76M1344 1648h64M1356 1652h48M1364 1656h32"/>
<path stroke="#f7f41c" d="M1344 1600h36M1336 1604h52M1332 1608h60M1332 1612h64M1332 1616h64M1336 1620h64M1340 1624h56M1344 1628h52M1352 1632h40M1364 1636h24"/>
</g></g>
<circle transform="translate(1282.0 1618.3) scale(1.3418 1)" r="191.9" fill="none" stroke="#000" stroke-width="2.5"/>
<g fill="#1e1600" fill-opacity="0.78">
<use href="#m" x="1218.2" y="1472.0"/>
<use href="#m" x="1345.8" y="1472.0"/>
<use href="#m" x="1115.1" y="1527.9"/>
<use href="#m" x="1448.9" y="1527.9"/>
<use href="#m" x="1085.8" y="1570.8"/>
<use href="#m" x="1478.2" y="1570.8"/>
<use href="#m" x="1075.7" y="1618.3"/>
<use href="#m" x="1488.3" y="1618.3"/>
<use href="#m" x="1085.8" y="1665.8"/>
<use href="#m" x="1478.2" y="1665.8"/>
<use href="#m" x="1115.1" y="1708.7"/>
<use href="#m" x="1448.9" y="1708.7"/>
<use href="#m" x="1218.2" y="1764.6"/>
<use href="#m" x="1345.8" y="1764.6"/>
<use href="#m" x="1282.0" y="1772.1"/>
<use href="#m" x="1196.9" y="1540.4"/>
<use href="#m" x="1367.1" y="1540.4"/>
<use href="#m" x="1182.6" y="1579.3"/>
<use href="#m" x="1381.4" y="1579.3"/>
<use href="#m" x="1178.8" y="1618.3"/>
<use href="#m" x="1385.2" y="1618.3"/>
<use href="#m" x="1182.6" y="1657.3"/>
<use href="#m" x="1381.4" y="1657.3"/>
<use href="#m" x="1196.9" y="1696.2"/>
<use href="#m" x="1367.1" y="1696.2"/>
<use href="#m" x="1282.0" y="1540.7"/>
<use href="#m" x="1282.0" y="1579.6"/>
<use href="#m" x="1282.0" y="1618.3"/>
<use href="#m" x="1282.0" y="1657.0"/>
<use href="#m" x="1282.0" y="1695.9"/>
</g>
</g>
<g>
<text class="tt" transform="translate(565.4 2034.7) scale(1.177 1)" text-anchor="middle">Gamma</text>
<path transform="translate(563.8 2049.6) scale(1.22 1)" d="M-47.1 44.6L0 0L47.1 44.6" fill="none" stroke="#000" stroke-width="2.7" stroke-linejoin="round"/>
<g clip-path="url(#c6)"><g filter="url(#bl)" fill="none" stroke-width="4" shape-rendering="crispEdges">
<path stroke="#4433cd" d="M766 2241h12M770 2245h4"/>
<path stroke="#4434cf" d="M766 2237h12M778 2241h4M766 2245h4M774 2245h8"/>
<path stroke="#4535d2" d="M762 2237h4M762 2241h4M782 2245h4M770 2249h12"/>
<path stroke="#4536d5" d="M766 2233h8M778 2237h4M782 2241h4M762 2245h4M766 2249h4M782 2249h4"/>
<path stroke="#4538d7" d="M762 2233h4M774 2233h4M758 2237h4M782 2237h4M786 2245h4M786 2249h4M770 2253h16"/>
<path stroke="#4539d9" d="M778 2233h4M758 2241h4M786 2241h4M786 2253h4"/>
<path stroke="#463adb" d="M758 2245h4M790 2245h4M762 2249h4M790 2249h4M766 2253h4M790 2253h4M774 2257h20"/>
<path stroke="#463bdd" d="M766 2229h8M758 2233h4M782 2233h4M786 2237h4M790 2241h4M794 2249h4M794 2253h4M770 2257h4M794 2257h4M778 2261h16"/>
<path stroke="#463ddf" d="M774 2229h4M794 2245h4M798 2257h4M774 2261h4M794 2261h4M782 2265h16"/>
<path stroke="#463ee1" d="M762 2229h4M778 2229h4M786 2233h4M754 2237h4M790 2237h4M754 2241h4M758 2249h4M798 2249h4M762 2253h4M798 2253h4M766 2257h4M798 2261h4M778 2265h4M798 2265h4M786 2269h12"/>
<path stroke="#473fe3" d="M794 2241h4M798 2245h4M802 2253h4M802 2257h4M770 2261h4M802 2261h4M774 2265h4M802 2265h4M782 2269h4M798 2269h4"/>
<path stroke="#4741e5" d="M782 2229h4M754 2245h4M802 2249h4M806 2261h4M806 2265h4M778 2269h4M802 2269h4M786 2273h16"/>
<path stroke="#4742e6" d="M770 2225h4M758 2229h4M754 2233h4M790 2233h4M794 2237h4M798 2241h4M758 2253h4M806 2253h4M762 2257h4M806 2257h4M766 2261h4M770 2265h4M774 2269h4M806 2269h4M782 2273h4M802 2273h4"/>
<path stroke="#4744e8" d="M766 2225h4M774 2225h4M786 2229h4M802 2245h4M810 2257h4M810 2261h4M810 2265h4M810 2269h4M778 2273h4M806 2273h4M786 2277h20"/>
<path stroke="#4745e9" d="M762 2225h4M778 2225h4M754 2249h4M806 2249h4M810 2253h4M814 2265h4M810 2273h4M782 2277h4M806 2277h4"/>
<path stroke="#4746ea" d="M782 2225h4M794 2233h4M798 2237h4M802 2241h4M806 2245h4M814 2257h4M762 2261h4M814 2261h4M766 2265h4M770 2269h4M814 2269h4M774 2273h4M814 2273h4M810 2277h4M794 2281h8"/>
<path stroke="#4848ec" d="M754 2229h4M790 2229h4M750 2237h4M750 2241h4M810 2249h4M758 2257h4M818 2265h4M818 2269h4M778 2277h4M814 2277h4M786 2281h8M802 2281h8"/>
<path stroke="#4849ed" d="M758 2225h4M786 2225h4M750 2245h4M754 2253h4M814 2253h4M818 2261h4M766 2269h4M770 2273h4M818 2273h4M782 2281h4M810 2281h4"/>
<path stroke="#484bee" d="M770 2221h8M750 2233h4M798 2233h4M802 2237h4M806 2241h4M810 2245h4M814 2249h4M818 2257h4M762 2265h4M822 2265h4M822 2269h4M822 2273h4M774 2277h4M818 2277h4M814 2281h4M794 2285h12"/>
<path stroke="#484cef" d="M766 2221h4M778 2221h4M794 2229h4M818 2253h4M758 2261h4M822 2261h4M822 2277h4M778 2281h4M818 2281h4M790 2285h4M806 2285h8"/>
<path stroke="#484df1" d="M782 2221h4M790 2225h4M810 2241h4M750 2249h4M754 2257h4M822 2257h4M826 2265h4M826 2269h4M766 2273h4M826 2273h4M770 2277h4M786 2285h4M814 2285h4"/>
<path stroke="#484ff2" d="M762 2221h4M754 2225h4M802 2233h4M806 2237h4M814 2245h4M818 2249h4M822 2253h4M826 2261h4M762 2269h4M826 2277h4M774 2281h4M822 2281h4M782 2285h4M818 2285h4"/>
<path stroke="#4850f3" d="M786 2221h4M750 2229h4M798 2229h4M826 2257h4M758 2265h4M830 2269h4M826 2281h4M794 2289h20"/>
<path stroke="#4852f4" d="M794 2225h4M746 2237h4M746 2241h4M814 2241h4M818 2245h4M822 2249h4M750 2253h4M830 2261h4M830 2265h4M830 2273h4M830 2277h4M778 2285h4M822 2285h4M790 2289h4M814 2289h4"/>
<path stroke="#4853f5" d="M774 2217h4M758 2221h4M806 2233h4M810 2237h4M746 2245h4M826 2253h4M754 2261h4M762 2273h4M766 2277h4M770 2281h4M830 2281h4M826 2285h4M786 2289h4M818 2289h4"/>
<path stroke="#4854f6" d="M770 2217h4M778 2217h4M790 2221h4M802 2229h4M746 2233h4M830 2257h4M834 2265h4M834 2269h4M834 2273h4M834 2277h4M774 2285h4M782 2289h4M822 2289h4"/>
<path stroke="#4756f6" d="M766 2217h4M782 2217h4M798 2225h4M814 2237h4M818 2241h4M822 2245h4M826 2249h4M830 2253h4M750 2257h4M834 2261h4M758 2269h4M830 2285h4M798 2293h16"/>
<path stroke="#4757f7" d="M762 2217h4M794 2221h4M750 2225h4M810 2233h4M746 2249h4M834 2257h4M754 2265h4M766 2281h4M834 2281h4M778 2289h4M826 2289h4M790 2293h8M814 2293h8"/>
<path stroke="#4758f8" d="M786 2217h4M754 2221h4M806 2229h4M822 2241h4M826 2245h4M830 2249h4M762 2277h4M770 2285h4M834 2285h4M830 2289h4"/>
<path stroke="#475af9" d="M802 2225h4M746 2229h4M818 2237h4M834 2253h4M758 2273h4M786 2293h4M822 2293h4"/>
<path stroke="#475bf9" d="M758 2217h4M790 2217h4M798 2221h4M814 2233h4M746 2253h4M750 2261h4M774 2289h4M834 2289h4M782 2293h4M826 2293h4M802 2297h12"/>
<path stroke="#475dfa" d="M770 2213h12M810 2229h4M826 2241h4M830 2245h4M754 2269h4M830 2293h4M794 2297h8M814 2297h8"/>
<path stroke="#465efb" d="M766 2213h4M782 2213h4M794 2217h4M806 2225h4M742 2237h4M822 2237h4M742 2241h4M762 2281h4M766 2285h4M822 2297h4"/>
<path stroke="#465ffb" d="M786 2213h4M750 2221h4M802 2221h4M746 2225h4M742 2233h4M818 2233h4M830 2241h4M742 2245h4M746 2257h4M750 2265h4M758 2277h4M770 2289h4M778 2293h4M834 2293h4M790 2297h4M826 2297h4"/>
<path stroke="#4561fc" d="M762 2213h4M754 2217h4M814 2229h4M826 2237h4M786 2297h4"/>
<path stroke="#4562fc" d="M790 2213h4M798 2217h4M810 2225h4M822 2233h4M742 2249h4M754 2273h4M774 2293h4M830 2297h4M802 2301h20"/>
<path stroke="#4564fd" d="M806 2221h4M742 2229h4M818 2229h4M830 2237h4M762 2285h4M782 2297h4M834 2297h4M798 2301h4M822 2301h4"/>
<path stroke="#4465fd" d="M770 2209h16M758 2213h4M794 2213h4M802 2217h4M826 2233h4M742 2253h4M746 2261h4M750 2269h4M758 2281h4M766 2289h4M794 2301h4M826 2301h4"/>
<path stroke="#4366fd" d="M786 2209h4M814 2225h4M778 2297h4M790 2301h4M830 2301h4"/>
<path stroke="#4368fe" d="M766 2209h4M798 2213h4M750 2217h4M746 2221h4M810 2221h4M822 2229h4M754 2277h4M770 2293h4"/>
<path stroke="#4269fe" d="M790 2209h4M754 2213h4M806 2217h4M818 2225h4M746 2265h4M786 2301h4M834 2301h4M802 2305h20"/>
<path stroke="#416bfe" d="M762 2209h4M802 2213h4M742 2225h4M826 2229h4M738 2237h4M738 2241h4M742 2257h4M750 2273h4M774 2297h4M798 2305h4M822 2305h8"/>
<path stroke="#406cfe" d="M794 2209h4M814 2221h4M822 2225h4M738 2233h4M738 2245h4M758 2285h4M762 2289h4M782 2301h4M794 2305h4M830 2305h4"/>
<path stroke="#3f6efe" d="M774 2205h12M758 2209h4M798 2209h4M810 2217h4M754 2281h4M766 2293h4M834 2305h4"/>
<path stroke="#3e6fff" d="M770 2205h4M786 2205h4M806 2213h4M746 2217h4M818 2221h4M738 2249h4M742 2261h4M746 2269h4M790 2305h4"/>
<path stroke="#3d71ff" d="M766 2205h4M790 2205h4M750 2213h4M814 2217h4M742 2221h4M738 2229h4M750 2277h4M770 2297h4M778 2301h4M806 2309h20"/>
<path stroke="#3b72fe" d="M794 2205h4M802 2209h4M810 2213h4M822 2221h4M738 2253h4M786 2305h4M802 2309h4M826 2309h4"/>
<path stroke="#3a74fe" d="M762 2205h4M754 2209h4M818 2217h4M758 2289h4M762 2293h4M798 2309h4M830 2309h4"/>
<path stroke="#3875fe" d="M798 2205h4M806 2209h4M814 2213h4M742 2265h4M746 2273h4M754 2285h4M774 2301h4M782 2305h4M794 2309h4M834 2309h4"/>
<path stroke="#3777fe" d="M774 2201h16M822 2217h4M738 2225h4M738 2257h4M750 2281h4M766 2297h4"/>
<path stroke="#3579fd" d="M770 2201h4M790 2201h4M758 2205h4M802 2205h4M810 2209h4M746 2213h4M790 2309h4M810 2313h16"/>
<path stroke="#347afd" d="M766 2201h4M794 2201h4M750 2209h4M818 2213h4M742 2217h4M734 2237h4M734 2241h4M734 2245h4M770 2301h4M778 2305h4M806 2313h4M826 2313h8"/>
<path stroke="#327cfc" d="M798 2201h4M806 2205h4M814 2209h4M734 2233h4M738 2261h4M742 2269h4M746 2277h4M786 2309h4M802 2313h4M834 2313h4"/>
<path stroke="#317dfc" d="M762 2201h4M754 2205h4M810 2205h4M738 2221h4M734 2249h4M754 2289h4M758 2293h4M798 2313h4"/>
<path stroke="#307efb" d="M778 2197h12M802 2201h4M818 2209h4M734 2229h4M750 2285h4M762 2297h4M774 2305h4"/>
<path stroke="#3080fa" d="M774 2197h4M790 2197h4M806 2201h4M814 2205h4M734 2253h4M766 2301h4M782 2309h4M794 2313h4M814 2317h16"/>
<path stroke="#2f81fa" d="M770 2197h4M794 2197h4M758 2201h4M746 2209h4M742 2213h4M738 2265h4M742 2273h4M746 2281h4M790 2313h4M810 2317h4M830 2317h4"/>
<path stroke="#2e83f9" d="M766 2197h4M798 2197h4M810 2201h4M750 2205h4M806 2317h4"/>
<path stroke="#2e84f8" d="M802 2197h4M738 2217h4M734 2225h4M734 2257h4M770 2305h4M778 2309h4M802 2317h4"/>
<path stroke="#2e85f8" d="M778 2193h12M762 2197h4M806 2197h4M754 2201h4M814 2201h4M750 2289h4M754 2293h4M758 2297h4M786 2313h4M798 2317h4"/>
<path stroke="#2e87f7" d="M774 2193h4M790 2193h8M738 2269h4M742 2277h4M762 2301h4M822 2321h4"/>
<path stroke="#2d88f6" d="M770 2193h4M798 2193h4M758 2197h4M810 2197h4M734 2221h4M730 2237h4M730 2241h4M734 2261h4M746 2285h4M774 2309h4M782 2313h4M794 2317h4M814 2321h8M826 2321h8"/>
<path stroke="#2d89f5" d="M766 2193h4M802 2193h4M746 2205h4M742 2209h4M730 2233h4M730 2245h4M766 2305h4M810 2321h4"/>
<path stroke="#2d8bf4" d="M806 2193h4M750 2201h4M738 2213h4M730 2249h4M790 2317h4M806 2321h4"/>
<path stroke="#2d8cf3" d="M778 2189h16M762 2193h4M754 2197h4M730 2229h4M738 2273h4M742 2281h4M778 2313h4M802 2321h4"/>
<path stroke="#2d8df2" d="M774 2189h4M794 2189h8M730 2253h4M734 2265h4M750 2293h4M754 2297h4M758 2301h4M770 2309h4M786 2317h4M798 2321h4"/>
<path stroke="#2c8ff1" d="M770 2189h4M802 2189h4M734 2217h4M746 2289h4M818 2325h16"/>
<path stroke="#2c90f0" d="M766 2189h4M806 2189h4M758 2193h4M746 2201h4M742 2205h4M730 2225h4M762 2305h4M794 2321h4M814 2325h4"/>
<path stroke="#2b91ef" d="M786 2185h4M750 2197h4M738 2209h4M730 2257h4M734 2269h4M738 2277h4M774 2313h4M782 2317h4M810 2325h4"/>
<path stroke="#2a92ee" d="M778 2185h8M790 2185h12M762 2189h4M754 2193h4M742 2285h4M766 2309h4M790 2321h4M806 2325h4"/>
<path stroke="#2994ed" d="M774 2185h4M802 2185h4M734 2213h4M730 2221h4M802 2325h4"/>
<path stroke="#2895ec" d="M770 2185h4M758 2189h4M726 2241h4M730 2261h4M750 2297h4M754 2301h4M770 2313h4M778 2317h4M822 2329h12"/>
<path stroke="#2896eb" d="M766 2185h4M746 2197h4M742 2201h4M362 2225h8M362 2229h8M726 2233h4M726 2237h4M726 2245h4M734 2273h4M738 2281h4M746 2293h4M758 2305h4M786 2321h4M798 2325h4M818 2329h4"/>
<path stroke="#2797ea" d="M778 2181h24M762 2185h4M750 2193h4M738 2205h4M370 2225h4M370 2229h4M762 2309h4M810 2329h8"/>
<path stroke="#2698ea" d="M774 2181h4M754 2189h4M730 2217h4M362 2221h8M358 2225h4M358 2229h4M726 2229h4M362 2233h8M726 2249h4M730 2265h4M742 2289h4M774 2317h4M794 2325h4"/>
<path stroke="#269ae9" d="M770 2181h4M758 2185h4M734 2209h4M358 2221h4M370 2221h4M370 2233h4M766 2313h4M782 2321h4M806 2329h4"/>
<path stroke="#259be8" d="M786 2177h12M766 2181h4M746 2193h4M742 2197h4M362 2217h8M354 2225h4M374 2225h4M726 2225h4M354 2229h4M374 2229h4M358 2233h4M726 2253h4M734 2277h4M790 2325h4M802 2329h4M826 2333h4"/>
<path stroke="#259ce7" d="M778 2177h8M762 2181h4M750 2189h4M738 2201h4M358 2217h4M370 2217h4M354 2221h4M374 2221h4M738 2285h4M746 2297h4M750 2301h4M754 2305h4M818 2333h8"/>
<path stroke="#249de6" d="M770 2177h8M754 2185h4M730 2213h4M366 2237h4M726 2257h4M730 2269h4M758 2309h4M770 2317h4M778 2321h4M786 2325h4M798 2329h4M814 2333h4"/>
<path stroke="#249ee6" d="M758 2181h4M734 2205h4M362 2213h8M354 2217h4M374 2217h4M726 2221h4M350 2225h4M378 2225h4M354 2233h4M374 2233h4M362 2237h4M742 2293h4M810 2333h4"/>
<path stroke="#23a0e5" d="M778 2173h16M766 2177h4M750 2185h4M746 2189h4M742 2193h4M358 2213h4M370 2213h4M350 2221h4M378 2221h4M350 2229h4M378 2229h4M370 2237h4M762 2313h4M794 2329h4"/>
<path stroke="#23a1e5" d="M774 2173h4M762 2177h4M754 2181h4M738 2197h4M374 2213h4M350 2217h4M378 2217h4M358 2237h4M726 2261h4M730 2273h4M734 2281h4M774 2321h4M782 2325h4M806 2333h4"/>
<path stroke="#22a2e4" d="M770 2173h4M758 2177h4M362 2209h8M730 2209h4M354 2213h4M350 2233h4M722 2237h4M722 2241h4M738 2289h4M766 2317h4M790 2329h4M802 2333h4M822 2337h8"/>
<path stroke="#21a3e3" d="M778 2169h16M766 2173h4M750 2181h4M746 2185h4M734 2201h4M358 2209h4M370 2209h4M378 2213h4M726 2217h4M346 2221h4M346 2225h4M378 2233h4M722 2233h4M722 2245h4M746 2301h4M750 2305h4M818 2337h4"/>
<path stroke="#20a4e3" d="M774 2169h4M762 2173h4M754 2177h4M742 2189h4M374 2209h4M350 2213h4M346 2217h4M382 2221h4M382 2225h4M346 2229h4M354 2237h4M374 2237h4M722 2249h4M726 2265h4M754 2309h4M778 2325h4M798 2333h4M814 2337h4"/>
<path stroke="#1fa5e2" d="M782 2165h8M766 2169h8M758 2173h4M738 2193h4M354 2209h4M382 2217h4M382 2229h4M722 2229h4M730 2277h4M734 2285h4M742 2297h4M758 2313h4M770 2321h4M786 2329h4M810 2337h4"/>
<path stroke="#1fa6e1" d="M630 2121h8M626 2125h12M774 2165h8M762 2169h4M754 2173h4M750 2177h4M746 2181h4M362 2205h12M730 2205h4M378 2209h4M346 2213h4M726 2213h4M722 2225h4M346 2233h4M722 2253h4M794 2333h4"/>
<path stroke="#1ea7e1" d="M626 2117h20M622 2121h8M638 2121h12M622 2125h4M638 2125h8M626 2129h12M766 2165h8M758 2169h4M742 2185h4M734 2197h4M358 2205h4M374 2205h4M350 2209h4M382 2213h4M342 2221h4M342 2225h4M350 2237h4M362 2241h8M726 2269h4M738 2293h4M762 2317h4M806 2337h4M826 2341h4"/>
<path stroke="#1da9e0" d="M626 2113h20M618 2117h8M646 2117h12M618 2121h4M650 2121h8M618 2125h4M646 2125h8M618 2129h8M638 2129h8M770 2161h16M762 2165h4M754 2169h4M750 2173h4M746 2177h4M738 2189h4M354 2205h4M342 2217h4M386 2221h4M342 2229h4M382 2233h4M378 2237h4M722 2257h4M774 2325h4M782 2329h4M802 2337h4M818 2341h8"/>
<path stroke="#1caadf" d="M682 2109h28M618 2113h8M646 2113h72M614 2117h4M658 2117h68M614 2121h4M658 2121h12M698 2121h32M614 2125h4M654 2125h8M714 2125h8M646 2129h4M622 2133h20M778 2157h4M762 2161h8M758 2165h4M742 2181h4M730 2201h4M378 2205h4M346 2209h4M382 2209h4M726 2209h4M342 2213h4M386 2217h4M722 2221h4M386 2225h4M358 2241h4M370 2241h4M730 2281h4M746 2305h4M766 2321h4M790 2333h4"/>
<path stroke="#1babde" d="M670 2105h28M622 2109h60M614 2113h4M610 2117h4M610 2121h4M670 2121h28M730 2121h4M610 2125h4M662 2125h8M694 2125h20M722 2125h16M614 2129h4M650 2129h8M714 2129h16M618 2133h4M642 2133h4M762 2157h16M758 2161h4M754 2165h4M750 2169h4M746 2173h4M738 2185h4M734 2193h4M362 2201h12M350 2205h4M386 2213h4M386 2229h4M342 2233h4M734 2289h4M742 2301h4M750 2309h4M754 2313h4M798 2337h4M814 2341h4"/>
<path stroke="#1aacdd" d="M670 2101h20M626 2105h44M614 2109h8M610 2113h4M606 2117h4M606 2121h4M606 2125h4M670 2125h24M610 2129h4M658 2129h8M702 2129h12M730 2129h16M646 2133h4M722 2133h20M626 2137h4M762 2153h16M758 2157h4M754 2161h4M750 2165h4M742 2177h4M358 2201h4M374 2201h4M382 2205h4M338 2217h4M338 2221h4M338 2225h4M346 2237h4M354 2241h4M722 2261h4M726 2273h4M778 2329h4M786 2333h4M810 2341h4"/>
<path stroke="#19addc" d="M670 2097h8M654 2101h16M618 2105h8M610 2109h4M606 2113h4M602 2117h4M602 2121h4M666 2129h36M614 2133h4M650 2133h8M710 2133h12M742 2133h8M622 2137h4M630 2137h8M726 2137h32M746 2141h16M754 2145h12M754 2149h16M754 2153h8M750 2157h8M750 2161h4M746 2165h4M746 2169h4M742 2173h4M738 2181h4M734 2189h4M730 2197h4M354 2201h4M378 2201h4M346 2205h4M342 2209h4M386 2209h4M722 2217h4M338 2229h4M374 2241h4M738 2297h4M758 2317h4M770 2325h4M806 2341h4"/>
<path stroke="#18aedb" d="M658 2097h12M622 2101h32M610 2105h8M602 2109h8M602 2113h4M598 2117h4M598 2121h4M602 2125h4M606 2129h4M610 2133h4M658 2133h4M698 2133h12M618 2137h4M638 2137h8M718 2137h8M730 2141h16M742 2145h12M746 2149h8M746 2153h8M746 2157h4M746 2161h4M742 2169h4M350 2201h4M726 2205h4M338 2213h4M382 2237h4M718 2237h4M762 2321h4M794 2337h4M822 2345h4"/>
<path stroke="#16afda" d="M662 2093h4M646 2097h12M614 2101h8M606 2105h4M598 2109h4M598 2113h4M594 2117h4M598 2125h4M602 2129h4M662 2133h16M682 2133h16M646 2137h4M710 2137h8M722 2141h8M734 2145h8M738 2149h8M742 2153h4M742 2157h4M742 2161h4M742 2165h4M738 2177h4M734 2185h4M358 2197h20M382 2201h4M342 2205h4M386 2205h4M338 2209h4M722 2213h4M390 2217h4M390 2221h4M390 2225h4M386 2233h4M718 2233h4M350 2241h4M718 2241h4M718 2245h4M722 2265h4M726 2277h4M730 2285h4M734 2293h4M782 2333h4M802 2341h4M818 2345h4"/>
<path stroke="#14b0d8" d="M650 2093h12M618 2097h28M606 2101h8M598 2105h8M594 2109h4M594 2113h4M594 2121h4M606 2133h4M678 2133h4M614 2137h4M650 2137h4M702 2137h8M714 2141h8M726 2145h8M734 2149h4M738 2153h4M738 2157h4M738 2173h4M730 2193h4M378 2197h4M346 2201h4M390 2213h4M334 2217h4M334 2221h4M334 2225h4M718 2229h4M338 2233h4M342 2237h4M718 2249h4M774 2329h4M790 2337h4M814 2345h4"/>
<path stroke="#13b1d7" d="M626 2093h24M610 2097h8M602 2101h4M594 2105h4M590 2109h4M590 2113h4M590 2117h4M590 2121h4M594 2125h4M598 2129h4M654 2137h8M694 2137h8M626 2141h8M710 2141h4M722 2145h4M730 2149h4M734 2153h4M738 2161h4M738 2165h4M738 2169h4M734 2181h4M354 2197h4M726 2201h4M390 2209h4M334 2213h4M334 2229h4M390 2229h4M378 2241h4M742 2305h4M746 2309h4M750 2313h4M766 2325h4M798 2341h4M810 2345h4"/>
<path stroke="#11b1d6" d="M638 2089h16M614 2093h12M602 2097h8M598 2101h4M590 2105h4M586 2109h4M586 2113h4M586 2117h4M586 2121h4M590 2125h4M594 2129h4M602 2133h4M610 2137h4M662 2137h32M622 2141h4M634 2141h8M706 2141h4M718 2145h4M726 2149h4M730 2153h4M734 2157h4M734 2161h4M734 2177h4M730 2189h4M366 2193h4M350 2197h4M382 2197h4M342 2201h4M386 2201h4M338 2205h4M722 2209h4M718 2225h4M346 2241h4M718 2253h4M722 2269h4M738 2301h4M754 2317h4"/>
<path stroke="#0eb2d4" d="M618 2089h20M606 2093h8M598 2097h4M590 2101h8M586 2105h4M582 2109h4M582 2113h4M582 2117h4M582 2121h4M586 2125h4M598 2133h4M606 2137h4M618 2141h4M642 2141h4M698 2141h8M710 2145h8M722 2149h4M726 2153h4M730 2157h4M734 2165h4M734 2169h4M734 2173h4M358 2193h8M370 2193h8M346 2197h4M726 2197h4M390 2205h4M334 2209h4M362 2245h8M726 2281h4M730 2289h4M758 2321h4M770 2329h4M778 2333h4M786 2337h4M806 2345h4M822 2349h4"/>
<path stroke="#0cb3d3" d="M622 2085h12M610 2089h8M598 2093h8M594 2097h4M586 2101h4M582 2105h4M578 2109h4M578 2113h4M578 2117h4M590 2129h4M646 2141h8M694 2141h4M706 2145h4M718 2149h4M722 2153h4M730 2161h4M730 2185h4M354 2193h4M378 2193h4M386 2197h4M338 2201h4M334 2205h4M394 2213h4M330 2217h4M394 2217h4M330 2221h4M394 2221h4M718 2221h4M330 2225h4M334 2233h4M338 2237h4M386 2237h4M358 2245h4M718 2257h4M794 2341h4M818 2349h4"/>
<path stroke="#09b4d1" d="M614 2085h8M602 2089h8M594 2093h4M586 2097h8M582 2101h4M578 2105h4M574 2109h4M574 2113h4M506 2117h4M574 2117h4M498 2121h16M578 2121h4M498 2125h12M582 2125h4M586 2129h4M594 2133h4M602 2137h4M614 2141h4M654 2141h8M682 2141h12M702 2145h4M714 2149h4M726 2157h4M730 2165h4M730 2169h4M730 2173h4M730 2177h4M730 2181h4M350 2193h4M382 2193h4M726 2193h4M342 2197h4M390 2201h4M722 2205h4M394 2209h4M330 2213h4M390 2233h4M370 2245h4M722 2273h4M734 2297h4M762 2325h4M802 2345h4M814 2349h4"/>
<path stroke="#07b5d0" d="M606 2085h8M598 2089h4M590 2093h4M582 2097h4M578 2101h4M574 2105h4M566 2109h8M502 2113h20M566 2113h8M494 2117h12M510 2117h16M566 2117h8M490 2121h8M514 2121h12M570 2121h8M490 2125h8M510 2125h8M578 2125h4M494 2129h16M590 2133h4M610 2141h4M662 2141h20M698 2145h4M710 2149h4M718 2153h4M722 2157h4M726 2161h4M366 2189h8M330 2209h4M718 2217h4M394 2225h4M330 2229h4M342 2241h4M382 2241h4M354 2245h4M774 2333h4M782 2337h4M790 2341h4"/>
<path stroke="#06b6ce" d="M606 2081h4M598 2085h8M590 2089h8M586 2093h4M578 2097h4M570 2101h8M566 2105h8M498 2109h36M558 2109h8M490 2113h12M522 2113h20M554 2113h12M486 2117h8M526 2117h12M558 2117h8M486 2121h4M526 2121h8M566 2121h4M486 2125h4M518 2125h8M574 2125h4M490 2129h4M510 2129h8M582 2129h4M494 2133h12M598 2137h4M630 2145h4M694 2145h4M706 2149h4M714 2153h4M726 2165h4M358 2189h8M374 2189h8M726 2189h4M346 2193h4M386 2193h4M338 2197h4M390 2197h4M334 2201h4M722 2201h4M330 2205h4M394 2205h4M374 2245h4M718 2261h4M726 2285h4M742 2309h4M746 2313h4M750 2317h4M766 2329h4M798 2345h4M810 2349h4"/>
<path stroke="#04b6cd" d="M598 2081h8M590 2085h8M586 2089h4M578 2093h8M574 2097h4M566 2101h4M502 2105h44M550 2105h16M490 2109h8M534 2109h24M486 2113h4M542 2113h12M482 2117h4M538 2117h20M478 2121h8M534 2121h32M482 2125h4M526 2125h8M566 2125h8M486 2129h4M518 2129h4M578 2129h4M490 2133h4M506 2133h8M586 2133h4M594 2137h4M606 2141h4M622 2145h8M634 2145h12M690 2145h4M702 2149h4M718 2157h4M722 2161h4M726 2169h4M726 2173h4M726 2185h4M354 2189h4M382 2189h4M342 2193h4M394 2201h4M326 2213h4M718 2213h4M326 2217h4M326 2221h4M326 2225h4M394 2229h4M330 2233h4M334 2237h4M350 2245h4M730 2293h4M738 2305h4M754 2321h4"/>
<path stroke="#02b7cb" d="M594 2081h4M586 2085h4M582 2089h4M574 2093h4M566 2097h8M502 2101h64M490 2105h12M546 2105h4M482 2109h8M478 2113h8M474 2117h8M474 2121h4M478 2125h4M534 2125h8M558 2125h8M482 2129h4M522 2129h8M574 2129h4M486 2133h4M514 2133h4M582 2133h4M498 2137h4M602 2141h4M618 2145h4M646 2145h8M682 2145h8M710 2153h4M722 2165h4M726 2177h4M726 2181h4M350 2189h4M390 2193h4M334 2197h4M722 2197h4M330 2201h4M326 2209h4M338 2241h4M718 2265h4M722 2277h4M778 2337h4M786 2341h4M806 2349h4M818 2353h4"/>
<path stroke="#01b8ca" d="M586 2081h8M582 2085h4M574 2089h8M566 2093h8M502 2097h64M490 2101h12M482 2105h8M474 2109h8M470 2113h8M470 2117h4M470 2121h4M474 2125h4M542 2125h16M478 2129h4M530 2129h4M566 2129h8M482 2133h4M518 2133h4M578 2133h4M490 2137h8M502 2137h8M590 2137h4M614 2145h4M654 2145h28M698 2149h4M706 2153h4M714 2157h4M718 2161h4M362 2185h20M346 2189h4M386 2189h4M338 2193h4M394 2197h4M326 2205h4M398 2209h4M718 2209h4M398 2213h4M398 2217h4M398 2221h4M326 2229h4M714 2233h4M390 2237h4M714 2237h4M714 2241h4M714 2245h4M734 2301h4M758 2325h4M770 2333h4M794 2345h4"/>
<path stroke="#01b8c8" d="M578 2081h8M574 2085h8M570 2089h4M502 2093h64M490 2097h12M482 2101h8M474 2105h8M470 2109h4M466 2113h4M466 2117h4M466 2121h4M470 2125h4M474 2129h4M534 2129h12M558 2129h8M478 2133h4M522 2133h4M574 2133h4M486 2137h4M510 2137h4M586 2137h4M598 2141h4M694 2149h4M710 2157h4M722 2169h4M358 2185h4M382 2185h4M390 2189h4M334 2193h4M722 2193h4M330 2197h4M326 2201h4M398 2205h4M322 2209h4M322 2213h4M322 2217h4M714 2229h4M394 2233h4M330 2237h4M386 2241h4M346 2245h4M378 2245h4M802 2349h4M814 2353h4"/>
<path stroke="#01b9c6" d="M574 2081h4M566 2085h8M498 2089h72M490 2093h12M482 2097h8M470 2101h12M462 2105h12M462 2109h8M458 2113h8M458 2117h8M462 2121h4M466 2125h4M470 2129h4M546 2129h12M474 2133h4M526 2133h8M570 2133h4M482 2137h4M514 2137h4M610 2145h4M690 2149h4M702 2153h4M714 2161h4M718 2165h4M722 2173h4M722 2177h4M354 2185h4M386 2185h4M342 2189h4M722 2189h4M394 2193h4M398 2201h4M322 2205h4M718 2205h4M322 2221h4M322 2225h4M398 2225h4M714 2225h4M326 2233h4M714 2249h4M718 2269h4M726 2289h4M730 2297h4M762 2329h4M782 2341h4M790 2345h4M810 2353h4"/>
<path stroke="#02bac5" d="M518 2081h16M562 2081h12M494 2085h72M474 2089h24M462 2093h28M454 2097h28M454 2101h16M450 2105h12M450 2109h12M454 2113h4M454 2117h4M454 2121h8M458 2125h8M466 2129h4M470 2133h4M534 2133h4M566 2133h4M478 2137h4M518 2137h4M582 2137h4M494 2141h8M594 2141h4M606 2145h4M686 2149h4M698 2153h4M706 2157h4M718 2169h4M370 2181h8M722 2181h4M350 2185h4M722 2185h4M338 2189h4M330 2193h4M326 2197h4M398 2197h4M322 2201h4M714 2221h4M334 2241h4M342 2245h4M714 2253h4M722 2281h4M742 2313h4M746 2317h4M774 2337h4M798 2349h4"/>
<path stroke="#02bbc3" d="M534 2081h28M450 2097h4M438 2101h16M438 2105h12M442 2109h8M446 2113h8M446 2117h8M450 2121h4M454 2125h4M458 2129h8M466 2133h4M538 2133h28M474 2137h4M522 2137h4M578 2137h4M490 2141h4M502 2141h8M590 2141h4M678 2149h8M710 2161h4M714 2165h4M362 2181h8M378 2181h8M346 2185h4M390 2185h4M334 2189h4M394 2189h4M718 2201h4M318 2205h4M318 2209h4M318 2213h4M318 2217h4M322 2229h4M398 2229h4M738 2309h4M750 2321h4M766 2333h4M806 2353h4M818 2357h4"/>
<path stroke="#04bbc2" d="M426 2105h12M430 2109h12M434 2113h12M438 2117h8M442 2121h8M450 2125h4M454 2129h4M462 2133h4M470 2137h4M526 2137h8M574 2137h4M486 2141h4M510 2141h4M602 2145h4M626 2149h24M670 2149h8M694 2153h4M702 2157h4M718 2173h4M354 2181h8M386 2181h4M342 2185h4M330 2189h4M326 2193h4M398 2193h4M322 2197h4M318 2201h4M402 2209h4M402 2213h4M714 2217h4M318 2221h4M322 2233h4M326 2237h4M382 2245h4M362 2249h8M714 2257h4M718 2273h4M734 2305h4M754 2325h4M786 2345h4M794 2349h4M814 2357h4"/>
<path stroke="#07bcc0" d="M418 2109h12M426 2113h8M430 2117h8M438 2121h4M442 2125h8M450 2129h4M458 2133h4M466 2137h4M534 2137h4M570 2137h4M482 2141h4M514 2141h4M586 2141h4M618 2149h8M650 2149h20M690 2153h4M706 2161h4M714 2169h4M370 2177h12M718 2177h4M350 2181h4M390 2181h4M338 2185h4M394 2185h4M398 2189h4M322 2193h4M318 2197h4M718 2197h4M402 2205h4M314 2209h4M402 2217h4M318 2225h4M394 2237h4M330 2241h4M338 2245h4M358 2249h4M722 2285h4M726 2293h4M758 2329h4M778 2341h4M802 2353h4"/>
<path stroke="#09bcbe" d="M410 2113h16M422 2117h8M426 2121h12M434 2125h8M442 2129h8M450 2133h8M462 2137h4M538 2137h12M558 2137h12M474 2141h8M518 2141h4M582 2141h4M598 2145h4M614 2149h4M686 2153h4M698 2157h4M710 2165h4M362 2177h8M382 2177h8M346 2181h4M718 2181h4M334 2185h4M718 2185h4M326 2189h4M718 2189h4M318 2193h4M718 2193h4M402 2197h4M314 2201h4M402 2201h4M314 2205h4M314 2213h4M714 2213h4M314 2217h4M402 2221h4M318 2229h4M390 2241h4M354 2249h4M370 2249h4M714 2261h4M730 2301h4M770 2337h4M810 2357h4"/>
<path stroke="#0bbdbc" d="M410 2117h12M418 2121h8M426 2125h8M434 2129h8M446 2133h4M458 2137h4M550 2137h8M470 2141h4M522 2141h4M578 2141h4M494 2145h8M594 2145h4M682 2153h4M714 2173h4M358 2177h4M390 2177h4M342 2181h4M394 2181h4M326 2185h8M398 2185h4M322 2189h4M402 2193h4M314 2197h4M310 2201h4M310 2205h4M310 2209h4M314 2221h4M318 2233h4M398 2233h4M322 2237h4M350 2249h4M762 2333h4M782 2345h4M790 2349h4M798 2353h4"/>
<path stroke="#0ebebb" d="M402 2117h8M406 2121h12M414 2125h12M426 2129h8M438 2133h8M450 2137h8M466 2141h4M526 2141h8M574 2141h4M486 2145h8M502 2145h8M610 2149h4M678 2153h4M694 2157h4M702 2161h4M706 2165h4M710 2169h4M370 2173h20M354 2177h4M334 2181h8M322 2185h4M318 2189h4M714 2209h4M310 2213h4M314 2225h4M402 2225h4M326 2241h4M334 2245h4M374 2249h4M718 2277h4M738 2313h4M742 2317h4M746 2321h4M774 2341h4M806 2357h4"/>
<path stroke="#12beb9" d="M394 2121h12M402 2125h12M414 2129h12M426 2133h12M442 2137h8M458 2141h8M534 2141h4M570 2141h4M482 2145h4M510 2145h4M590 2145h4M606 2149h4M674 2153h4M690 2157h4M362 2173h8M390 2173h4M346 2177h8M394 2177h4M714 2177h4M326 2181h8M398 2181h4M402 2189h4M714 2205h4M306 2209h4M310 2217h4M314 2229h4M386 2245h4M346 2249h4M714 2265h4M722 2289h4M726 2297h4M750 2325h4M814 2361h4"/>
<path stroke="#15bfb7" d="M390 2125h12M398 2129h16M410 2133h16M426 2137h16M450 2141h8M538 2141h8M562 2141h8M474 2145h8M514 2145h4M586 2145h4M602 2149h4M670 2153h4M698 2161h4M370 2169h20M358 2173h4M394 2173h4M338 2177h8M398 2177h4M714 2181h4M402 2185h4M406 2201h4M714 2201h4M406 2205h4M406 2209h4M306 2213h4M306 2217h4M310 2221h4M310 2225h4M402 2229h4M710 2229h4M314 2233h4M710 2233h4M318 2237h4M710 2237h4M322 2241h4M710 2241h4M330 2245h4M734 2309h4M754 2329h4M766 2337h4M786 2349h4M794 2353h4M802 2357h4"/>
<path stroke="#18bfb6" d="M386 2129h12M398 2133h12M406 2137h20M438 2141h12M546 2141h16M470 2145h4M518 2145h8M582 2145h4M634 2153h12M654 2153h16M686 2157h4M382 2165h4M702 2165h4M366 2169h4M390 2169h8M706 2169h4M350 2173h8M398 2173h4M710 2173h4M330 2177h8M402 2181h4M714 2185h4M406 2193h4M406 2197h4M714 2197h4M406 2213h4M406 2217h4M306 2221h4M710 2225h4M310 2229h4M710 2245h4M342 2249h4M378 2249h4M714 2269h4M718 2281h4M730 2305h4M778 2345h4M810 2361h4"/>
<path stroke="#1bc0b4" d="M382 2129h4M382 2133h16M390 2137h16M402 2141h36M458 2145h12M526 2145h4M578 2145h4M598 2149h4M626 2153h8M646 2153h8M682 2157h4M694 2161h4M370 2165h12M386 2165h12M358 2169h8M398 2169h4M338 2173h12M402 2177h4M406 2189h4M714 2189h4M714 2193h4M302 2217h4M710 2221h4M306 2225h4M310 2233h4M314 2237h4M398 2237h4M394 2241h4M710 2249h4M758 2333h4M770 2341h4M790 2353h4M798 2357h4"/>
<path stroke="#1ec0b2" d="M378 2133h4M378 2137h12M386 2141h16M390 2145h68M530 2145h4M574 2145h4M394 2149h12M490 2149h16M594 2149h4M618 2153h8M382 2157h16M374 2161h28M362 2165h8M398 2165h4M354 2169h4M402 2169h4M330 2173h8M402 2173h4M710 2177h4M406 2181h4M406 2185h4M302 2221h4M406 2221h4M302 2225h4M306 2229h4M318 2241h4M326 2245h4M338 2249h4M710 2253h4M722 2293h4M782 2349h4M806 2361h4"/>
<path stroke="#21c1b0" d="M370 2137h8M370 2141h16M374 2145h16M534 2145h8M570 2145h4M378 2149h16M406 2149h16M478 2149h12M506 2149h4M374 2153h40M614 2153h4M370 2157h12M398 2157h8M678 2157h4M366 2161h8M402 2161h4M690 2161h4M358 2165h4M402 2165h4M698 2165h4M334 2169h20M702 2169h4M706 2173h4M406 2177h4M710 2217h4M298 2225h4M302 2229h4M306 2233h4M402 2233h4M310 2237h4M390 2245h4M382 2249h4M714 2273h4M726 2301h4M738 2317h4M742 2321h4M762 2337h4M774 2345h4M814 2365h4"/>
<path stroke="#24c1af" d="M366 2141h4M362 2145h12M542 2145h28M366 2149h12M422 2149h16M470 2149h8M510 2149h8M590 2149h4M366 2153h8M414 2153h8M610 2153h4M362 2157h8M406 2157h8M674 2157h4M358 2161h8M406 2161h4M338 2165h4M346 2165h12M406 2165h4M406 2169h4M406 2173h4M710 2181h4M410 2197h4M410 2201h4M710 2213h4M406 2225h4M298 2229h4M302 2233h4M306 2237h4M314 2241h4M322 2245h4M334 2249h4M710 2257h4M718 2285h4M734 2313h4M746 2325h4M786 2353h4M794 2357h4M802 2361h4M810 2365h4"/>
<path stroke="#26c2ad" d="M354 2149h12M438 2149h32M518 2149h4M586 2149h4M350 2153h16M422 2153h4M606 2153h4M350 2157h12M414 2157h4M670 2157h4M342 2161h16M410 2161h4M686 2161h4M342 2165h4M410 2165h4M694 2165h4M410 2169h4M410 2173h4M410 2177h4M410 2181h4M410 2185h4M710 2185h4M410 2189h4M410 2193h4M410 2205h4M410 2209h4M710 2209h4M298 2233h4M302 2237h4M310 2241h4M750 2329h4M766 2341h4M778 2349h4"/>
<path stroke="#28c2ab" d="M522 2149h4M582 2149h4M426 2153h8M346 2157h4M418 2157h8M666 2157h4M414 2161h4M414 2165h4M706 2177h4M710 2189h4M710 2205h4M410 2213h4M406 2229h4M294 2237h8M306 2241h4M318 2245h4M330 2249h4M358 2253h8M710 2261h4M714 2277h4M730 2309h4M754 2333h4M798 2361h4M806 2365h4"/>
<path stroke="#2ac3a9" d="M526 2149h4M578 2149h4M434 2153h8M602 2153h4M426 2157h4M658 2157h8M418 2161h4M682 2161h4M414 2169h4M698 2169h4M702 2173h4M710 2193h4M710 2197h4M710 2201h4M410 2217h4M302 2241h4M398 2241h4M314 2245h4M386 2249h4M354 2253h4M366 2253h4M718 2289h4M722 2297h4M758 2337h4M770 2345h4M790 2357h4"/>
<path stroke="#2bc3a7" d="M530 2149h8M570 2149h8M442 2153h12M486 2153h12M598 2153h4M430 2157h4M646 2157h12M422 2161h4M418 2165h4M690 2165h4M414 2173h4M414 2177h4M414 2181h4M706 2181h4M402 2237h4M294 2241h8M310 2245h4M394 2245h4M326 2249h4M350 2253h4M370 2253h4M710 2265h4M726 2305h4M782 2353h4M802 2365h4"/>
<path stroke="#2dc4a6" d="M538 2149h8M562 2149h8M454 2153h32M498 2153h12M594 2153h4M434 2157h4M630 2157h16M426 2161h4M678 2161h4M422 2165h4M418 2169h4M414 2185h4M414 2189h4M414 2193h4M414 2197h4M410 2221h4M294 2245h16M322 2249h4M346 2253h4M374 2253h4M738 2321h4M742 2325h4M762 2341h4M774 2349h4M794 2361h4M810 2369h4"/>
<path stroke="#2ec5a4" d="M546 2149h16M510 2153h4M590 2153h4M438 2157h4M622 2157h8M430 2161h4M674 2161h4M686 2165h4M694 2169h4M418 2173h4M698 2173h4M702 2177h4M706 2185h4M414 2201h4M414 2205h4M706 2229h4M406 2233h4M706 2233h4M706 2237h4M706 2241h4M318 2249h4M342 2253h4M714 2281h4M734 2317h4M746 2329h4M786 2357h4M806 2369h4"/>
<path stroke="#30c5a2" d="M514 2153h8M586 2153h4M442 2157h4M618 2157h4M426 2165h4M422 2169h4M418 2177h4M418 2181h4M414 2209h4M706 2221h4M410 2225h4M706 2225h4M706 2245h4M294 2249h8M310 2249h8M338 2253h4M710 2269h4M718 2293h4M722 2301h4M730 2313h4M750 2333h4M766 2345h4M778 2353h4M790 2361h4M798 2365h4"/>
<path stroke="#31c6a0" d="M522 2153h4M582 2153h4M446 2157h8M610 2157h8M434 2161h4M670 2161h4M682 2165h4M422 2173h4M418 2185h4M706 2189h4M414 2213h4M706 2217h4M302 2249h8M390 2249h4M706 2249h4M290 2253h4M334 2253h4M378 2253h4M754 2337h4M802 2369h4"/>
<path stroke="#33c69e" d="M526 2153h4M578 2153h4M454 2157h8M606 2157h4M438 2161h4M666 2161h4M430 2165h4M426 2169h4M690 2169h4M702 2181h4M418 2189h4M706 2193h4M706 2213h4M294 2253h4M330 2253h4M706 2253h4M290 2257h4M710 2273h4M714 2285h4M726 2309h4M770 2349h4M782 2357h4M794 2365h4"/>
<path stroke="#34c79c" d="M530 2153h8M574 2153h4M462 2157h12M602 2157h4M442 2161h4M662 2161h4M434 2165h4M694 2173h4M422 2177h4M698 2177h4M418 2193h4M418 2197h4M706 2197h4M706 2201h4M706 2205h4M706 2209h4M414 2217h4M410 2229h4M402 2241h4M398 2245h4M298 2253h8M326 2253h4M382 2253h4M758 2341h4M786 2361h4M806 2373h4"/>
<path stroke="#35c79a" d="M538 2153h8M566 2153h8M474 2157h28M598 2157h4M446 2161h4M658 2161h4M678 2165h4M430 2169h4M686 2169h4M426 2173h4M422 2181h4M702 2185h4M418 2201h4M406 2237h4M306 2253h20M294 2257h4M706 2257h4M290 2261h4M718 2297h4M722 2305h4M734 2321h4M738 2325h4M742 2329h4M774 2353h4M798 2369h4"/>
<path stroke="#37c898" d="M546 2153h20M502 2157h8M450 2161h4M650 2161h8M438 2165h4M426 2177h4M422 2185h4M418 2205h4M414 2221h4M298 2257h4M710 2277h4M714 2289h4M730 2317h4M746 2333h4M762 2345h4M778 2357h4M790 2365h4M802 2373h4"/>
<path stroke="#38c895" d="M510 2157h4M594 2157h4M454 2161h4M642 2161h8M442 2165h4M674 2165h4M434 2169h4M430 2173h4M690 2173h4M698 2181h4M422 2189h4M410 2233h4M394 2249h4M302 2257h4M294 2261h4M706 2261h4M290 2265h4M358 2333h8M354 2337h12M750 2337h4M766 2349h4M794 2369h4"/>
<path stroke="#3ac993" d="M514 2157h8M586 2157h8M458 2161h4M630 2161h12M670 2165h4M682 2169h4M694 2177h4M426 2181h4M702 2189h4M422 2193h4M418 2209h4M414 2225h4M386 2253h4M306 2257h4M298 2261h4M290 2269h4M726 2313h4M354 2333h4M366 2333h4M366 2337h4M354 2341h12M782 2361h4M806 2377h4"/>
<path stroke="#3cc991" d="M522 2157h4M582 2157h4M462 2161h8M622 2161h8M446 2165h4M438 2169h4M430 2177h4M702 2193h4M418 2213h4M310 2257h4M358 2257h4M294 2265h4M706 2265h4M290 2273h4M710 2281h4M714 2293h4M718 2301h4M350 2337h4M350 2341h4M366 2341h4M754 2341h4M770 2353h4M786 2365h4M798 2373h4"/>
<path stroke="#3eca8f" d="M526 2157h8M578 2157h4M470 2161h4M614 2161h8M450 2165h4M666 2165h4M434 2173h4M426 2185h4M422 2197h4M406 2241h4M402 2245h4M314 2257h8M346 2257h12M362 2257h8M302 2261h4M294 2269h4M722 2309h4M358 2329h12M350 2333h4M370 2333h4M346 2337h4M370 2337h4M346 2341h4M350 2345h12M758 2345h4M774 2357h4M790 2369h4M802 2377h4"/>
<path stroke="#41ca8c" d="M534 2157h8M570 2157h8M474 2161h12M610 2161h4M662 2165h4M442 2169h4M678 2169h4M686 2173h4M698 2185h4M702 2197h4M422 2201h4M418 2217h4M702 2221h4M702 2225h4M414 2229h4M702 2229h4M702 2233h4M702 2237h4M702 2241h4M322 2257h24M370 2257h4M306 2261h4M298 2265h4M706 2269h4M290 2277h4M730 2321h4M734 2325h4M354 2329h4M738 2329h4M346 2333h4M742 2333h4M342 2337h4M342 2341h4M370 2341h4M346 2345h4M362 2345h4M762 2349h4M778 2361h4M794 2373h4"/>
<path stroke="#44ca8a" d="M542 2157h28M486 2161h12M606 2161h4M454 2165h4M438 2173h4M434 2177h4M690 2177h4M430 2181h4M694 2181h4M426 2189h4M702 2201h4M422 2205h4M702 2205h4M702 2209h4M702 2213h4M702 2217h4M410 2237h4M702 2245h4M398 2249h4M390 2253h4M374 2257h4M294 2273h4M290 2281h4M710 2285h4M350 2329h4M370 2329h4M746 2337h4M342 2345h4M366 2345h4M350 2349h8M782 2365h4M798 2377h4"/>
<path stroke="#46cb88" d="M498 2161h8M602 2161h4M458 2165h4M658 2165h4M446 2169h4M674 2169h4M698 2189h4M426 2193h4M418 2221h4M702 2249h4M310 2261h4M302 2265h4M298 2269h4M706 2273h4M294 2277h4M290 2285h4M714 2297h4M718 2305h4M726 2317h4M342 2333h4M374 2333h4M338 2337h4M374 2337h4M338 2341h4M750 2341h4M338 2345h4M346 2349h4M358 2349h4M766 2353h4M786 2369h4"/>
<path stroke="#49cb85" d="M506 2161h8M594 2161h8M462 2165h4M654 2165h4M682 2173h4M430 2185h4M422 2209h4M702 2253h4M378 2257h4M314 2261h4M298 2273h4M294 2281h4M290 2289h4M722 2313h4M346 2329h4M338 2333h4M334 2337h4M334 2341h4M374 2341h4M334 2345h4M370 2345h4M338 2349h8M362 2349h4M770 2357h4M790 2373h4M802 2381h4"/>
<path stroke="#4ccb83" d="M514 2161h8M590 2161h4M466 2165h4M646 2165h8M450 2169h4M670 2169h4M442 2173h4M438 2177h4M434 2181h4M426 2197h4M418 2225h4M414 2233h4M306 2265h4M302 2269h4M294 2285h4M710 2289h4M290 2293h4M290 2297h4M358 2325h8M342 2329h4M330 2341h4M330 2345h4M754 2345h4M334 2349h4M366 2349h4M342 2353h16M774 2361h4M778 2365h4M794 2377h4"/>
<path stroke="#4fcc80" d="M522 2161h4M586 2161h4M470 2165h4M642 2165h4M686 2177h4M690 2181h4M694 2185h4M430 2189h4M698 2193h4M422 2213h4M406 2245h4M394 2253h4M382 2257h4M702 2257h4M318 2261h4M298 2277h4M706 2277h4M294 2289h4M290 2301h4M290 2305h4M290 2309h4M290 2313h4M290 2317h4M354 2325h4M366 2325h4M294 2329h4M374 2329h4M334 2333h4M330 2337h4M378 2337h4M326 2341h4M374 2345h4M330 2349h4M758 2349h4M338 2353h4M358 2353h4M782 2369h4M798 2381h4"/>
<path stroke="#52cc7e" d="M526 2161h8M578 2161h8M474 2165h4M630 2165h12M454 2169h4M666 2169h4M446 2173h4M678 2173h4M698 2197h4M426 2201h4M410 2241h4M402 2249h4M322 2261h4M702 2261h4M310 2265h4M302 2273h4M298 2281h4M294 2293h4M714 2301h4M718 2309h4M294 2317h4M294 2321h4M294 2325h4M350 2325h4M730 2325h4M338 2329h4M734 2329h4M298 2333h4M330 2333h4M378 2333h4M738 2333h4M298 2337h4M326 2337h4M742 2337h4M298 2341h4M322 2341h4M378 2341h4M322 2345h8M302 2349h4M326 2349h4M370 2349h4M330 2353h8M362 2353h4M762 2353h4M786 2373h4M790 2377h4"/>
<path stroke="#55cc7b" d="M534 2161h8M574 2161h4M478 2165h8M622 2165h8M458 2169h4M442 2177h4M434 2185h4M430 2193h4M422 2217h4M418 2229h4M326 2261h4M306 2269h4M706 2281h4M298 2285h4M710 2293h4M294 2297h4M294 2301h4M294 2305h4M294 2309h4M294 2313h4M726 2321h4M298 2325h4M346 2325h4M370 2325h4M298 2329h4M334 2329h4M302 2333h4M326 2333h4M302 2337h4M318 2337h8M302 2341h8M318 2341h4M746 2341h4M302 2345h8M318 2345h4M306 2349h4M318 2349h8M306 2353h8M322 2353h8M306 2357h4M330 2357h24M766 2357h4M794 2381h4"/>
<path stroke="#59cc79" d="M542 2161h32M486 2165h8M614 2165h8M662 2169h4M450 2173h4M438 2181h4M694 2189h4M698 2201h4M426 2205h4M414 2237h4M386 2257h4M330 2261h4M314 2265h4M702 2265h4M302 2277h4M298 2317h4M722 2317h4M298 2321h4M302 2325h4M342 2325h4M302 2329h8M330 2329h4M378 2329h4M306 2333h20M306 2337h12M310 2341h8M310 2345h8M378 2345h4M750 2345h4M310 2349h8M374 2349h4M314 2353h8M366 2353h4M310 2357h20M354 2357h8M310 2361h8M770 2361h4M310 2365h4M774 2365h4M778 2369h4M798 2385h4"/>
<path stroke="#5ccc76" d="M494 2165h8M610 2165h4M462 2169h4M674 2173h4M682 2177h4M430 2197h4M698 2205h4M426 2209h4M422 2221h4M398 2253h4M334 2261h4M310 2269h4M306 2273h4M302 2281h4M298 2289h4M298 2293h4M714 2305h4M298 2313h4M302 2321h4M306 2325h4M338 2325h4M374 2325h4M310 2329h20M382 2337h4M754 2349h4M318 2361h32M314 2365h8M782 2373h4M786 2377h4M790 2381h4"/>
<path stroke="#5fcd73" d="M502 2165h8M602 2165h8M466 2169h4M658 2169h4M446 2177h4M686 2181h4M690 2185h4M434 2189h4M698 2209h4M698 2213h4M698 2217h4M698 2221h4M698 2225h4M698 2229h4M698 2233h4M338 2261h8M318 2265h4M702 2269h4M706 2285h4M298 2297h4M710 2297h4M298 2301h4M298 2305h4M298 2309h4M718 2313h4M302 2317h4M306 2321h4M310 2325h4M334 2325h4M382 2333h4M382 2341h4M370 2353h4M758 2353h4M362 2357h4M350 2361h4M322 2365h12M314 2369h8M314 2373h4M794 2385h4"/>
<path stroke="#62cd71" d="M510 2165h8M598 2165h4M470 2169h4M654 2169h4M454 2173h4M442 2181h4M438 2185h4M694 2193h4M426 2213h4M422 2225h4M418 2233h4M698 2237h4M698 2241h4M390 2257h4M346 2261h12M306 2277h4M302 2285h4M302 2313h4M354 2321h12M314 2325h20M730 2329h4M734 2333h4M378 2349h4M366 2357h4M762 2357h4M354 2361h4M334 2365h8M322 2369h8M318 2373h4M798 2389h4"/>
<path stroke="#65cd6e" d="M518 2165h4M590 2165h8M650 2169h4M670 2173h4M678 2177h4M434 2193h4M430 2201h4M410 2245h4M698 2245h4M406 2249h4M358 2261h12M322 2265h4M314 2269h4M310 2273h4M702 2273h4M302 2289h4M302 2309h4M306 2317h4M310 2321h8M346 2321h8M366 2321h4M726 2325h4M382 2329h4M738 2337h4M742 2341h4M382 2345h4M374 2353h4M358 2361h4M766 2361h4M342 2365h8M770 2365h4M330 2369h4M774 2369h4M322 2373h4M778 2373h4M318 2377h4M782 2377h4M786 2381h4M790 2385h4M794 2389h4"/>
<path stroke="#69cd6b" d="M522 2165h8M586 2165h4M474 2169h8M646 2169h4M458 2173h4M450 2177h4M694 2197h4M414 2241h4M698 2249h4M370 2261h4M306 2281h4M706 2289h4M302 2293h4M302 2297h4M302 2301h4M710 2301h4M302 2305h4M714 2309h4M306 2313h4M310 2317h4M318 2321h4M338 2321h8M722 2321h4M378 2325h4M746 2345h4M370 2357h4M362 2361h4M350 2365h4M334 2369h8M326 2373h4M322 2377h4"/>
<path stroke="#6ccd68" d="M530 2165h8M578 2165h8M482 2169h4M642 2169h4M666 2173h4M446 2181h4M682 2181h4M438 2189h4M690 2189h4M430 2205h4M426 2217h4M422 2229h4M402 2253h4M698 2253h4M394 2257h4M374 2261h4M326 2265h4M306 2309h4M314 2317h4M322 2321h16M370 2321h4M386 2333h4M386 2337h4M386 2341h4M750 2349h4M354 2365h4M342 2369h4M330 2373h8M326 2377h4M322 2381h4M786 2385h4"/>
<path stroke="#70cd65" d="M538 2165h12M566 2165h12M486 2169h4M634 2169h8M462 2173h4M442 2185h4M686 2185h4M434 2197h4M694 2201h4M418 2237h4M698 2257h4M378 2261h4M318 2269h4M310 2277h4M702 2277h4M306 2285h4M306 2305h4M310 2313h4M718 2317h4M382 2349h4M378 2353h4M754 2353h4M366 2361h4M358 2365h4M346 2369h4M338 2373h4M774 2373h4M330 2377h4M778 2377h4M326 2381h4M782 2381h4M790 2389h4M794 2393h4"/>
<path stroke="#73cd63" d="M550 2165h16M490 2169h8M626 2169h8M466 2173h4M662 2173h4M454 2177h4M674 2177h4M430 2209h4M426 2221h4M382 2261h4M330 2265h4M314 2273h4M306 2289h4M306 2293h4M706 2293h4M306 2297h4M306 2301h4M318 2317h4M374 2321h4M382 2325h4M386 2345h4M374 2357h4M758 2357h4M762 2361h4M766 2365h4M350 2369h4M770 2369h4M342 2373h4M334 2377h4M326 2385h4"/>
<path stroke="#77cc60" d="M498 2169h8M614 2169h12M438 2193h4M690 2193h4M434 2201h4M694 2205h4M698 2261h4M310 2281h4M702 2281h4M710 2305h4M310 2309h4M314 2313h4M714 2313h4M322 2317h8M386 2329h4M726 2329h4M730 2333h4M734 2337h4M738 2341h4M370 2361h4M362 2365h4M354 2369h4M346 2373h4M338 2377h4M330 2381h4M782 2385h4M326 2389h4M786 2389h4M790 2393h4"/>
<path stroke="#7acc5d" d="M506 2169h4M606 2169h8M470 2173h4M658 2173h4M458 2177h4M450 2181h4M678 2181h4M694 2209h4M430 2213h4M422 2233h4M414 2245h4M410 2249h4M398 2257h4M386 2261h4M334 2265h4M698 2265h4M322 2269h4M706 2297h4M310 2305h4M318 2313h4M330 2317h8M354 2317h4M378 2321h4M722 2325h4M390 2337h4M390 2341h4M742 2345h4M386 2349h4M382 2353h4M378 2357h4M358 2369h4M350 2373h4M342 2377h4M774 2377h4M334 2381h4M778 2381h4M330 2385h4"/>
<path stroke="#7ecc5b" d="M510 2169h8M598 2169h8M474 2173h4M670 2177h4M446 2185h4M682 2185h4M442 2189h4M686 2189h4M694 2213h4M694 2217h4M426 2225h4M418 2241h4M406 2253h4M338 2265h4M318 2273h4M314 2277h4M310 2285h4M702 2285h4M310 2301h4M314 2309h4M338 2317h16M358 2317h8M718 2321h4M390 2333h4M746 2349h4M366 2365h4M770 2373h4M338 2381h4M334 2385h4M330 2389h4M782 2389h4M786 2393h4M790 2397h4"/>
<path stroke="#82cc58" d="M518 2169h8M590 2169h8M654 2173h4M438 2197h4M690 2197h4M434 2205h4M430 2217h4M694 2221h4M694 2225h4M694 2229h4M326 2269h4M698 2269h4M310 2289h4M310 2293h4M310 2297h4M710 2309h4M322 2313h4M366 2317h4M386 2325h4M390 2345h4M750 2353h4M754 2357h4M374 2361h4M758 2361h4M762 2365h4M362 2369h4M766 2369h4M354 2373h4M346 2377h4M342 2381h4M338 2385h4M778 2385h4M334 2389h4M330 2393h4"/>
<path stroke="#85cb55" d="M526 2169h8M582 2169h8M478 2173h4M650 2173h4M462 2177h4M454 2181h4M694 2233h4M694 2237h4M390 2261h4M342 2265h4M314 2281h4M702 2289h4M706 2301h4M314 2305h4M318 2309h4M326 2313h4M370 2317h4M714 2317h4M390 2329h4M386 2353h4M382 2357h4M370 2365h4M358 2373h4M350 2377h4M774 2381h4M334 2393h4M782 2393h4M786 2397h4"/>
<path stroke="#89cb52" d="M534 2169h12M574 2169h8M482 2173h4M666 2177h4M674 2181h4M450 2185h4M442 2193h4M434 2209h4M426 2229h4M422 2237h4M694 2241h4M694 2245h4M402 2257h4M346 2265h4M698 2273h4M314 2301h4M330 2313h4M382 2321h4M722 2329h4M726 2333h4M394 2337h4M730 2337h4M734 2341h4M390 2349h4M378 2361h4M366 2369h4M354 2377h4M770 2377h4M346 2381h4M342 2385h4M338 2389h4M778 2389h4M334 2397h4"/>
<path stroke="#8dcb50" d="M546 2169h28M486 2173h8M646 2173h4M466 2177h4M446 2189h4M686 2193h4M438 2201h4M690 2201h4M430 2221h4M694 2249h4M394 2261h4M350 2265h4M330 2269h4M322 2273h4M318 2277h4M314 2285h4M322 2309h4M334 2313h4M374 2317h4M718 2325h4M394 2333h4M394 2341h4M738 2345h4M374 2365h4M362 2373h4M766 2373h4M350 2381h4M346 2385h4M774 2385h4M342 2389h4M338 2393h4M338 2397h4M782 2397h4M786 2401h4"/>
<path stroke="#90ca4d" d="M494 2173h4M638 2173h8M662 2177h4M458 2181h4M678 2185h4M682 2189h4M418 2245h4M414 2249h4M410 2253h4M694 2253h4M354 2265h8M698 2277h4M314 2289h4M314 2293h4M702 2293h4M314 2297h4M318 2305h4M706 2305h4M338 2313h4M710 2313h4M390 2325h4M394 2345h4M742 2349h4M746 2353h4M758 2365h4M370 2369h4M762 2369h4M358 2377h4M770 2381h4M342 2393h4M778 2393h4M338 2401h4"/>
<path stroke="#94ca4a" d="M498 2173h8M630 2173h8M470 2177h4M690 2205h4M434 2213h4M426 2233h4M694 2257h4M362 2265h12M318 2281h4M326 2309h4M342 2313h8M378 2317h4M386 2321h4M714 2321h4M394 2329h4M390 2353h4M386 2357h4M750 2357h4M382 2361h4M754 2361h4M366 2373h4M354 2381h4M350 2385h4M346 2389h4M774 2389h4M342 2397h4M778 2397h4M782 2401h4"/>
<path stroke="#97ca47" d="M506 2173h8M618 2173h12M474 2177h4M462 2181h4M670 2181h4M454 2185h4M442 2197h4M438 2205h4M690 2209h4M430 2225h4M422 2241h4M406 2257h4M374 2265h8M334 2269h4M326 2273h4M698 2281h4M702 2297h4M318 2301h4M322 2305h4M350 2313h8M394 2349h4M378 2365h4M362 2377h4M766 2377h4M358 2381h4M354 2385h4M770 2385h4M350 2389h4M346 2393h4M774 2393h4M342 2401h4M342 2405h4"/>
<path stroke="#9bc945" d="M514 2173h8M602 2173h16M658 2177h4M450 2189h4M446 2193h4M686 2197h4M690 2213h4M434 2217h4M398 2261h4M694 2261h4M382 2265h4M322 2277h4M318 2285h4M318 2297h4M330 2309h4M706 2309h4M358 2313h8M710 2317h4M722 2333h4M398 2337h4M726 2337h4M398 2341h4M730 2341h4M374 2369h4M370 2373h4M762 2373h4M350 2393h4M346 2397h4M346 2401h4M778 2401h4M346 2405h4M782 2405h4M346 2409h4"/>
<path stroke="#9ec942" d="M522 2173h8M594 2173h8M478 2177h4M690 2217h4M694 2265h4M698 2285h4M318 2289h4M318 2293h4M366 2313h4M382 2317h4M390 2321h4M394 2325h4M718 2329h4M398 2333h4M398 2345h4M734 2345h4M738 2349h4M394 2353h4M390 2357h4M386 2361h4M758 2369h4M366 2377h4M362 2381h4M766 2381h4M358 2385h4M354 2389h4M770 2389h4M350 2397h4M774 2397h4M350 2413h4"/>
<path stroke="#a2c840" d="M530 2173h8M582 2173h12M482 2177h4M654 2177h4M466 2181h4M666 2181h4M458 2185h4M674 2185h4M682 2193h4M442 2201h4M438 2209h4M690 2221h4M430 2229h4M426 2237h4M418 2249h4M386 2265h4M338 2269h4M322 2301h4M702 2301h4M326 2305h4M334 2309h4M370 2313h4M714 2325h4M742 2353h4M746 2357h4M750 2361h4M382 2365h4M754 2365h4M378 2369h4M358 2389h4M354 2393h4M770 2393h4M350 2401h4M774 2401h4M350 2405h4M778 2405h4M350 2409h4M354 2417h4"/>
<path stroke="#a5c83d" d="M538 2173h12M570 2173h12M486 2177h4M650 2177h4M678 2189h4M686 2201h4M434 2221h4M690 2225h4M690 2229h4M414 2253h4M402 2261h4M390 2265h4M694 2269h4M330 2273h4M322 2281h4M698 2289h4M338 2309h4M706 2313h4M386 2317h4M398 2329h4M398 2349h4M374 2373h4M370 2377h4M762 2377h4M366 2381h4M362 2385h4M766 2385h4M354 2397h4M770 2397h4M354 2401h4M354 2405h4M354 2409h4M354 2413h4M358 2421h4"/>
<path stroke="#a8c73b" d="M550 2173h20M490 2177h4M470 2181h4M454 2189h4M450 2193h4M446 2197h4M438 2213h4M690 2233h4M690 2237h4M422 2245h4M410 2257h4M342 2269h4M694 2273h4M326 2277h4M322 2297h4M330 2305h4M702 2305h4M342 2309h4M374 2313h4M710 2321h4M402 2337h4M402 2341h4M394 2357h4M390 2361h4M758 2373h4M362 2389h4M766 2389h4M358 2393h4M358 2397h4M774 2405h4M358 2409h4M778 2409h4M358 2413h4M358 2417h4M362 2421h4M366 2425h4"/>
<path stroke="#acc739" d="M494 2177h8M646 2177h4M662 2181h4M462 2185h4M442 2205h4M686 2205h4M430 2233h4M690 2241h4M394 2265h4M322 2285h4M322 2293h4M698 2293h4M326 2301h4M378 2313h4M394 2321h4M398 2325h4M402 2333h4M718 2333h4M722 2337h4M726 2341h4M402 2345h4M730 2345h4M398 2353h4M386 2365h4M382 2369h4M754 2369h4M378 2373h4M374 2377h4M370 2381h4M762 2381h4M366 2385h4M362 2393h4M766 2393h4M358 2401h4M770 2401h4M358 2405h4M774 2409h4M362 2413h4M362 2417h4M366 2421h4M370 2425h4M370 2429h4M374 2433h8M382 2437h4M386 2441h4"/>
<path stroke="#afc637" d="M502 2177h8M642 2177h4M474 2181h4M670 2185h4M682 2197h4M434 2225h4M426 2241h4M690 2245h4M690 2249h4M406 2261h4M346 2269h4M334 2273h4M694 2277h4M322 2289h4M346 2309h4M390 2317h4M714 2329h4M734 2349h4M738 2353h4M750 2365h4M370 2385h4M762 2385h4M366 2389h4M362 2397h4M766 2397h4M362 2401h4M362 2405h4M770 2405h4M362 2409h4M366 2417h4M370 2421h4M374 2425h4M374 2429h8M382 2433h4M386 2437h4M390 2441h4M394 2445h4"/>
<path stroke="#b2c535" d="M510 2177h8M634 2177h8M446 2201h4M686 2209h4M438 2217h4M690 2253h4M326 2281h4M698 2297h4M334 2305h4M350 2309h8M702 2309h4M382 2313h4M706 2317h4M402 2329h4M402 2349h4M742 2357h4M394 2361h4M746 2361h4M390 2365h4M378 2377h4M758 2377h4M374 2381h4M366 2393h4M366 2397h4M366 2401h4M766 2401h4M366 2405h4M366 2409h4M770 2409h4M366 2413h4M774 2413h4M370 2417h4M374 2421h4M378 2425h4M382 2429h4M386 2433h4M390 2437h4M394 2441h8M398 2445h8M402 2449h8"/>
<path stroke="#b6c533" d="M518 2177h8M618 2177h16M478 2181h4M658 2181h4M466 2185h4M458 2189h4M674 2189h4M678 2193h4M442 2209h4M430 2237h4M422 2249h4M418 2253h4M690 2257h4M398 2265h4M350 2269h4M330 2277h4M694 2281h4M326 2297h4M330 2301h4M358 2309h4M710 2325h4M398 2357h4M386 2369h4M382 2373h4M754 2373h4M374 2385h4M370 2389h4M762 2389h4M370 2393h4M762 2393h4M766 2405h4M370 2409h4M370 2413h4M374 2417h4M378 2421h4M382 2425h4M386 2429h4M390 2433h4M394 2437h8M402 2441h4M406 2445h4M410 2449h4M410 2453h8"/>
<path stroke="#b9c431" d="M526 2177h8M594 2177h24M482 2181h4M454 2193h4M450 2197h4M686 2213h4M434 2229h4M414 2257h4M690 2261h4M354 2269h4M698 2301h4M338 2305h4M362 2309h8M386 2313h4M394 2317h4M398 2321h4M402 2325h4M406 2333h4M406 2337h4M406 2341h4M406 2345h4M402 2353h4M378 2381h4M758 2381h4M374 2389h4M370 2397h4M762 2397h4M370 2401h4M370 2405h4M766 2409h4M374 2413h4M770 2413h4M378 2417h4M382 2421h4M386 2425h4M390 2429h4M394 2433h8M402 2437h4M406 2441h8M410 2445h4M414 2449h4M418 2453h4M418 2457h4"/>
<path stroke="#bcc42f" d="M534 2177h12M582 2177h12M486 2181h4M654 2181h4M666 2185h4M682 2201h4M686 2217h4M438 2221h4M426 2245h4M410 2261h4M402 2265h4M358 2269h28M338 2273h4M326 2285h4M694 2285h4M326 2289h4M326 2293h4M370 2309h4M702 2313h4M706 2321h4M718 2337h4M722 2341h4M726 2345h4M406 2349h4M730 2349h4M398 2361h4M394 2365h4M750 2369h4M386 2373h4M382 2377h4M378 2385h4M758 2385h4M374 2393h4M374 2397h4M374 2401h4M762 2401h4M374 2405h4M374 2409h4M378 2413h4M766 2413h4M382 2417h4M770 2417h4M386 2421h4M390 2425h4M394 2429h8M402 2433h4M630 2433h8M406 2437h8M630 2437h12M414 2441h4M630 2441h12M414 2445h8M418 2449h4M422 2453h4M422 2457h8M426 2461h4"/>
<path stroke="#bfc32d" d="M546 2177h36M490 2181h4M470 2185h4M462 2189h4M446 2205h4M442 2213h4M686 2221h4M690 2265h4M386 2269h4M694 2289h4M334 2301h4M342 2305h4M698 2305h4M374 2309h4M406 2329h4M714 2333h4M734 2353h4M402 2357h4M738 2357h4M742 2361h4M746 2365h4M390 2369h4M754 2377h4M382 2381h4M378 2389h4M758 2389h4M378 2405h4M762 2405h4M378 2409h4M382 2413h4M386 2417h4M766 2417h4M390 2421h4M394 2425h8M402 2429h8M630 2429h8M406 2433h8M626 2433h4M638 2433h8M414 2437h4M622 2437h8M642 2437h8M418 2441h4M626 2441h4M642 2441h8M422 2445h4M626 2445h24M422 2449h8M634 2449h8M426 2453h4M430 2457h4M430 2461h4M434 2465h4"/>
<path stroke="#c2c22c" d="M494 2181h4M650 2181h4M670 2189h4M678 2197h4M438 2225h4M686 2225h4M434 2233h4M430 2241h4M390 2269h4M690 2269h4M334 2277h4M330 2281h4M330 2297h4M378 2309h4M390 2313h4M402 2321h4M710 2329h4M406 2353h4M386 2377h4M754 2381h4M382 2385h4M378 2393h4M758 2393h4M378 2397h4M758 2397h4M378 2401h4M382 2405h4M382 2409h4M762 2409h4M386 2413h4M762 2413h4M390 2417h4M394 2421h8M766 2421h4M402 2425h8M410 2429h4M622 2429h8M638 2429h4M414 2433h8M622 2433h4M646 2433h4M418 2437h8M650 2437h4M422 2441h8M622 2441h4M650 2441h4M426 2445h4M622 2445h4M650 2445h4M430 2449h4M626 2449h8M642 2449h12M430 2453h4M634 2453h16M434 2457h4M434 2461h4M438 2465h4"/>
<path stroke="#c5c22a" d="M498 2181h8M474 2185h4M662 2185h4M458 2193h4M674 2193h4M450 2201h4M682 2205h4M442 2217h4M686 2229h4M686 2233h4M422 2253h4M418 2257h4M406 2265h4M394 2269h4M342 2273h4M694 2293h4M346 2305h4M698 2309h4M398 2317h4M702 2317h4M406 2325h4M706 2325h4M410 2337h4M410 2341h4M410 2345h4M402 2361h4M398 2365h4M394 2369h4M390 2373h4M750 2373h4M382 2389h4M382 2393h4M382 2397h4M382 2401h4M758 2401h4M386 2405h4M758 2405h4M386 2409h4M390 2413h4M394 2417h8M762 2417h4M402 2421h8M410 2425h4M626 2425h12M414 2429h8M642 2429h8M422 2433h4M618 2433h4M650 2433h4M426 2437h4M618 2437h4M654 2437h4M430 2441h4M618 2441h4M654 2441h8M430 2445h8M618 2445h4M654 2445h8M434 2449h4M622 2449h4M654 2449h8M434 2453h8M626 2453h8M650 2453h8M438 2457h4M634 2457h16M438 2461h4M442 2465h4"/>
<path stroke="#c8c129" d="M506 2181h8M646 2181h4M466 2189h4M454 2197h4M446 2209h4M686 2237h4M426 2249h4M414 2261h4M690 2273h4M330 2285h4M330 2293h4M338 2301h4M350 2305h4M382 2309h4M394 2313h4M410 2333h4M718 2341h4M722 2345h4M410 2349h4M406 2357h4M746 2369h4M386 2381h4M386 2385h4M754 2385h4M754 2389h4M386 2401h4M390 2409h4M758 2409h4M394 2413h8M758 2413h4M402 2417h4M410 2421h4M762 2421h4M414 2425h8M622 2425h4M638 2425h8M422 2429h8M618 2429h4M650 2429h4M426 2433h8M654 2433h4M430 2437h8M614 2437h4M658 2437h4M434 2441h4M614 2441h4M662 2441h4M438 2445h4M662 2445h4M438 2449h4M618 2449h4M662 2449h4M442 2453h4M622 2453h4M658 2453h8M442 2457h4M626 2457h8M650 2457h12M442 2461h8M634 2461h16M446 2465h4M446 2469h4"/>
<path stroke="#cbc029" d="M514 2181h8M642 2181h4M478 2185h4M682 2209h4M438 2229h4M434 2237h4M686 2241h4M686 2245h4M398 2269h4M690 2277h4M330 2289h4M334 2297h4M694 2297h4M354 2305h4M386 2309h4M702 2321h4M410 2329h4M710 2333h4M714 2337h4M726 2349h4M410 2353h4M730 2353h4M734 2357h4M742 2365h4M390 2377h4M750 2377h4M386 2389h4M386 2393h4M754 2393h4M386 2397h4M754 2397h4M390 2401h4M390 2405h8M394 2409h8M402 2413h4M406 2417h8M758 2417h4M414 2421h8M758 2421h4M422 2425h8M618 2425h4M646 2425h4M430 2429h4M614 2429h4M654 2429h4M434 2433h4M614 2433h4M658 2433h4M438 2437h4M662 2437h4M438 2441h8M666 2441h4M442 2445h4M614 2445h4M666 2445h8M442 2449h8M614 2449h4M666 2449h8M446 2453h4M618 2453h4M666 2453h4M446 2457h4M618 2457h8M662 2457h8M450 2461h4M626 2461h8M650 2461h12M450 2465h4M634 2465h16M450 2469h4"/>
<path stroke="#cec028" d="M522 2181h8M638 2181h4M482 2185h4M658 2185h4M678 2201h4M450 2205h4M442 2221h4M430 2245h4M686 2249h4M410 2265h4M346 2273h4M338 2277h4M694 2301h4M358 2305h4M698 2313h4M402 2317h4M406 2321h4M406 2361h4M738 2361h4M402 2365h4M398 2369h4M394 2373h4M390 2381h4M750 2381h4M390 2385h4M390 2389h4M390 2393h4M390 2397h4M394 2401h4M754 2401h4M398 2405h4M754 2405h4M402 2409h4M754 2409h4M406 2413h8M754 2413h4M414 2417h8M754 2417h4M422 2421h8M622 2421h20M430 2425h8M650 2425h4M758 2425h4M434 2429h8M658 2429h4M438 2433h8M610 2433h4M662 2433h4M442 2437h4M610 2437h4M666 2437h4M446 2441h4M610 2441h4M670 2441h4M446 2445h4M610 2445h4M674 2445h4M450 2449h4M674 2449h4M450 2453h4M614 2453h4M670 2453h8M450 2457h4M614 2457h4M670 2457h4M454 2461h4M618 2461h8M662 2461h8M454 2465h4M622 2465h12M650 2465h16M454 2469h4M634 2469h16M458 2473h4"/>
<path stroke="#d1bf27" d="M530 2181h12M594 2181h44M470 2189h4M666 2189h4M462 2193h4M446 2213h4M682 2213h4M686 2253h4M402 2269h4M334 2281h4M690 2281h4M342 2301h4M362 2305h8M390 2309h4M398 2313h4M410 2325h4M706 2329h4M414 2337h4M414 2341h4M414 2345h4M410 2357h4M746 2373h4M394 2377h4M750 2385h4M394 2397h4M398 2401h4M402 2405h4M406 2409h8M414 2413h8M422 2417h8M430 2421h8M642 2421h8M754 2421h4M438 2425h4M614 2425h4M654 2425h4M754 2425h4M442 2429h4M610 2429h4M662 2429h4M446 2433h4M666 2433h4M446 2437h8M670 2437h8M450 2441h4M674 2441h8M450 2445h8M678 2445h4M454 2449h4M610 2449h4M678 2449h4M454 2453h4M610 2453h4M678 2453h4M454 2457h8M610 2457h4M674 2457h8M458 2461h4M614 2461h4M670 2461h8M458 2465h4M618 2465h4M666 2465h8M458 2469h4M622 2469h12M650 2469h16M462 2473h4M634 2473h16"/>
<path stroke="#d4bf28" d="M542 2181h12M578 2181h16M486 2185h4M670 2193h4M458 2197h4M674 2197h4M454 2201h4M682 2217h4M438 2233h4M434 2241h4M422 2257h4M686 2257h4M350 2273h4M690 2285h4M334 2293h4M370 2305h4M694 2305h4M698 2317h4M702 2325h4M414 2333h4M414 2349h4M406 2365h4M402 2369h4M398 2373h4M394 2381h4M394 2385h4M394 2389h4M750 2389h4M394 2393h4M750 2393h4M398 2397h4M750 2397h4M402 2401h4M750 2401h4M406 2405h4M750 2405h4M414 2409h8M750 2409h4M422 2413h8M750 2413h4M430 2417h8M630 2417h8M750 2417h4M438 2421h4M618 2421h4M650 2421h4M750 2421h4M442 2425h8M658 2425h4M750 2425h4M446 2429h4M666 2429h4M754 2429h4M450 2433h4M606 2433h4M670 2433h8M454 2437h4M606 2437h4M678 2437h4M454 2441h4M606 2441h4M682 2441h4M458 2445h4M606 2445h4M682 2445h8M458 2449h4M606 2449h4M682 2449h8M458 2453h4M606 2453h4M682 2453h8M462 2457h4M682 2457h8M462 2461h4M610 2461h4M678 2461h8M462 2465h4M614 2465h4M674 2465h8M462 2469h8M614 2469h8M666 2469h8M466 2473h4M622 2473h12M650 2473h16M638 2477h8"/>
<path stroke="#d6be28" d="M554 2181h24M490 2185h4M654 2185h4M442 2225h4M426 2253h4M418 2261h4M686 2261h4M406 2269h4M378 2273h16M334 2285h4M334 2289h4M690 2289h4M338 2297h4M346 2301h4M374 2305h8M394 2309h4M406 2317h4M414 2329h4M710 2337h4M714 2341h4M718 2345h4M722 2349h4M414 2353h4M726 2353h4M410 2361h4M742 2369h4M398 2377h4M746 2377h4M398 2389h4M398 2393h4M402 2397h4M406 2401h4M410 2405h8M422 2409h8M430 2413h8M438 2417h8M622 2417h8M638 2417h8M442 2421h8M614 2421h4M654 2421h4M450 2425h4M610 2425h4M662 2425h4M746 2425h4M450 2429h8M606 2429h4M670 2429h4M750 2429h4M454 2433h4M678 2433h4M750 2433h4M458 2437h4M682 2437h4M458 2441h4M686 2441h4M462 2445h4M690 2445h4M462 2449h4M690 2449h8M462 2453h8M690 2453h8M466 2457h4M606 2457h4M690 2457h8M466 2461h4M606 2461h4M686 2461h8M466 2465h4M610 2465h4M682 2465h8M470 2469h4M610 2469h4M674 2469h8M470 2473h4M614 2473h8M666 2473h4M470 2477h4M618 2477h20M646 2477h8"/>
<path stroke="#d9bd28" d="M494 2185h8M474 2189h4M678 2205h4M450 2209h4M446 2217h4M682 2221h4M430 2249h4M414 2265h4M686 2265h4M354 2273h4M370 2273h8M394 2273h4M342 2277h4M690 2293h4M382 2305h4M694 2309h4M402 2313h4M410 2321h4M706 2333h4M418 2341h4M414 2357h4M730 2357h4M734 2361h4M410 2365h4M738 2365h4M406 2369h4M402 2373h4M398 2381h4M746 2381h4M398 2385h4M402 2393h4M406 2397h4M410 2401h8M418 2405h8M746 2405h4M430 2409h8M746 2409h4M438 2413h8M746 2413h4M446 2417h4M618 2417h4M646 2417h4M746 2417h4M450 2421h4M610 2421h4M658 2421h4M746 2421h4M454 2425h4M606 2425h4M666 2425h4M458 2429h4M674 2429h4M742 2429h8M458 2433h8M682 2433h4M742 2433h8M462 2437h4M602 2437h4M686 2437h8M742 2437h4M462 2441h8M602 2441h4M690 2441h8M466 2445h4M602 2445h4M694 2445h8M466 2449h4M602 2449h4M698 2449h8M470 2453h4M602 2453h4M698 2453h8M470 2457h4M602 2457h4M698 2457h8M470 2461h4M602 2461h4M694 2461h8M470 2465h4M606 2465h4M690 2465h4M474 2469h4M606 2469h4M474 2473h4M606 2473h8M474 2477h8M610 2477h8M618 2481h20"/>
<path stroke="#dcbd29" d="M502 2185h8M650 2185h4M662 2189h4M466 2193h4M682 2225h4M438 2237h4M686 2269h4M358 2273h12M398 2273h4M338 2281h4M350 2301h4M386 2305h4M398 2309h4M698 2321h4M414 2325h4M418 2337h4M418 2345h4M418 2349h4M414 2361h4M406 2373h4M742 2373h4M402 2377h4M402 2381h4M402 2385h4M746 2385h4M402 2389h4M746 2389h4M406 2393h4M746 2393h4M410 2397h4M746 2397h4M418 2401h4M746 2401h4M426 2405h8M438 2409h4M446 2413h4M630 2413h8M450 2417h4M614 2417h4M650 2417h8M742 2417h4M454 2421h4M662 2421h4M742 2421h4M458 2425h4M670 2425h8M742 2425h4M462 2429h4M602 2429h4M678 2429h8M738 2429h4M466 2433h4M602 2433h4M686 2433h8M738 2433h4M466 2437h4M694 2437h8M734 2437h8M470 2441h4M698 2441h12M734 2441h8M470 2445h4M702 2445h16M470 2449h4M706 2449h16M474 2453h4M706 2453h12M474 2457h4M706 2457h4M474 2461h4M474 2465h8M602 2465h4M478 2469h4M602 2469h4M478 2473h4M602 2473h4M482 2477h4M606 2477h4M606 2481h12M614 2485h4"/>
<path stroke="#debc2a" d="M510 2185h12M478 2189h4M462 2197h4M454 2205h4M678 2209h4M446 2221h4M442 2229h4M682 2229h4M682 2233h4M434 2245h4M410 2269h4M686 2273h4M338 2293h4M342 2297h4M690 2297h4M390 2305h4M694 2313h4M702 2329h4M418 2333h4M418 2353h4M410 2369h4M406 2377h4M406 2381h4M406 2385h4M406 2389h4M410 2393h4M414 2397h8M422 2401h8M434 2405h8M442 2409h4M742 2409h4M450 2413h4M622 2413h8M638 2413h8M742 2413h4M454 2417h4M658 2417h4M458 2421h4M606 2421h4M666 2421h4M738 2421h4M462 2425h4M602 2425h4M678 2425h4M734 2425h8M466 2429h4M686 2429h4M734 2429h4M470 2433h4M694 2433h8M726 2433h12M470 2437h4M598 2437h4M702 2437h32M474 2441h4M598 2441h4M710 2441h24M474 2445h4M598 2445h4M718 2445h16M474 2449h8M598 2449h4M722 2449h4M478 2453h4M598 2453h4M478 2457h4M598 2457h4M478 2461h4M598 2461h4M482 2465h4M598 2465h4M482 2469h4M598 2469h4M482 2473h8M598 2473h4M486 2477h4M598 2477h8M490 2481h4M598 2481h8M602 2485h12"/>
<path stroke="#e1bc2b" d="M522 2185h8M646 2185h4M666 2193h4M458 2201h4M674 2201h4M450 2213h4M682 2237h4M426 2257h4M422 2261h4M402 2273h4M354 2301h4M690 2301h4M406 2313h4M410 2317h4M414 2321h4M418 2329h4M710 2341h4M714 2345h4M718 2349h4M722 2353h4M418 2357h4M726 2357h4M414 2365h4M738 2369h4M410 2373h4M742 2377h4M410 2385h4M410 2389h4M414 2393h4M422 2397h4M430 2401h8M742 2401h4M442 2405h4M742 2405h4M446 2409h8M454 2413h4M618 2413h4M646 2413h8M738 2413h4M458 2417h4M610 2417h4M662 2417h4M738 2417h4M462 2421h4M670 2421h8M734 2421h4M466 2425h4M682 2425h4M730 2425h4M470 2429h4M690 2429h8M726 2429h8M474 2433h4M598 2433h4M702 2433h24M474 2437h8M478 2441h4M478 2445h4M482 2449h4M594 2449h4M482 2453h4M594 2453h4M482 2457h4M594 2457h4M482 2461h8M594 2461h4M486 2465h4M594 2465h4M486 2469h4M594 2469h4M490 2473h4M594 2473h4M490 2477h8M590 2477h8M494 2481h4M590 2481h8M594 2485h8"/>
<path stroke="#e3bb2c" d="M530 2185h8M642 2185h4M482 2189h4M658 2189h4M470 2193h4M670 2197h4M682 2241h4M430 2253h4M418 2265h4M346 2277h4M686 2277h4M338 2285h4M338 2289h4M358 2301h8M394 2305h4M690 2305h4M402 2309h4M694 2317h4M698 2325h4M706 2337h4M422 2341h4M422 2345h4M422 2349h4M418 2361h4M730 2361h4M734 2365h4M414 2369h4M410 2377h4M410 2381h4M742 2381h4M414 2385h4M414 2389h4M418 2393h8M742 2393h4M426 2397h8M742 2397h4M438 2401h4M446 2405h4M454 2409h4M738 2409h4M458 2413h4M614 2413h4M654 2413h4M462 2417h4M606 2417h4M666 2417h4M734 2417h4M466 2421h4M602 2421h4M678 2421h4M730 2421h4M470 2425h4M686 2425h8M722 2425h8M474 2429h4M598 2429h4M698 2429h28M478 2433h4M482 2437h4M594 2437h4M482 2441h4M594 2441h4M482 2445h4M594 2445h4M486 2449h4M486 2453h4M486 2457h4M590 2457h4M490 2461h4M590 2461h4M490 2465h4M590 2465h4M490 2469h8M590 2469h4M494 2473h4M586 2473h8M498 2477h4M586 2477h4M498 2481h8M586 2481h4M582 2485h12"/>
<path stroke="#e6bb2d" d="M538 2185h12M582 2185h36M638 2185h4M486 2189h4M454 2209h4M678 2213h4M450 2217h4M446 2225h4M442 2233h4M438 2241h4M682 2245h4M682 2249h4M414 2269h4M406 2273h4M386 2277h8M686 2281h4M346 2297h4M366 2301h16M398 2305h4M418 2325h4M422 2333h4M702 2333h4M422 2337h4M422 2353h4M418 2365h4M414 2373h4M738 2373h4M414 2377h4M414 2381h4M742 2385h4M418 2389h4M742 2389h4M426 2393h4M434 2397h4M442 2401h4M450 2405h4M738 2405h4M458 2409h4M622 2409h24M462 2413h4M610 2413h4M658 2413h4M734 2413h4M466 2417h4M670 2417h4M730 2417h4M470 2421h4M682 2421h4M726 2421h4M474 2425h4M598 2425h4M694 2425h28M478 2429h4M482 2433h4M594 2433h4M486 2437h4M486 2441h4M486 2445h4M490 2449h4M590 2449h4M490 2453h4M590 2453h4M490 2457h4M494 2461h4M586 2461h4M494 2465h4M586 2465h4M498 2469h4M586 2469h4M498 2473h8M582 2473h4M502 2477h8M578 2477h8M506 2481h8M574 2481h12M510 2485h8M570 2485h12"/>
<path stroke="#e8bb2f" d="M550 2185h32M618 2185h20M490 2189h4M474 2193h4M466 2197h4M678 2217h4M434 2249h4M682 2253h4M382 2277h4M394 2277h4M342 2281h4M686 2285h4M342 2293h4M382 2301h8M406 2309h4M690 2309h4M410 2313h4M414 2317h4M694 2321h4M698 2329h4M422 2357h4M422 2361h4M418 2369h4M418 2373h4M418 2377h4M418 2381h4M418 2385h4M422 2389h8M430 2393h4M438 2397h4M738 2397h4M446 2401h4M738 2401h4M454 2405h4M462 2409h4M614 2409h8M646 2409h8M734 2409h4M466 2413h4M606 2413h4M662 2413h4M730 2413h4M470 2417h4M602 2417h4M674 2417h8M726 2417h4M474 2421h4M598 2421h4M686 2421h12M718 2421h8M478 2425h8M482 2429h4M594 2429h4M486 2433h4M490 2437h4M490 2441h4M590 2441h4M490 2445h4M590 2445h4M494 2449h4M494 2453h4M494 2457h8M586 2457h4M498 2461h4M498 2465h8M582 2465h4M502 2469h4M578 2469h8M506 2473h4M574 2473h8M510 2477h4M570 2477h8M514 2481h8M566 2481h8M518 2485h12M558 2485h12"/>
<path stroke="#eaba31" d="M494 2189h8M654 2189h4M462 2201h4M458 2205h4M674 2205h4M442 2237h4M682 2257h4M426 2261h4M682 2261h4M422 2265h4M410 2273h4M350 2277h4M378 2277h4M398 2277h4M686 2289h4M350 2297h4M390 2301h4M402 2305h4M690 2313h4M418 2321h4M422 2329h4M706 2341h4M426 2345h4M710 2345h4M714 2349h4M718 2353h4M722 2357h4M726 2361h4M422 2365h4M730 2365h4M422 2369h4M734 2369h4M738 2377h4M422 2381h4M422 2385h4M430 2389h4M434 2393h4M738 2393h4M442 2397h4M450 2401h4M458 2405h4M734 2405h4M466 2409h4M610 2409h4M654 2409h4M730 2409h4M470 2413h4M666 2413h8M726 2413h4M474 2417h4M598 2417h4M682 2417h4M722 2417h4M478 2421h4M698 2421h20M486 2425h4M594 2425h4M486 2429h8M490 2433h4M590 2433h4M494 2437h4M590 2437h4M494 2441h4M494 2445h4M498 2449h4M586 2449h4M498 2453h4M586 2453h4M502 2457h4M582 2457h4M502 2461h4M582 2461h4M506 2465h4M578 2465h4M506 2469h8M574 2469h4M510 2473h8M570 2473h4M514 2477h12M562 2477h8M522 2481h16M546 2481h20M530 2485h28"/>
<path stroke="#edba33" d="M502 2189h12M662 2193h4M454 2213h4M450 2221h4M678 2221h4M446 2229h4M438 2245h4M430 2257h4M682 2265h4M418 2269h4M374 2277h4M402 2277h4M342 2285h4M342 2289h4M686 2293h4M394 2301h4M422 2325h4M694 2325h4M426 2337h4M702 2337h4M426 2341h4M426 2349h4M426 2353h4M426 2357h4M422 2373h4M422 2377h4M426 2381h4M738 2381h4M426 2385h4M738 2385h4M434 2389h4M738 2389h4M438 2393h8M446 2397h4M454 2401h4M734 2401h4M462 2405h4M622 2405h20M730 2405h4M606 2409h4M658 2409h4M474 2413h4M602 2413h4M674 2413h4M722 2413h4M478 2417h4M686 2417h12M710 2417h12M482 2421h8M594 2421h4M490 2425h4M494 2429h4M590 2429h4M494 2433h4M498 2437h4M498 2441h4M586 2441h4M498 2445h4M586 2445h4M502 2449h4M502 2453h4M582 2453h4M506 2457h4M506 2461h8M578 2461h4M510 2465h4M574 2465h4M514 2469h8M570 2469h4M518 2473h8M558 2473h12M526 2477h36M538 2481h8"/>
<path stroke="#efba35" d="M514 2189h12M650 2189h4M478 2193h4M666 2197h4M670 2201h4M678 2225h4M434 2253h4M682 2269h4M414 2273h4M354 2277h4M370 2277h4M406 2277h4M354 2297h4M686 2297h4M398 2301h4M686 2301h4M406 2305h4M410 2309h4M414 2313h4M418 2317h4M690 2317h4M426 2333h4M698 2333h4M426 2361h4M426 2365h4M426 2369h4M426 2373h4M734 2373h4M426 2377h4M430 2385h4M438 2389h4M446 2393h4M450 2397h4M734 2397h4M458 2401h4M466 2405h4M614 2405h8M642 2405h8M470 2409h4M662 2409h8M726 2409h4M478 2413h4M598 2413h4M678 2413h8M718 2413h4M482 2417h4M594 2417h4M698 2417h12M490 2421h4M494 2425h4M590 2425h4M498 2429h4M498 2433h4M502 2437h4M586 2437h4M502 2441h4M502 2445h4M506 2449h4M582 2449h4M506 2453h4M510 2457h4M578 2457h4M514 2461h4M574 2461h4M514 2465h8M570 2465h4M522 2469h8M562 2469h8M526 2473h32"/>
<path stroke="#f1ba37" d="M526 2189h8M482 2193h4M470 2197h4M458 2209h4M674 2209h4M678 2229h4M446 2233h4M442 2241h4M682 2273h4M358 2277h12M346 2281h4M386 2281h16M346 2293h4M358 2297h4M378 2297h16M402 2301h4M686 2305h4M422 2321h4M426 2329h4M706 2345h4M710 2349h4M714 2353h4M718 2357h4M430 2377h4M430 2381h4M434 2385h4M442 2389h4M450 2393h4M734 2393h4M454 2397h4M462 2401h4M730 2401h4M470 2405h4M610 2405h4M650 2405h8M726 2405h4M474 2409h8M602 2409h4M670 2409h4M722 2409h4M482 2413h4M686 2413h8M710 2413h8M486 2417h4M494 2421h4M590 2421h4M498 2425h4M586 2429h4M502 2433h4M586 2433h4M506 2441h4M582 2441h4M506 2445h4M582 2445h4M510 2449h4M510 2453h4M578 2453h4M514 2457h4M574 2457h4M518 2461h4M570 2461h4M522 2465h8M562 2465h8M530 2469h32"/>
<path stroke="#f3ba39" d="M534 2189h8M646 2189h4M466 2201h4M454 2217h4M450 2225h4M678 2233h4M438 2249h4M430 2261h4M426 2265h4M422 2269h4M410 2277h4M682 2277h4M382 2281h4M402 2281h4M362 2297h16M394 2297h4M410 2305h4M414 2309h4M686 2309h4M418 2313h4M690 2321h4M694 2329h4M430 2341h4M702 2341h4M430 2345h4M430 2349h4M430 2353h4M430 2357h4M430 2361h4M722 2361h4M430 2365h4M726 2365h4M430 2369h4M730 2369h4M430 2373h4M734 2377h4M434 2381h4M734 2381h4M438 2385h4M734 2385h4M446 2389h4M734 2389h4M454 2393h4M458 2397h4M730 2397h4M466 2401h4M622 2401h16M726 2401h4M474 2405h4M606 2405h4M658 2405h4M722 2405h4M482 2409h4M598 2409h4M674 2409h8M718 2409h4M486 2413h4M594 2413h4M694 2413h16M490 2417h4M590 2417h4M498 2421h4M502 2425h4M586 2425h4M502 2429h4M506 2433h4M506 2437h4M582 2437h4M510 2441h4M510 2445h4M514 2449h4M578 2449h4M514 2453h8M574 2453h4M518 2457h8M570 2457h4M522 2461h8M562 2461h8M530 2465h32"/>
<path stroke="#f5ba3b" d="M542 2189h12M582 2189h28M486 2193h4M658 2193h4M462 2205h4M674 2213h4M678 2237h4M434 2257h4M418 2273h4M378 2281h4M406 2281h4M394 2285h4M346 2289h4M350 2293h4M398 2297h4M406 2301h4M422 2317h4M426 2325h4M430 2333h4M430 2337h4M698 2337h4M434 2373h4M434 2377h4M438 2381h4M442 2385h4M450 2389h4M458 2393h4M730 2393h4M462 2397h4M470 2401h4M614 2401h8M638 2401h12M478 2405h4M602 2405h4M662 2405h8M718 2405h4M486 2409h4M594 2409h4M682 2409h8M710 2409h8M490 2413h4M590 2413h4M494 2417h4M502 2421h4M586 2421h4M506 2429h4M582 2429h4M510 2433h4M582 2433h4M510 2437h4M514 2441h4M578 2441h4M514 2445h4M578 2445h4M518 2449h4M574 2449h4M522 2453h4M570 2453h4M526 2457h4M566 2457h4M530 2461h12M554 2461h8"/>
<path stroke="#f7ba3c" d="M554 2189h28M610 2189h12M642 2189h4M490 2193h8M474 2197h4M670 2205h4M458 2213h4M450 2229h4M446 2237h4M678 2241h4M442 2245h4M678 2245h4M414 2277h4M350 2281h4M374 2281h4M682 2281h4M346 2285h4M386 2285h8M398 2285h8M682 2285h4M390 2289h8M382 2293h20M402 2297h4M686 2313h4M426 2321h4M690 2325h4M694 2333h4M434 2349h4M434 2353h4M710 2353h4M434 2357h4M434 2361h4M434 2365h4M434 2369h4M730 2373h4M438 2377h4M442 2381h4M446 2385h4M454 2389h4M730 2389h4M462 2393h4M466 2397h4M726 2397h4M474 2401h4M606 2401h8M650 2401h4M722 2401h4M482 2405h4M598 2405h4M670 2405h4M714 2405h4M490 2409h4M690 2409h20M494 2413h4M498 2417h4M586 2417h4M582 2421h4M506 2425h4M582 2425h4M510 2429h4M514 2433h4M514 2437h4M578 2437h4M518 2441h4M518 2445h4M574 2445h4M522 2449h4M526 2453h4M566 2453h4M530 2457h8M558 2457h8M542 2461h12"/>
<path stroke="#f9bb3d" d="M622 2189h20M498 2193h12M662 2197h4M674 2217h4M454 2221h4M678 2249h4M438 2253h4M678 2253h4M410 2281h4M382 2285h4M406 2285h4M386 2289h4M398 2289h8M682 2289h4M378 2293h4M402 2293h4M682 2293h4M406 2297h4M410 2301h4M414 2305h4M418 2309h4M422 2313h4M686 2317h4M430 2329h4M434 2341h4M434 2345h4M702 2345h4M706 2349h4M714 2357h4M718 2361h4M722 2365h4M438 2369h4M726 2369h4M438 2373h4M442 2377h4M730 2377h4M446 2381h4M730 2381h4M450 2385h4M730 2385h4M458 2389h4M466 2393h4M726 2393h4M470 2397h4M626 2397h4M478 2401h4M602 2401h4M654 2401h8M718 2401h4M486 2405h4M594 2405h4M674 2405h12M710 2405h4M494 2409h4M590 2409h4M498 2413h4M586 2413h4M502 2417h4M582 2417h4M506 2421h4M510 2425h4M514 2429h4M578 2429h4M578 2433h4M518 2437h4M522 2441h4M574 2441h4M522 2445h4M526 2449h4M570 2449h4M530 2453h8M562 2453h4M538 2457h20"/>
<path stroke="#fabc3d" d="M510 2193h12M654 2193h4M478 2197h4M470 2201h4M666 2201h4M462 2209h4M674 2221h4M678 2257h4M678 2261h4M430 2265h4M426 2269h4M422 2273h4M418 2277h4M370 2281h4M378 2285h4M378 2289h8M406 2289h4M354 2293h4M370 2293h8M406 2293h4M682 2297h4M682 2301h4M426 2317h4M686 2321h4M430 2325h4M690 2329h4M434 2337h4M698 2341h4M438 2361h4M438 2365h4M442 2373h4M450 2381h4M454 2385h4M462 2389h4M726 2389h4M470 2393h4M474 2397h4M610 2397h16M630 2397h16M722 2397h4M482 2401h4M598 2401h4M662 2401h8M714 2401h4M490 2405h4M590 2405h4M686 2405h24M498 2409h4M586 2409h4M502 2413h4M582 2413h4M506 2417h4M510 2421h4M578 2421h4M514 2425h4M578 2425h4M518 2429h4M518 2433h4M522 2437h4M574 2437h4M526 2441h4M526 2445h4M570 2445h4M530 2449h8M566 2449h4M538 2453h24"/>
<path stroke="#fcbc3d" d="M522 2193h12M466 2205h4M670 2209h4M458 2217h4M454 2225h4M450 2233h4M446 2241h4M442 2249h4M434 2261h4M678 2265h4M354 2281h4M366 2281h4M414 2281h4M350 2285h4M374 2285h4M410 2285h4M350 2289h4M358 2293h12M410 2297h4M414 2301h4M418 2305h4M682 2305h4M434 2333h4M694 2337h4M438 2349h4M438 2353h4M438 2357h4M710 2357h4M442 2369h4M726 2373h4M446 2377h4M458 2385h4M726 2385h4M466 2389h4M474 2393h4M722 2393h4M478 2397h8M602 2397h8M646 2397h8M718 2397h4M486 2401h8M594 2401h4M670 2401h8M710 2401h4M494 2405h4M586 2405h4M502 2409h4M582 2409h4M506 2413h4M578 2413h4M510 2417h4M578 2417h4M514 2421h4M518 2425h4M574 2425h4M522 2429h4M574 2429h4M522 2433h4M574 2433h4M526 2437h4M530 2441h4M570 2441h4M530 2445h8M566 2445h4M538 2449h8M558 2449h8"/>
<path stroke="#fdbd3d" d="M534 2193h8M482 2197h4M674 2225h4M438 2257h4M678 2269h4M358 2281h8M414 2285h4M374 2289h4M410 2289h4M410 2293h4M414 2297h4M422 2309h4M682 2309h4M426 2313h4M430 2321h4M686 2325h4M434 2329h4M690 2333h4M438 2341h4M438 2345h4M698 2345h4M702 2349h4M706 2353h4M442 2361h4M714 2361h4M442 2365h4M718 2365h4M722 2369h4M446 2373h4M450 2377h4M726 2377h4M454 2381h4M726 2381h4M462 2385h4M470 2389h4M722 2389h4M478 2393h4M486 2397h4M598 2397h4M654 2397h8M714 2397h4M494 2401h4M590 2401h4M678 2401h12M698 2401h12M498 2405h8M582 2405h4M506 2409h4M578 2409h4M510 2413h4M514 2417h4M574 2417h4M518 2421h4M574 2421h4M522 2425h4M526 2429h4M526 2433h4M570 2433h4M530 2437h4M570 2437h4M534 2441h4M566 2441h4M538 2445h4M562 2445h4M546 2449h12"/>
<path stroke="#febe3c" d="M542 2193h8M586 2193h16M650 2193h4M486 2197h4M658 2197h4M474 2201h4M462 2213h4M674 2229h4M430 2269h4M426 2273h4M678 2273h4M422 2277h4M418 2281h4M370 2285h4M354 2289h4M370 2289h4M414 2289h4M414 2293h4M418 2301h4M422 2305h4M682 2313h4M430 2317h4M434 2325h4M438 2337h4M694 2341h4M442 2353h4M442 2357h4M446 2369h4M450 2373h4M722 2373h4M454 2377h4M458 2381h4M466 2385h4M722 2385h4M474 2389h4M482 2393h4M606 2393h36M718 2393h4M490 2397h4M590 2397h8M662 2397h8M710 2397h4M498 2401h4M582 2401h8M690 2401h8M506 2405h4M578 2405h4M510 2409h4M574 2409h4M514 2413h8M574 2413h4M518 2417h8M570 2417h4M522 2421h4M570 2421h4M526 2425h4M570 2425h4M530 2429h4M570 2429h4M530 2433h4M534 2437h4M566 2437h4M538 2441h4M542 2445h20"/>
<path stroke="#fec03b" d="M550 2193h12M570 2193h16M602 2193h12M490 2197h8M666 2205h4M670 2213h4M458 2221h4M454 2229h4M674 2233h4M450 2237h4M446 2245h4M442 2253h4M434 2265h4M678 2277h4M354 2285h4M366 2285h4M418 2285h4M358 2289h4M366 2289h4M418 2297h4M426 2309h4M682 2317h4M686 2329h4M438 2333h4M690 2337h4M442 2345h4M442 2349h4M702 2353h4M706 2357h4M446 2361h4M710 2361h4M446 2365h4M714 2365h4M450 2369h4M718 2369h4M458 2377h4M722 2377h4M462 2381h4M722 2381h4M470 2385h4M478 2389h4M718 2389h4M486 2393h4M598 2393h8M642 2393h12M714 2393h4M494 2397h4M586 2397h4M670 2397h12M702 2397h8M502 2401h4M578 2401h4M510 2405h4M574 2405h4M514 2409h8M570 2409h4M522 2413h4M570 2413h4M526 2417h4M566 2417h4M526 2421h8M566 2421h4M530 2425h4M566 2425h4M534 2429h4M566 2429h4M534 2433h8M566 2433h4M538 2437h8M542 2441h24"/>
<path stroke="#fec13a" d="M562 2193h8M614 2193h8M646 2193h4M498 2197h16M662 2201h4M470 2205h4M466 2209h4M674 2237h4M438 2261h4M426 2277h4M422 2281h4M678 2281h4M362 2285h4M678 2285h4M362 2289h4M418 2289h4M418 2293h4M422 2301h4M430 2313h4M434 2321h4M682 2321h4M438 2329h4M442 2341h4M694 2345h4M698 2349h4M446 2357h4M450 2365h4M454 2373h4M718 2373h4M466 2381h4M474 2385h4M718 2385h4M482 2389h4M614 2389h8M714 2389h4M490 2393h4M590 2393h8M654 2393h8M710 2393h4M498 2397h8M582 2397h4M682 2397h20M506 2401h8M574 2401h4M514 2405h8M570 2405h4M522 2409h4M566 2409h4M526 2413h4M566 2413h4M530 2417h4M562 2417h4M534 2421h4M562 2421h4M534 2425h8M562 2425h4M538 2429h8M562 2429h4M542 2433h4M562 2433h4M546 2437h20"/>
<path stroke="#fec339" d="M622 2193h8M642 2193h4M514 2197h16M478 2201h4M462 2217h4M670 2217h4M458 2225h4M454 2233h4M450 2241h4M674 2241h4M674 2245h4M446 2249h4M442 2257h4M434 2269h4M430 2273h4M358 2285h4M422 2285h4M678 2289h4M678 2293h4M422 2297h4M678 2297h4M678 2301h4M426 2305h4M678 2305h4M678 2309h4M434 2317h4M438 2325h4M682 2325h4M686 2333h4M442 2337h4M690 2341h4M446 2349h4M446 2353h4M450 2361h4M706 2361h4M710 2365h4M454 2369h4M714 2369h4M458 2373h4M462 2377h4M718 2377h4M470 2381h4M718 2381h4M478 2385h4M486 2389h4M594 2389h20M622 2389h20M494 2393h8M582 2393h8M662 2393h8M702 2393h8M506 2397h4M574 2397h8M514 2401h8M570 2401h4M522 2405h4M562 2405h8M526 2409h8M562 2409h4M530 2413h8M558 2413h8M534 2417h12M554 2417h8M538 2421h24M542 2425h20M546 2429h16M546 2433h16"/>
<path stroke="#fec437" d="M630 2193h12M530 2197h8M654 2197h4M482 2201h4M666 2209h4M670 2221h4M674 2249h4M674 2253h4M674 2257h4M438 2265h4M426 2281h4M422 2289h4M422 2293h4M426 2301h4M430 2309h4M678 2313h4M442 2333h4M446 2345h4M698 2353h4M450 2357h4M702 2357h4M454 2365h4M458 2369h4M462 2373h4M714 2373h4M466 2377h4M474 2381h4M714 2381h4M482 2385h4M714 2385h4M490 2389h8M586 2389h8M642 2389h8M706 2389h8M502 2393h8M574 2393h8M670 2393h32M510 2397h8M566 2397h8M522 2401h8M562 2401h8M526 2405h12M554 2405h8M534 2409h28M538 2413h20M546 2417h8"/>
<path stroke="#fec636" d="M538 2197h4M474 2205h4M466 2213h4M462 2221h4M458 2229h4M674 2261h4M674 2265h4M430 2277h4M426 2285h4M426 2297h4M430 2305h4M434 2313h4M678 2317h4M438 2321h4M442 2329h4M682 2329h4M446 2337h4M686 2337h4M446 2341h4M690 2345h4M450 2349h4M694 2349h4M450 2353h4M454 2361h4M706 2365h4M710 2369h4M470 2377h4M714 2377h4M478 2381h4M486 2385h8M594 2385h32M710 2385h4M498 2389h8M574 2389h12M650 2389h12M702 2389h4M510 2393h8M566 2393h8M518 2397h12M558 2397h8M530 2401h32M538 2405h16"/>
<path stroke="#fec735" d="M542 2197h8M582 2197h24M486 2201h8M658 2201h4M662 2205h4M470 2209h4M670 2225h4M454 2237h4M450 2245h4M446 2253h4M442 2261h4M674 2269h4M434 2273h4M426 2289h4M426 2293h4M434 2309h4M438 2317h4M678 2321h4M442 2325h4M446 2333h4M682 2333h4M686 2341h4M450 2345h4M694 2353h4M454 2357h4M698 2357h4M702 2361h4M458 2365h4M462 2369h4M466 2373h4M710 2373h4M474 2377h4M710 2377h4M482 2381h8M710 2381h4M494 2385h8M578 2385h16M626 2385h12M706 2385h4M506 2389h8M562 2389h12M662 2389h16M690 2389h12M518 2393h12M550 2393h16M530 2397h28"/>
<path stroke="#fec934" d="M550 2197h12M566 2197h16M606 2197h8M650 2197h4M494 2201h24M666 2213h4M466 2217h4M462 2225h4M670 2229h4M438 2269h4M674 2273h4M430 2281h4M430 2301h4M438 2313h4M442 2321h4M678 2325h4M446 2329h4M450 2341h4M690 2349h4M454 2353h4M458 2361h4M462 2365h4M702 2365h4M466 2369h4M706 2369h4M470 2373h4M706 2373h4M478 2377h4M706 2377h4M490 2381h4M582 2381h32M706 2381h4M502 2385h8M562 2385h16M638 2385h12M698 2385h8M514 2389h16M546 2389h16M678 2389h12M530 2393h20"/>
<path stroke="#feca33" d="M562 2197h4M614 2197h4M518 2201h12M478 2205h4M470 2213h4M458 2233h4M670 2233h4M454 2241h4M450 2249h4M446 2257h4M442 2265h4M434 2277h4M674 2277h4M674 2281h4M430 2285h4M430 2289h4M430 2293h4M674 2293h4M430 2297h4M674 2297h4M674 2301h4M434 2305h4M674 2305h4M674 2309h4M674 2313h4M678 2329h4M450 2337h4M682 2337h4M454 2345h4M686 2345h4M454 2349h4M458 2357h4M694 2357h4M462 2361h4M698 2361h4M470 2369h4M702 2369h4M474 2373h4M482 2377h8M702 2377h4M494 2381h8M558 2381h24M614 2381h16M702 2381h4M510 2385h20M538 2385h24M650 2385h16M686 2385h12M530 2389h16"/>
<path stroke="#fdcc32" d="M618 2197h8M646 2197h4M530 2201h8M482 2205h4M474 2209h4M666 2217h4M466 2221h4M670 2237h4M438 2273h4M434 2281h4M674 2285h4M674 2289h4M434 2301h4M438 2309h4M442 2317h4M674 2317h4M674 2321h4M446 2325h4M450 2333h4M678 2333h4M454 2341h4M682 2341h4M458 2353h4M690 2353h4M694 2361h4M466 2365h4M698 2365h4M474 2369h4M478 2373h8M702 2373h4M490 2377h8M558 2377h52M698 2377h4M502 2381h20M538 2381h20M630 2381h12M694 2381h8M530 2385h8M666 2385h20"/>
<path stroke="#fdcd31" d="M626 2197h4M642 2197h4M538 2201h8M654 2201h4M486 2205h4M662 2209h4M462 2229h4M458 2237h4M670 2241h4M454 2245h4M450 2253h4M446 2261h4M442 2269h4M438 2277h4M434 2285h4M434 2293h4M434 2297h4M438 2305h4M442 2313h4M446 2321h4M674 2325h4M450 2329h4M454 2337h4M678 2337h4M458 2345h4M458 2349h4M686 2349h4M462 2353h4M462 2357h4M690 2357h4M466 2361h4M470 2365h4M694 2365h4M478 2369h4M698 2369h4M486 2373h4M554 2373h40M698 2373h4M498 2377h12M538 2377h20M610 2377h12M694 2377h4M522 2381h16M642 2381h12M682 2381h12"/>
<path stroke="#fccf31" d="M630 2197h12M546 2201h4M582 2201h28M490 2205h28M658 2205h4M478 2209h4M470 2217h4M666 2221h4M466 2225h4M670 2245h4M670 2249h4M670 2253h4M670 2257h4M670 2261h4M670 2265h4M434 2289h4M438 2301h4M442 2309h4M446 2317h4M450 2325h4M674 2329h4M454 2333h4M458 2341h4M682 2345h4M462 2349h4M686 2353h4M466 2357h4M470 2361h4M690 2361h4M474 2365h4M482 2369h4M554 2369h32M694 2369h4M490 2373h12M538 2373h16M594 2373h16M694 2373h4M510 2377h28M622 2377h12M690 2377h4M654 2381h28"/>
<path stroke="#fcd030" d="M550 2201h8M570 2201h12M610 2201h4M518 2205h12M474 2213h4M666 2225h4M462 2233h4M458 2241h4M454 2249h4M450 2257h4M446 2265h4M670 2269h4M442 2273h4M438 2281h4M438 2285h4M438 2297h4M670 2301h4M670 2305h4M670 2309h4M446 2313h4M670 2313h4M670 2317h4M450 2321h4M670 2321h4M454 2329h4M674 2333h4M458 2337h4M678 2341h4M462 2345h4M682 2349h4M466 2353h4M470 2357h4M686 2357h4M474 2361h4M478 2365h4M554 2365h28M690 2365h4M486 2369h8M538 2369h16M586 2369h12M690 2369h4M502 2373h36M610 2373h8M686 2373h8M634 2377h8M678 2377h12"/>
<path stroke="#fbd22f" d="M558 2201h12M614 2201h4M530 2205h8M482 2209h4M662 2213h4M470 2221h4M466 2229h4M666 2229h4M450 2261h4M446 2269h4M670 2273h4M442 2277h4M438 2289h4M438 2293h4M670 2297h4M442 2305h4M450 2317h4M454 2325h4M670 2325h4M458 2333h4M674 2337h4M462 2341h4M678 2345h4M466 2349h4M470 2353h4M682 2353h4M478 2361h4M554 2361h24M686 2361h4M482 2365h8M538 2365h16M582 2365h12M686 2365h4M494 2369h44M598 2369h12M686 2369h4M618 2373h12M682 2373h4M642 2377h36"/>
<path stroke="#fbd32e" d="M618 2201h4M650 2201h4M538 2205h4M590 2205h12M486 2209h4M478 2213h4M474 2217h4M666 2233h4M462 2237h4M458 2245h4M454 2253h4M670 2277h4M442 2281h4M670 2281h4M670 2285h4M670 2289h4M670 2293h4M442 2297h4M442 2301h4M446 2309h4M458 2329h4M670 2329h4M670 2333h4M462 2337h4M674 2341h4M466 2345h4M470 2349h4M678 2349h4M474 2357h4M558 2357h16M682 2357h4M482 2361h4M542 2361h12M578 2361h12M682 2361h4M490 2365h12M522 2365h16M594 2365h8M682 2365h4M610 2369h8M682 2369h4M630 2373h8M674 2373h8"/>
<path stroke="#fad52d" d="M622 2201h4M542 2205h8M582 2205h8M602 2205h8M490 2209h36M658 2209h4M662 2217h4M474 2221h4M470 2225h4M466 2233h4M666 2237h4M454 2257h4M450 2265h4M446 2273h4M442 2285h4M442 2289h4M442 2293h4M446 2305h4M666 2309h4M450 2313h4M666 2313h4M666 2317h4M454 2321h4M666 2321h4M458 2325h4M462 2333h4M670 2337h4M466 2341h4M470 2345h4M674 2345h4M474 2353h4M562 2353h4M678 2353h4M478 2357h8M542 2357h16M574 2357h12M678 2357h4M486 2361h8M526 2361h16M590 2361h8M678 2361h4M502 2365h20M602 2365h8M678 2365h4M618 2369h8M674 2369h8M638 2373h36"/>
<path stroke="#f9d62d" d="M626 2201h4M646 2201h4M550 2205h4M574 2205h8M610 2205h4M654 2205h4M526 2209h8M482 2213h4M478 2217h4M662 2221h4M470 2229h4M462 2241h4M666 2241h4M458 2249h4M454 2261h4M450 2269h4M446 2277h4M446 2297h4M446 2301h4M666 2301h4M666 2305h4M450 2309h4M454 2317h4M666 2325h4M462 2329h4M666 2329h4M466 2337h4M470 2341h4M670 2341h4M474 2349h4M674 2349h4M478 2353h4M542 2353h20M566 2353h20M674 2353h4M486 2357h4M530 2357h12M586 2357h12M494 2361h32M598 2361h8M674 2361h4M610 2365h8M674 2365h4M626 2369h8M666 2369h8"/>
<path stroke="#f9d82c" d="M630 2201h16M554 2205h20M614 2205h4M534 2209h8M594 2209h8M486 2213h12M502 2213h16M474 2225h4M662 2225h4M466 2237h4M666 2245h4M666 2249h4M458 2253h4M666 2253h4M666 2257h4M666 2261h4M666 2265h4M666 2269h4M450 2273h4M446 2281h4M446 2285h4M446 2289h4M446 2293h4M666 2297h4M450 2305h4M454 2313h4M458 2321h4M462 2325h4M466 2333h4M666 2333h4M470 2337h4M666 2337h4M474 2345h4M670 2345h4M478 2349h4M546 2349h36M670 2349h4M482 2353h8M530 2353h12M586 2353h8M490 2357h40M598 2357h8M674 2357h4M606 2361h8M618 2365h8M670 2365h4M634 2369h16M654 2369h12"/>
<path stroke="#f8da2b" d="M618 2205h4M542 2209h4M582 2209h12M602 2209h8M498 2213h4M518 2213h12M658 2213h4M482 2217h4M478 2221h4M662 2229h4M470 2233h4M462 2245h4M458 2257h4M454 2265h4M666 2273h4M450 2277h4M666 2293h4M450 2297h4M450 2301h4M454 2309h4M662 2309h4M662 2313h4M458 2317h4M662 2317h4M462 2321h4M662 2321h4M662 2325h4M466 2329h4M662 2329h4M470 2333h4M474 2341h4M666 2341h4M478 2345h4M546 2345h36M666 2345h4M482 2349h8M534 2349h12M582 2349h12M490 2353h40M594 2353h8M670 2353h4M606 2357h4M670 2357h4M614 2361h8M666 2361h8M626 2365h8M662 2365h8M650 2369h4"/>
<path stroke="#f7db2a" d="M622 2205h4M650 2205h4M546 2209h8M574 2209h8M610 2209h4M654 2209h4M530 2213h8M598 2213h4M486 2217h8M502 2217h16M658 2217h4M482 2221h4M478 2225h4M474 2229h4M662 2233h4M466 2241h4M462 2249h4M458 2261h4M454 2269h4M666 2277h4M450 2281h4M666 2281h4M450 2285h4M666 2285h4M450 2289h4M666 2289h4M450 2293h4M454 2305h4M662 2305h4M458 2313h4M462 2317h4M466 2325h4M470 2329h4M662 2333h4M474 2337h4M662 2337h4M478 2341h4M550 2341h32M662 2341h4M482 2345h8M534 2345h12M582 2345h12M490 2349h12M514 2349h20M594 2349h8M666 2349h4M602 2353h8M666 2353h4M610 2357h8M666 2357h4M622 2361h8M662 2361h4M634 2365h28"/>
<path stroke="#f7dd2a" d="M626 2205h4M554 2209h20M614 2209h4M538 2213h4M586 2213h12M602 2213h8M494 2217h8M518 2217h12M486 2221h4M474 2233h4M470 2237h4M462 2253h4M458 2265h4M454 2273h4M454 2277h4M454 2297h4M662 2297h4M454 2301h4M662 2301h4M458 2305h4M458 2309h4M462 2313h4M658 2313h4M658 2317h4M466 2321h4M658 2321h4M470 2325h4M658 2325h4M658 2329h4M474 2333h4M658 2333h4M478 2337h8M550 2337h32M482 2341h8M534 2341h16M582 2341h12M490 2345h12M518 2345h16M594 2345h8M662 2345h4M502 2349h12M602 2349h8M662 2349h4M610 2353h8M662 2353h4M618 2357h8M662 2357h4M630 2361h8M654 2361h8"/>
<path stroke="#f6de29" d="M630 2205h4M618 2209h4M542 2213h8M578 2213h8M610 2213h4M530 2217h8M590 2217h20M490 2221h36M658 2221h4M482 2225h4M478 2229h4M662 2237h4M466 2245h4M462 2257h4M662 2261h4M458 2269h4M454 2281h4M454 2285h4M454 2289h4M454 2293h4M662 2293h4M458 2301h4M658 2305h4M462 2309h4M658 2309h4M466 2317h4M470 2321h4M654 2321h4M474 2325h4M654 2325h4M474 2329h4M654 2329h4M478 2333h8M550 2333h36M486 2337h4M534 2337h16M582 2337h12M658 2337h4M490 2341h12M518 2341h16M594 2341h8M658 2341h4M502 2345h16M602 2345h8M658 2345h4M610 2349h8M658 2349h4M618 2353h8M658 2353h4M626 2357h12M654 2357h8M638 2361h16"/>
<path stroke="#f6e028" d="M634 2205h4M642 2205h8M622 2209h4M550 2213h8M566 2213h12M614 2213h4M654 2213h4M538 2217h4M582 2217h8M610 2217h4M526 2221h8M590 2221h24M486 2225h8M498 2225h24M602 2225h8M658 2225h4M482 2229h4M478 2233h4M474 2237h4M470 2241h4M662 2241h4M662 2245h4M466 2249h4M662 2249h4M662 2253h4M662 2257h4M462 2261h4M662 2265h4M662 2269h4M458 2273h4M662 2273h4M458 2277h4M662 2289h4M458 2297h4M658 2301h4M462 2305h4M466 2313h4M654 2313h4M470 2317h4M654 2317h4M474 2321h4M478 2325h4M478 2329h8M550 2329h40M486 2333h4M534 2333h16M586 2333h12M654 2333h4M490 2337h12M514 2337h20M594 2337h12M654 2337h4M502 2341h16M602 2341h8M654 2341h4M610 2345h8M654 2345h4M618 2349h8M654 2349h4M626 2353h12M650 2353h8M638 2357h16"/>
<path stroke="#f5e228" d="M638 2205h4M626 2209h4M650 2209h4M558 2213h8M618 2213h4M542 2217h8M574 2217h8M614 2217h4M654 2217h4M534 2221h8M582 2221h8M614 2221h4M494 2225h4M522 2225h8M590 2225h12M610 2225h8M486 2229h4M502 2229h20M598 2229h16M658 2229h4M482 2233h4M474 2241h4M470 2245h4M466 2253h4M466 2257h4M462 2265h4M462 2269h4M662 2277h4M458 2281h4M662 2281h4M458 2285h4M662 2285h4M458 2289h4M458 2293h4M462 2297h4M658 2297h4M462 2301h4M466 2305h4M654 2305h4M466 2309h4M654 2309h4M470 2313h4M474 2317h4M650 2317h4M478 2321h4M570 2321h12M650 2321h4M482 2325h4M546 2325h52M650 2325h4M486 2329h4M534 2329h16M590 2329h16M650 2329h4M490 2333h16M510 2333h24M598 2333h12M650 2333h4M502 2337h12M606 2337h8M650 2337h4M610 2341h12M646 2341h8M618 2345h12M646 2345h8M626 2349h28M638 2353h12"/>
<path stroke="#f5e327" d="M622 2213h4M550 2217h24M618 2217h4M542 2221h8M574 2221h8M618 2221h4M654 2221h4M530 2225h8M582 2225h8M490 2229h12M522 2229h8M586 2229h12M614 2229h4M486 2233h4M510 2233h8M590 2233h20M658 2233h4M478 2237h4M470 2249h4M466 2261h4M466 2265h4M462 2273h4M462 2277h4M462 2289h4M462 2293h4M658 2293h4M466 2301h4M654 2301h4M470 2309h4M650 2309h4M474 2313h4M650 2313h4M478 2317h4M562 2317h40M646 2317h4M482 2321h4M546 2321h24M582 2321h28M646 2321h4M486 2325h8M530 2325h16M598 2325h16M646 2325h4M490 2329h44M606 2329h12M642 2329h8M506 2333h4M610 2333h12M642 2333h8M614 2337h16M638 2337h12M622 2341h24M630 2345h16"/>
<path stroke="#f5e526" d="M630 2209h8M646 2209h4M626 2213h4M650 2213h4M622 2217h4M550 2221h24M538 2225h12M574 2225h8M618 2225h4M654 2225h4M530 2229h12M578 2229h8M490 2233h20M518 2233h16M582 2233h8M610 2233h8M482 2237h8M582 2237h28M658 2237h4M478 2241h4M590 2241h16M474 2245h4M474 2249h4M470 2253h4M470 2257h4M658 2257h4M658 2261h4M658 2265h4M466 2269h4M658 2269h4M466 2273h4M462 2281h4M462 2285h4M658 2289h4M466 2293h4M466 2297h4M654 2297h4M470 2301h4M470 2305h8M594 2305h16M650 2305h4M474 2309h4M578 2309h36M646 2309h4M478 2313h4M558 2313h60M646 2313h4M482 2317h8M542 2317h20M602 2317h20M642 2317h4M486 2321h12M526 2321h20M610 2321h16M638 2321h8M494 2325h36M614 2325h32M618 2329h24M622 2333h20M630 2337h8"/>
<path stroke="#f5e626" d="M638 2209h8M650 2217h4M622 2221h4M550 2225h24M622 2225h4M542 2229h36M618 2229h4M654 2229h4M534 2233h12M570 2233h12M618 2233h4M490 2237h48M570 2237h12M610 2237h8M482 2241h8M510 2241h16M574 2241h16M606 2241h8M658 2241h4M478 2245h4M578 2245h32M658 2245h4M578 2249h32M658 2249h4M474 2253h4M582 2253h24M658 2253h4M586 2257h20M470 2261h4M590 2261h20M470 2265h4M594 2265h16M470 2269h4M658 2273h4M466 2277h4M658 2277h4M466 2281h4M658 2281h4M466 2285h4M658 2285h4M466 2289h4M470 2293h4M654 2293h4M470 2297h4M590 2297h24M474 2301h4M582 2301h36M650 2301h4M478 2305h4M570 2305h24M610 2305h12M646 2305h4M478 2309h8M554 2309h24M614 2309h12M642 2309h4M482 2313h8M538 2313h20M618 2313h28M490 2317h12M518 2317h24M622 2317h20M498 2321h28M626 2321h12"/>
<path stroke="#f5e825" d="M630 2213h4M646 2213h4M626 2217h4M626 2221h4M650 2221h4M622 2229h4M546 2233h24M654 2233h4M538 2237h32M618 2237h4M490 2241h20M526 2241h48M614 2241h4M482 2245h8M506 2245h36M554 2245h24M610 2245h4M478 2249h8M562 2249h16M610 2249h4M478 2253h4M566 2253h16M606 2253h8M474 2257h4M574 2257h12M606 2257h8M474 2261h4M578 2261h12M610 2261h8M474 2265h4M582 2265h12M610 2265h8M582 2269h32M470 2273h4M586 2273h28M470 2277h4M590 2277h20M470 2281h4M590 2281h20M470 2285h4M590 2285h20M470 2289h4M586 2289h28M654 2289h4M474 2293h4M582 2293h36M474 2297h8M578 2297h12M614 2297h8M650 2297h4M478 2301h4M566 2301h16M618 2301h8M646 2301h4M482 2305h8M550 2305h20M622 2305h24M486 2309h12M526 2309h28M626 2309h16M490 2313h48M502 2317h16"/>
<path stroke="#f5e924" d="M634 2213h12M630 2217h4M646 2217h4M626 2225h4M650 2225h4M622 2233h4M654 2237h4M618 2241h4M490 2245h16M542 2245h12M614 2245h4M486 2249h76M614 2249h4M482 2253h8M502 2253h64M614 2253h4M478 2257h8M506 2257h68M614 2257h4M654 2257h4M478 2261h4M510 2261h20M558 2261h20M618 2261h4M654 2261h4M478 2265h4M514 2265h4M566 2265h16M618 2265h4M654 2265h4M474 2269h8M570 2269h12M614 2269h8M654 2269h4M474 2273h4M574 2273h12M614 2273h4M654 2273h4M474 2277h4M578 2277h12M610 2277h8M654 2277h4M474 2281h4M578 2281h12M610 2281h8M654 2281h4M474 2285h4M578 2285h12M610 2285h8M654 2285h4M474 2289h8M574 2289h12M614 2289h8M478 2293h8M570 2293h12M618 2293h8M650 2293h4M482 2297h8M558 2297h20M622 2297h8M646 2297h4M482 2301h12M534 2301h32M626 2301h20M490 2305h60M498 2309h28"/>
<path stroke="#f5eb23" d="M634 2217h12M630 2221h4M646 2221h4M630 2225h4M626 2229h4M650 2229h4M626 2233h4M650 2233h4M622 2237h4M622 2241h4M654 2241h4M618 2245h4M654 2245h4M618 2249h4M654 2249h4M490 2253h12M618 2253h4M654 2253h4M486 2257h20M618 2257h4M482 2261h28M530 2261h28M622 2261h4M482 2265h32M518 2265h48M622 2265h4M482 2269h88M622 2269h4M478 2273h12M502 2273h36M558 2273h16M618 2273h4M478 2277h12M510 2277h20M566 2277h12M618 2277h4M478 2281h12M566 2281h12M618 2281h4M478 2285h12M566 2285h12M618 2285h8M482 2289h12M562 2289h12M622 2289h8M650 2289h4M486 2293h84M626 2293h8M642 2293h8M490 2297h68M630 2297h16M494 2301h40"/>
<path stroke="#f5ec22" d="M634 2221h12M634 2225h4M646 2225h4M630 2229h4M646 2229h4M630 2233h4M626 2237h4M650 2237h4M626 2241h4M622 2245h4M622 2249h4M622 2253h4M622 2257h4M626 2261h4M650 2261h4M626 2265h4M650 2265h4M626 2269h4M650 2269h4M490 2273h12M538 2273h20M622 2273h8M650 2273h4M490 2277h20M530 2277h36M622 2277h8M650 2277h4M490 2281h76M622 2281h8M650 2281h4M490 2285h76M626 2285h8M646 2285h8M494 2289h68M630 2289h20M634 2293h8"/>
<path stroke="#f5ee21" d="M638 2225h8M634 2229h12M634 2233h4M646 2233h4M630 2237h4M630 2241h4M650 2241h4M626 2245h4M650 2245h4M626 2249h4M650 2249h4M626 2253h4M650 2253h4M626 2257h4M650 2257h4M630 2261h4M630 2265h4M646 2265h4M630 2269h4M646 2269h4M630 2273h4M646 2273h4M630 2277h8M646 2277h4M630 2281h20M634 2285h12"/>
<path stroke="#f6ef20" d="M638 2233h8M634 2237h16M634 2241h4M646 2241h4M630 2245h8M646 2245h4M630 2249h4M646 2249h4M630 2253h8M646 2253h4M630 2257h8M642 2257h8M634 2261h16M634 2265h12M634 2269h12M634 2273h12M638 2277h8"/>
<path stroke="#f6f11f" d="M638 2241h8M638 2245h8M634 2249h12M638 2253h8M638 2257h4"/>
</g></g>
<circle transform="translate(563.8 2283.5) scale(1.3418 1)" r="191.9" fill="none" stroke="#000" stroke-width="2.5"/>
<g fill="#1e1600" fill-opacity="0.78">
<use href="#m" x="500.0" y="2137.2"/>
<use href="#m" x="627.5" y="2137.2"/>
<use href="#m" x="396.8" y="2193.1"/>
<use href="#m" x="730.7" y="2193.1"/>
<use href="#m" x="367.5" y="2236.0"/>
<use href="#m" x="760.0" y="2236.0"/>
<use href="#m" x="357.4" y="2283.5"/>
<use href="#m" x="770.1" y="2283.5"/>
<use href="#m" x="367.5" y="2331.0"/>
<use href="#m" x="760.0" y="2331.0"/>
<use href="#m" x="396.8" y="2373.9"/>
<use href="#m" x="730.7" y="2373.9"/>
<use href="#m" x="500.0" y="2429.8"/>
<use href="#m" x="627.5" y="2429.8"/>
<use href="#m" x="563.8" y="2437.3"/>
<use href="#m" x="478.6" y="2205.6"/>
<use href="#m" x="648.9" y="2205.6"/>
<use href="#m" x="464.3" y="2244.5"/>
<use href="#m" x="663.2" y="2244.5"/>
<use href="#m" x="460.6" y="2283.5"/>
<use href="#m" x="666.9" y="2283.5"/>
<use href="#m" x="464.3" y="2322.5"/>
<use href="#m" x="663.2" y="2322.5"/>
<use href="#m" x="478.6" y="2361.4"/>
<use href="#m" x="648.9" y="2361.4"/>
<use href="#m" x="563.8" y="2205.9"/>
<use href="#m" x="563.8" y="2244.8"/>
<use href="#m" x="563.8" y="2283.5"/>
<use href="#m" x="563.8" y="2322.2"/>
<use href="#m" x="563.8" y="2361.1"/>
</g>
</g>
<g>
<text class="tt" transform="translate(1281.5 2034.7) scale(1.182 1)" text-anchor="middle">pMP</text>
<path transform="translate(1282.0 2049.6) scale(1.22 1)" d="M-47.1 44.6L0 0L47.1 44.6" fill="none" stroke="#000" stroke-width="2.7" stroke-linejoin="round"/>
<g clip-path="url(#c7)"><g filter="url(#bl)" fill="none" stroke-width="4" shape-rendering="crispEdges">
<path stroke="#fec636" d="M1308 2421h20M1296 2425h44M1288 2429h60M1284 2433h68M1280 2437h76M1280 2441h76M1276 2445h80M1276 2449h84M1276 2453h84M1276 2457h84M1276 2461h88M1280 2465h84M1280 2469h84M1280 2473h88M1280 2477h88M1280 2481h76M1280 2485h56"/>
<path stroke="#fec735" d="M1300 2405h28M1284 2409h60M1280 2413h72M1272 2417h88M1268 2421h40M1328 2421h36M1264 2425h32M1340 2425h28M1260 2429h28M1348 2429h24M1260 2433h24M1352 2433h24M1256 2437h24M1356 2437h24M1256 2441h24M1356 2441h24M1256 2445h20M1356 2445h28M1256 2449h20M1360 2449h28M1252 2453h24M1360 2453h28M1252 2457h24M1360 2457h32M1252 2461h24M1364 2461h28M1252 2465h28M1364 2465h32M1252 2469h28M1364 2469h36M1252 2473h28M1368 2473h20M1252 2477h28M1368 2477h8M1252 2481h28M1252 2485h28"/>
<path stroke="#fec934" d="M1292 2393h40M1280 2397h64M1272 2401h84M1264 2405h36M1328 2405h36M1260 2409h24M1344 2409h28M1256 2413h24M1352 2413h28M1252 2417h20M1360 2417h24M1248 2421h20M1364 2421h24M1248 2425h16M1368 2425h24M1244 2429h16M1372 2429h24M1244 2433h16M1376 2433h24M1240 2437h16M1380 2437h24M1240 2441h16M1380 2441h24M1236 2445h20M1384 2445h24M1236 2449h20M1388 2449h24M1236 2453h16M1388 2453h28M1236 2457h16M1392 2457h28M1236 2461h16M1392 2461h28M1232 2465h20M1396 2465h16M1232 2469h20M1232 2473h20M1232 2477h20M1228 2481h24M1228 2485h24"/>
<path stroke="#feca33" d="M1288 2381h36M1276 2385h68M1268 2389h88M1260 2393h32M1332 2393h36M1256 2397h24M1344 2397h32M1252 2401h20M1356 2401h28M1248 2405h16M1364 2405h28M1244 2409h16M1372 2409h24M1240 2413h16M1380 2413h20M1236 2417h16M1384 2417h24M1232 2421h16M1388 2421h24M1232 2425h16M1392 2425h24M1228 2429h16M1396 2429h24M1228 2433h16M1400 2433h24M1224 2437h16M1404 2437h24M1224 2441h16M1404 2441h28M1224 2445h12M1408 2445h28M1220 2449h16M1412 2449h28M1220 2453h16M1416 2453h20M1220 2457h16M1420 2457h8M1216 2461h20M1216 2465h16M1216 2469h16M1212 2473h20M1212 2477h20M1208 2481h20"/>
<path stroke="#fdcc32" d="M1300 2369h4M1280 2373h56M1268 2377h80M1260 2381h28M1324 2381h40M1256 2385h20M1344 2385h32M1248 2389h20M1356 2389h28M1244 2393h16M1368 2393h24M1240 2397h16M1376 2397h24M1236 2401h16M1384 2401h24M1232 2405h16M1392 2405h24M1228 2409h16M1396 2409h24M1228 2413h12M1400 2413h24M1224 2417h12M1408 2417h20M1220 2421h12M1412 2421h24M1220 2425h12M1416 2425h24M1216 2429h12M1420 2429h24M1212 2433h16M1424 2433h24M1212 2437h12M1428 2437h24M1208 2441h16M1432 2441h28M1208 2445h16M1436 2445h16M1208 2449h12M1440 2449h4M1204 2453h16M1204 2457h16M1200 2461h16M1200 2465h16M1196 2469h20M1196 2473h16M1192 2477h20"/>
<path stroke="#fdcd31" d="M1284 2361h36M1272 2365h68M1264 2369h36M1304 2369h48M1256 2373h24M1336 2373h32M1252 2377h16M1348 2377h32M1244 2381h16M1364 2381h32M1240 2385h16M1376 2385h28M1236 2389h12M1384 2389h32M1232 2393h12M1392 2393h32M1228 2397h12M1400 2397h32M1224 2401h12M1408 2401h28M1220 2405h12M1416 2405h28M1216 2409h12M1420 2409h28M1212 2413h16M1424 2413h28M1212 2417h12M1428 2417h28M1208 2421h12M1436 2421h24M1204 2425h16M1440 2425h28M1204 2429h12M1444 2429h32M1200 2433h12M1448 2433h24M1200 2437h12M1452 2437h12M1196 2441h12M1196 2445h12M1192 2449h16M1192 2453h12M1188 2457h16M1188 2461h12M1184 2465h16M1184 2469h12M1180 2473h16M1188 2477h4"/>
<path stroke="#fccf31" d="M1036 2189h12M1476 2189h16M1036 2193h32M1472 2193h24M1032 2197h52M1472 2197h24M1028 2201h68M1472 2201h24M1028 2205h76M1476 2205h16M1032 2209h84M1148 2209h16M1036 2213h148M1044 2217h156M1052 2221h72M1132 2221h84M1256 2221h12M1064 2225h44M1144 2225h80M1248 2225h36M1076 2229h20M1156 2229h60M1252 2229h36M1164 2233h44M1260 2233h24M1172 2237h28M1280 2353h44M1268 2357h72M1260 2361h24M1320 2361h36M1252 2365h20M1340 2365h32M1248 2369h16M1352 2369h36M1240 2373h16M1368 2373h36M1236 2377h16M1380 2377h44M1232 2381h12M1396 2381h44M1228 2385h12M1404 2385h56M1224 2389h12M1416 2389h52M1220 2393h12M1424 2393h48M1216 2397h12M1432 2397h40M1212 2401h12M1436 2401h40M1208 2405h12M1444 2405h36M1204 2409h12M1448 2409h36M1204 2413h8M1452 2413h40M1200 2417h12M1456 2417h36M1196 2421h12M1460 2421h28M1192 2425h12M1468 2425h12M1192 2429h12M1188 2433h12M1188 2437h12M1184 2441h12M1184 2445h12M1180 2449h12M1180 2453h12M1176 2457h12M1172 2461h16M1172 2465h12M1168 2469h16M1176 2473h4"/>
<path stroke="#fcd030" d="M1236 2081h92M1212 2085h140M1192 2089h180M1180 2093h204M1168 2097h228M1156 2101h252M1144 2105h276M1136 2109h292M1128 2113h308M1120 2117h324M1112 2121h340M1108 2125h348M1100 2129h364M1096 2133h372M1088 2137h388M1084 2141h396M1080 2145h404M1072 2149h420M1068 2153h428M1064 2157h436M1060 2161h444M1056 2165h452M1052 2169h460M1048 2173h468M1048 2177h468M1044 2181h476M1040 2185h484M1048 2189h428M1492 2189h36M1068 2193h404M1496 2193h32M1084 2197h388M1496 2197h36M1096 2201h376M1496 2201h32M1104 2205h372M1492 2205h32M1024 2209h8M1116 2209h32M1164 2209h248M1432 2209h88M1024 2213h12M1184 2213h212M1448 2213h68M1020 2217h24M1200 2217h184M1456 2217h52M1020 2221h32M1124 2221h8M1216 2221h40M1268 2221h104M1468 2221h28M1016 2225h48M1108 2225h36M1224 2225h24M1284 2225h72M1020 2229h56M1096 2229h60M1216 2229h36M1288 2229h52M1032 2233h132M1208 2233h52M1284 2233h44M1048 2237h124M1200 2237h116M1068 2241h44M1140 2241h168M1160 2245h144M1176 2249h24M1240 2249h52M1292 2341h12M1276 2345h52M1476 2345h16M1264 2349h80M1468 2349h36M1260 2353h20M1324 2353h32M1460 2353h52M1252 2357h16M1340 2357h32M1452 2357h64M1244 2361h16M1356 2361h36M1444 2361h76M1240 2365h12M1372 2365h152M1232 2369h16M1388 2369h140M1228 2373h12M1404 2373h124M1224 2377h12M1424 2377h104M1220 2381h12M1440 2381h84M1216 2385h12M1460 2385h60M1212 2389h12M1468 2389h52M1208 2393h12M1472 2393h44M1204 2397h12M1472 2397h40M1200 2401h12M1476 2401h32M1196 2405h12M1480 2405h24M1196 2409h8M1484 2409h16M1192 2413h12M1492 2413h4M1188 2417h12M1184 2421h12M1184 2425h8M1180 2429h12M1176 2433h12M1176 2437h12M1172 2441h12M1168 2445h16M1168 2449h12M1164 2453h16M1164 2457h12M1160 2461h12M1156 2465h16M1164 2469h4"/>
<path stroke="#fbd22f" d="M1528 2201h8M1524 2205h12M1412 2209h20M1520 2209h20M1396 2213h52M1516 2213h20M1384 2217h72M1508 2217h20M1372 2221h36M1440 2221h28M1496 2221h24M1356 2225h36M1456 2225h52M1016 2229h4M1340 2229h44M1468 2229h28M1016 2233h16M1328 2233h44M1012 2237h36M1316 2237h36M1020 2241h48M1112 2241h28M1308 2241h28M1036 2245h124M1304 2245h24M1060 2249h116M1200 2249h40M1292 2249h24M1164 2253h144M1220 2257h80M1256 2261h28M1280 2333h32M1268 2337h60M1472 2337h20M1264 2341h28M1304 2341h36M1464 2341h44M1256 2345h20M1328 2345h28M1456 2345h20M1492 2345h24M1248 2349h16M1344 2349h28M1448 2349h20M1504 2349h24M1244 2353h16M1356 2353h32M1436 2353h24M1512 2353h20M1240 2357h12M1372 2357h80M1516 2357h20M1232 2361h12M1392 2361h52M1520 2361h16M1228 2365h12M1524 2365h12M1220 2369h12M1528 2369h4M1216 2373h12M1212 2377h12M1208 2381h12M1204 2385h12M1200 2389h12M1196 2393h12M1192 2397h12M1192 2401h8M1188 2405h8M1184 2409h12M1180 2413h12M1176 2417h12M1172 2421h12M1172 2425h12M1168 2429h12M1164 2433h12M1160 2437h16M1160 2441h12M1156 2445h12M1152 2449h16M1152 2453h12M1148 2457h16M1144 2461h16M1152 2465h4"/>
<path stroke="#fbd32e" d="M1536 2213h4M1528 2217h16M1408 2221h32M1520 2221h16M1392 2225h64M1508 2225h20M1384 2229h20M1448 2229h20M1496 2229h20M1372 2233h20M1460 2233h40M1352 2237h32M1012 2241h8M1336 2241h32M1012 2245h24M1328 2245h24M1012 2249h48M1316 2249h24M1032 2253h132M1308 2253h20M1056 2257h52M1152 2257h68M1300 2257h20M1188 2261h68M1284 2261h28M1224 2265h80M1248 2269h40M1280 2321h20M1272 2325h44M1264 2329h64M1260 2333h20M1312 2333h28M1468 2333h32M1252 2337h16M1328 2337h24M1460 2337h12M1492 2337h20M1248 2341h16M1340 2341h28M1448 2341h16M1508 2341h16M1244 2345h12M1356 2345h28M1440 2345h16M1516 2345h20M1236 2349h12M1372 2349h76M1528 2349h16M1232 2353h12M1388 2353h48M1532 2353h8M1228 2357h12M1536 2357h4M1220 2361h12M1216 2365h12M1212 2369h8M1208 2373h8M1204 2377h8M1200 2381h8M1196 2385h8M1192 2389h8M1188 2393h8M1184 2397h8M1180 2401h12M1176 2405h12M1172 2409h12M1168 2413h12M1164 2417h12M1160 2421h12M1160 2425h12M1156 2429h12M1152 2433h12M1148 2437h12M1144 2441h16M1144 2445h12M1140 2449h12M1136 2453h16M1136 2457h12"/>
<path stroke="#fad52d" d="M1536 2221h8M1528 2225h16M1404 2229h44M1516 2229h16M1392 2233h20M1444 2233h16M1500 2233h20M1384 2237h16M1460 2237h44M1368 2241h20M1352 2245h24M1340 2249h20M1008 2253h24M1328 2253h20M1008 2257h48M1108 2257h44M1320 2257h16M1028 2261h160M1312 2261h16M1068 2265h16M1180 2265h44M1304 2265h16M1208 2269h40M1288 2269h28M1228 2273h80M1244 2277h56M1260 2281h20M1276 2309h24M1268 2313h40M1264 2317h56M1260 2321h20M1300 2321h28M1256 2325h16M1316 2325h24M1252 2329h12M1328 2329h20M1468 2329h32M1244 2333h16M1340 2333h24M1456 2333h12M1500 2333h16M1240 2337h12M1352 2337h28M1444 2337h16M1512 2337h20M1236 2341h12M1368 2341h28M1432 2341h16M1524 2341h16M1232 2345h12M1384 2345h56M1536 2345h8M1228 2349h8M1220 2353h12M1216 2357h12M1212 2361h8M1204 2365h12M1200 2369h12M1196 2373h12M1192 2377h12M1188 2381h12M1184 2385h12M1180 2389h12M1176 2393h12M1172 2397h12M1168 2401h12M1164 2405h12M1160 2409h12M1156 2413h12M1152 2417h12M1148 2421h12M1144 2425h16M1144 2429h12M1140 2433h12M1136 2437h12M1132 2441h12M1128 2445h16M1124 2449h16M1128 2453h8"/>
<path stroke="#f9d62d" d="M1544 2225h4M1532 2229h16M1412 2233h32M1520 2233h16M1400 2237h16M1440 2237h20M1504 2237h16M1388 2241h12M1460 2241h44M1376 2245h16M1360 2249h20M1348 2253h16M1336 2257h16M1008 2261h20M1328 2261h16M1008 2265h60M1084 2265h96M1320 2265h16M1024 2269h88M1176 2269h32M1316 2269h12M1200 2273h28M1308 2273h16M1216 2277h28M1300 2277h20M1228 2281h32M1280 2281h36M1236 2285h76M1244 2289h68M1248 2293h64M1252 2297h60M1252 2301h64M1252 2305h68M1252 2309h24M1300 2309h24M1248 2313h20M1308 2313h24M1248 2317h16M1320 2317h16M1244 2321h16M1328 2321h20M1240 2325h16M1340 2325h16M1468 2325h32M1240 2329h12M1348 2329h24M1456 2329h12M1500 2329h16M1236 2333h8M1364 2333h20M1444 2333h12M1516 2333h16M1232 2337h8M1380 2337h28M1424 2337h20M1532 2337h12M1228 2341h8M1396 2341h36M1540 2341h8M1224 2345h8M1216 2349h12M1212 2353h8M1208 2357h8M1200 2361h12M1196 2365h8M1192 2369h8M1188 2373h8M1184 2377h8M1180 2381h8M1176 2385h8M1172 2389h8M1168 2393h8M1164 2397h8M1156 2401h12M1152 2405h12M1148 2409h12M1144 2413h12M1140 2417h12M1136 2421h12M1132 2425h12M1128 2429h16M1124 2433h16M1120 2437h16M1116 2441h16M1112 2445h16M1120 2449h4"/>
<path stroke="#f9d82c" d="M1536 2233h12M1416 2237h24M1520 2237h16M1400 2241h20M1444 2241h16M1504 2241h16M1392 2245h8M1464 2245h36M1380 2249h12M1364 2253h12M1352 2257h12M1344 2261h12M1336 2265h12M1008 2269h16M1112 2269h64M1328 2269h12M1008 2273h120M1168 2273h32M1324 2273h12M1020 2277h72M1196 2277h20M1320 2277h12M1208 2281h20M1316 2281h12M1220 2285h16M1312 2285h16M1224 2289h20M1312 2289h16M1232 2293h16M1312 2293h16M1236 2297h16M1312 2297h16M1236 2301h16M1316 2301h16M1236 2305h16M1320 2305h16M1236 2309h16M1324 2309h16M1236 2313h12M1332 2313h12M1236 2317h12M1336 2317h16M1232 2321h12M1348 2321h16M1476 2321h20M1232 2325h8M1356 2325h20M1456 2325h12M1500 2325h20M1228 2329h12M1372 2329h20M1444 2329h12M1516 2329h20M1224 2333h12M1384 2333h60M1532 2333h16M1220 2337h12M1408 2337h16M1544 2337h4M1216 2341h12M1212 2345h12M1208 2349h8M1204 2353h8M1196 2357h12M1192 2361h8M1188 2365h8M1184 2369h8M1180 2373h8M1176 2377h8M1172 2381h8M1168 2385h8M1160 2389h12M1156 2393h12M1152 2397h12M1144 2401h12M1140 2405h12M1136 2409h12M1132 2413h12M1128 2417h12M1124 2421h12M1120 2425h12M1116 2429h12M1112 2433h12M1104 2437h16M1104 2441h12"/>
<path stroke="#f8da2b" d="M1536 2237h16M1420 2241h24M1520 2241h20M1400 2245h16M1448 2245h16M1500 2245h20M1392 2249h8M1472 2249h24M1376 2253h12M1364 2257h12M1356 2261h12M1348 2265h12M1340 2269h12M1128 2273h40M1336 2273h12M1008 2277h12M1092 2277h104M1332 2277h12M1008 2281h100M1192 2281h16M1328 2281h12M1008 2285h72M1204 2285h16M1328 2285h12M1212 2289h12M1328 2289h12M1216 2293h16M1328 2293h12M1220 2297h16M1328 2297h12M1224 2301h12M1332 2301h12M1224 2305h12M1336 2305h12M1228 2309h8M1340 2309h12M1228 2313h8M1344 2313h16M1224 2317h12M1352 2317h16M1224 2321h8M1364 2321h16M1460 2321h16M1496 2321h20M1224 2325h8M1376 2325h16M1444 2325h12M1520 2325h16M1220 2329h8M1392 2329h52M1536 2329h16M1216 2333h8M1212 2337h8M1208 2341h8M1204 2345h8M1200 2349h8M1196 2353h8M1192 2357h4M1184 2361h8M1180 2365h8M1176 2369h8M1172 2373h8M1168 2377h8M1164 2381h8M1156 2385h12M1152 2389h8M1144 2393h12M1136 2397h16M1132 2401h12M1124 2405h16M1120 2409h16M1116 2413h16M1112 2417h16M1108 2421h16M1104 2425h16M1100 2429h16M1096 2433h16M1100 2437h4"/>
<path stroke="#f7db2a" d="M1540 2241h12M1416 2245h32M1520 2245h20M1400 2249h16M1452 2249h20M1496 2249h24M1388 2253h12M1376 2257h12M1368 2261h8M1360 2265h8M1352 2269h8M1348 2273h8M1344 2277h8M1108 2281h84M1340 2281h8M1080 2285h40M1184 2285h20M1340 2285h8M1008 2289h88M1196 2289h16M1340 2289h8M1008 2293h64M1204 2293h12M1340 2293h8M1208 2297h12M1340 2297h8M1212 2301h12M1344 2301h8M1216 2305h8M1348 2305h8M1216 2309h12M1352 2309h12M1216 2313h12M1360 2313h12M1216 2317h8M1368 2317h16M1464 2317h52M1216 2321h8M1380 2321h16M1448 2321h12M1516 2321h20M1212 2325h12M1392 2325h52M1536 2325h16M1212 2329h8M1208 2333h8M1204 2337h8M1200 2341h8M1196 2345h8M1192 2349h8M1188 2353h8M1184 2357h8M1180 2361h4M1176 2365h4M1168 2369h8M1164 2373h8M1160 2377h8M1152 2381h12M1144 2385h12M1136 2389h16M1128 2393h16M1120 2397h16M1116 2401h16M1112 2405h12M1104 2409h16M1100 2413h16M1096 2417h16M1092 2421h16M1088 2425h16M1088 2429h12M1092 2433h4"/>
<path stroke="#f7dd2a" d="M1540 2245h12M1416 2249h36M1520 2249h20M1400 2253h12M1460 2253h60M1388 2257h8M1376 2261h12M1368 2265h8M1360 2269h8M1356 2273h8M1352 2277h8M1348 2281h8M1120 2285h64M1348 2285h8M1096 2289h36M1180 2289h16M1348 2289h8M1072 2293h36M1188 2293h16M1348 2293h8M1008 2297h84M1196 2297h12M1348 2297h12M1008 2301h64M1200 2301h12M1352 2301h8M1008 2305h4M1204 2305h12M1356 2305h12M1208 2309h8M1364 2309h8M1208 2313h8M1372 2313h12M1468 2313h48M1208 2317h8M1384 2317h12M1452 2317h12M1516 2317h20M1208 2321h8M1396 2321h52M1536 2321h16M1204 2325h8M1204 2329h8M1200 2333h8M1196 2337h8M1192 2341h8M1188 2345h8M1184 2349h8M1180 2353h8M1176 2357h8M1172 2361h8M1168 2365h8M1160 2369h8M1156 2373h8M1148 2377h12M1136 2381h16M1124 2385h20M1116 2389h20M1108 2393h20M1104 2397h16M1100 2401h16M1092 2405h20M1088 2409h16M1084 2413h16M1080 2417h16M1076 2421h16M1084 2425h4"/>
<path stroke="#f6de29" d="M1540 2249h12M1412 2253h48M1520 2253h24M1396 2257h12M1464 2257h52M1388 2261h8M1376 2265h8M1368 2269h8M1364 2273h8M1360 2277h8M1356 2281h8M1356 2285h8M1132 2289h48M1356 2289h8M1108 2293h36M1168 2293h20M1356 2293h8M1092 2297h28M1184 2297h12M1360 2297h8M1072 2301h32M1188 2301h12M1360 2301h12M1012 2305h80M1196 2305h8M1368 2305h8M1008 2309h72M1196 2309h12M1372 2309h12M1476 2309h36M1008 2313h52M1200 2313h8M1384 2313h12M1456 2313h12M1516 2313h24M1200 2317h8M1396 2317h20M1432 2317h20M1536 2317h16M1200 2321h8M1196 2325h8M1196 2329h8M1192 2333h8M1188 2337h8M1184 2341h8M1180 2345h8M1176 2349h8M1172 2353h8M1168 2357h8M1164 2361h8M1156 2365h12M1152 2369h8M1140 2373h16M1124 2377h24M1108 2381h28M1100 2385h24M1096 2389h20M1088 2393h20M1084 2397h20M1080 2401h20M1076 2405h16M1068 2409h20M1068 2413h16M1072 2417h8"/>
<path stroke="#f6e028" d="M1544 2253h12M1408 2257h20M1440 2257h24M1516 2257h32M1396 2261h12M1472 2261h44M1384 2265h12M1376 2269h12M1372 2273h8M1368 2277h8M1364 2281h8M1364 2285h4M1364 2289h4M1144 2293h24M1364 2293h8M1120 2297h64M1368 2297h8M1104 2301h24M1172 2301h16M1372 2301h8M1092 2305h24M1180 2305h16M1376 2305h12M1484 2305h28M1080 2309h24M1188 2309h8M1384 2309h12M1460 2309h16M1512 2309h28M1060 2313h36M1188 2313h12M1396 2313h16M1436 2313h20M1540 2313h16M1012 2317h76M1192 2317h8M1416 2317h16M1012 2321h68M1192 2321h8M1012 2325h56M1188 2325h8M1012 2329h8M1188 2329h8M1184 2333h8M1180 2337h8M1176 2341h8M1172 2345h8M1168 2349h8M1164 2353h8M1160 2357h8M1156 2361h8M1148 2365h8M1136 2369h16M1104 2373h36M1092 2377h32M1084 2381h24M1080 2385h20M1072 2389h24M1068 2393h20M1060 2397h24M1056 2401h24M1060 2405h16M1064 2409h4"/>
<path stroke="#f5e228" d="M1428 2257h12M1548 2257h8M1408 2261h16M1448 2261h24M1516 2261h40M1396 2265h8M1476 2265h48M1388 2269h8M1380 2273h8M1376 2277h4M1372 2281h8M1368 2285h8M1368 2289h8M1372 2293h8M1376 2297h8M1128 2301h44M1380 2301h8M1484 2301h32M1116 2305h64M1388 2305h8M1460 2305h24M1512 2305h44M1104 2309h20M1172 2309h16M1396 2309h16M1440 2309h20M1540 2309h16M1096 2313h16M1176 2313h12M1412 2313h24M1088 2317h16M1180 2317h12M1080 2321h20M1180 2321h12M1068 2325h28M1180 2325h8M1020 2329h72M1180 2329h8M1016 2333h72M1176 2333h8M1016 2337h64M1172 2337h8M1016 2341h56M1168 2341h8M1020 2345h40M1164 2345h8M1020 2349h8M1160 2349h8M1156 2353h8M1152 2357h8M1144 2361h12M1088 2365h20M1128 2365h20M1068 2369h68M1060 2373h44M1052 2377h40M1040 2381h44M1044 2385h36M1044 2389h28M1048 2393h20M1052 2397h8"/>
<path stroke="#f5e327" d="M1424 2261h24M1404 2265h16M1452 2265h24M1524 2265h32M1396 2269h8M1476 2269h56M1388 2273h8M1380 2277h8M1380 2281h4M1376 2285h8M1376 2289h8M1380 2293h8M1384 2297h8M1484 2297h44M1388 2301h12M1464 2301h20M1516 2301h40M1396 2305h16M1444 2305h16M1124 2309h48M1412 2309h28M1112 2313h64M1104 2317h20M1160 2317h20M1100 2321h16M1168 2321h12M1096 2325h12M1168 2325h12M1092 2329h12M1168 2329h12M1088 2333h12M1164 2333h12M1080 2337h20M1164 2337h8M1072 2341h24M1160 2341h8M1060 2345h36M1156 2345h8M1028 2349h68M1152 2349h8M1024 2353h76M1148 2353h8M1024 2357h84M1140 2357h12M1028 2361h116M1028 2365h60M1108 2365h20M1032 2369h36M1036 2373h24M1036 2377h16"/>
<path stroke="#f5e526" d="M1420 2265h32M1404 2269h16M1456 2269h20M1532 2269h24M1396 2273h12M1472 2273h84M1388 2277h12M1488 2277h44M1552 2277h4M1384 2281h12M1500 2281h24M1384 2285h8M1500 2285h24M1384 2289h8M1492 2289h40M1388 2293h8M1476 2293h80M1392 2297h12M1464 2297h20M1528 2297h28M1400 2301h16M1448 2301h16M1412 2305h32M1124 2317h36M1116 2321h52M1108 2325h60M1104 2329h20M1148 2329h20M1100 2333h16M1152 2333h12M1100 2337h12M1148 2337h16M1096 2341h16M1148 2341h12M1096 2345h16M1144 2345h12M1096 2349h16M1140 2349h12M1100 2353h20M1132 2353h16M1108 2357h32"/>
<path stroke="#f5e626" d="M1420 2269h36M1408 2273h12M1452 2273h20M1400 2277h12M1464 2277h24M1532 2277h20M1396 2281h12M1468 2281h32M1524 2281h32M1392 2285h12M1472 2285h28M1524 2285h32M1392 2289h12M1468 2289h24M1532 2289h24M1396 2293h12M1460 2293h16M1404 2297h16M1448 2297h16M1416 2301h32M1124 2329h24M1116 2333h36M1112 2337h36M1112 2341h36M1112 2345h32M1112 2349h28M1120 2353h12"/>
<path stroke="#f5e825" d="M1420 2273h32M1412 2277h12M1448 2277h16M1408 2281h12M1452 2281h16M1404 2285h12M1456 2285h16M1404 2289h16M1452 2289h16M1408 2293h20M1440 2293h20M1420 2297h28"/>
<path stroke="#f5e924" d="M1424 2277h24M1420 2281h32M1416 2285h40M1420 2289h32M1428 2293h12"/>
</g></g>
<circle transform="translate(1282.0 2283.5) scale(1.3418 1)" r="191.9" fill="none" stroke="#000" stroke-width="2.5"/>
<g fill="#1e1600" fill-opacity="0.78">
<use href="#m" x="1218.2" y="2137.2"/>
<use href="#m" x="1345.8" y="2137.2"/>
<use href="#m" x="1115.1" y="2193.1"/>
<use href="#m" x="1448.9" y="2193.1"/>
<use href="#m" x="1085.8" y="2236.0"/>
<use href="#m" x="1478.2" y="2236.0"/>
<use href="#m" x="1075.7" y="2283.5"/>
<use href="#m" x="1488.3" y="2283.5"/>
<use href="#m" x="1085.8" y="2331.0"/>
<use href="#m" x="1478.2" y="2331.0"/>
<use href="#m" x="1115.1" y="2373.9"/>
<use href="#m" x="1448.9" y="2373.9"/>
<use href="#m" x="1218.2" y="2429.8"/>
<use href="#m" x="1345.8" y="2429.8"/>
<use href="#m" x="1282.0" y="2437.3"/>
<use href="#m" x="1196.9" y="2205.6"/>
<use href="#m" x="1367.1" y="2205.6"/>
<use href="#m" x="1182.6" y="2244.5"/>
<use href="#m" x="1381.4" y="2244.5"/>
<use href="#m" x="1178.8" y="2283.5"/>
<use href="#m" x="1385.2" y="2283.5"/>
<use href="#m" x="1182.6" y="2322.5"/>
<use href="#m" x="1381.4" y="2322.5"/>
<use href="#m" x="1196.9" y="2361.4"/>
<use href="#m" x="1367.1" y="2361.4"/>
<use href="#m" x="1282.0" y="2205.9"/>
<use href="#m" x="1282.0" y="2244.8"/>
<use href="#m" x="1282.0" y="2283.5"/>
<use href="#m" x="1282.0" y="2322.2"/>
<use href="#m" x="1282.0" y="2361.1"/>
</g>
</g>
</svg>
</body>
</html>
